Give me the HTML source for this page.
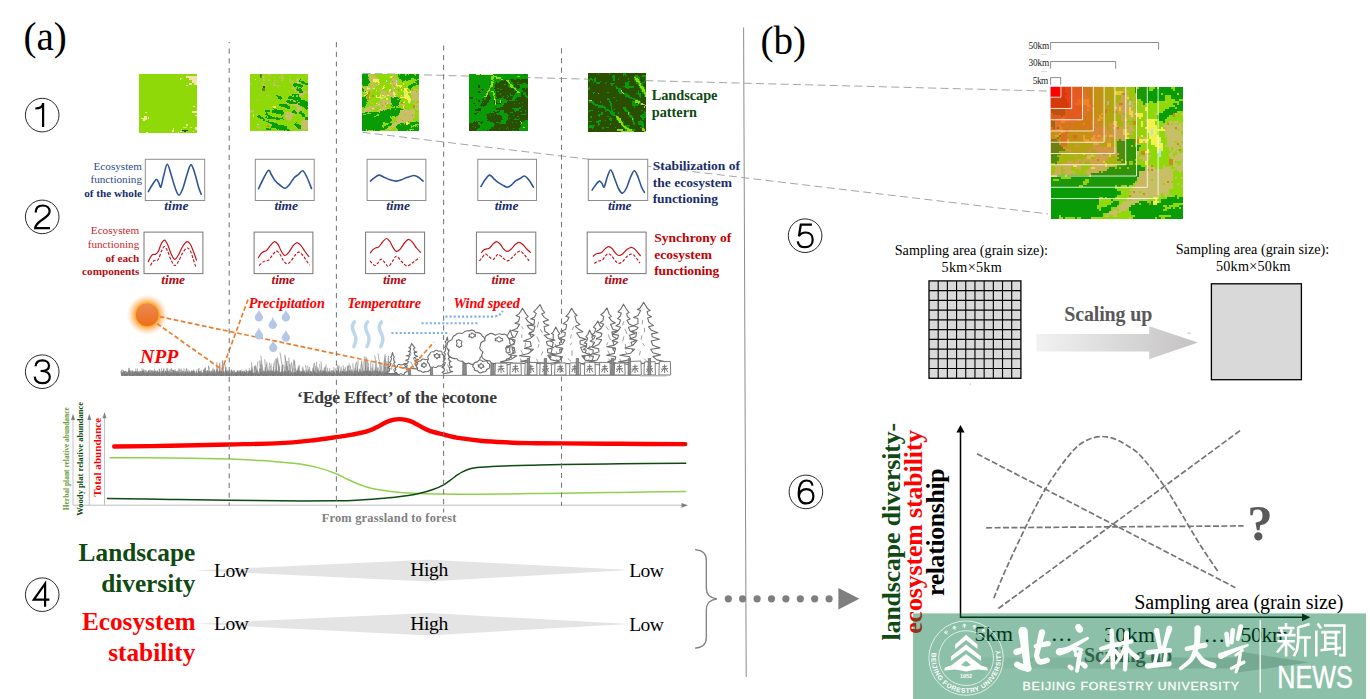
<!DOCTYPE html>
<html><head><meta charset="utf-8"><title>figure</title>
<style>
html,body{margin:0;padding:0;background:#fff;}
body{width:1370px;height:699px;overflow:hidden;font-family:"Liberation Serif",serif;}
svg{display:block;position:absolute;left:0;top:0;}
text{font-family:"Liberation Serif",serif;}
.ss{font-family:"Liberation Sans",sans-serif;}
.b{font-weight:bold;}
.i{font-style:italic;}
</style></head><body>
<svg width="1370" height="699" viewBox="0 0 1370 699">
<!-- sec_base -->
<rect width="1370" height="699" fill="#fff"/>
<text x="23.5" y="49.5" font-size="39" fill="#000">(a)</text>
<text x="760.5" y="54.2" font-size="39" fill="#000">(b)</text>
<line x1="743.6" y1="27.5" x2="746.2" y2="677" stroke="#8c8c8c" stroke-width="1"/>
<line x1="362.5" y1="73.3" x2="1050" y2="91.1" stroke="#a6a6a6" stroke-width="1" stroke-dasharray="8 4.3"/>
<line x1="362.5" y1="132.3" x2="1048" y2="213.9" stroke="#a6a6a6" stroke-width="1" stroke-dasharray="8 4.3"/>
<g transform="translate(42.2,115.1)"><circle r="16.8" fill="none" stroke="#111" stroke-width="0.9"/><path d="M-6.9,-6.6 C-2.5,-6.6 0.9,-8.2 0.9,-12 L0.9,12" fill="none" stroke="#000" stroke-width="2.2" stroke-linejoin="miter" stroke-linecap="butt"/></g>
<g transform="translate(42.2,216.9)"><circle r="16.8" fill="none" stroke="#111" stroke-width="0.9"/><path d="M-6.5,-4.3 C-6.5,-9.2 -3.4,-11.4 0.4,-11.4 C4.6,-11.4 7.4,-9 7.4,-5.3 C7.4,1.8 -6.4,3 -7,11.3 L7.8,11.3" fill="none" stroke="#000" stroke-width="2.2" stroke-linejoin="miter" stroke-linecap="butt"/></g>
<g transform="translate(42.2,371.7)"><circle r="16.8" fill="none" stroke="#111" stroke-width="0.9"/><path d="M-6.6,-5.4 C-6.4,-9.4 -3.6,-11.4 0.2,-11.4 C4.2,-11.4 6.8,-9.2 6.8,-5.9 C6.8,-2.6 4.4,-0.7 -1.6,-0.7 C5,-0.7 7.6,1.6 7.6,5.3 C7.6,9.2 4.6,11.5 0.1,11.5 C-4.4,11.5 -7.2,9.3 -7.5,5" fill="none" stroke="#000" stroke-width="2.2" stroke-linejoin="miter" stroke-linecap="butt"/></g>
<g transform="translate(42.2,594.7)"><circle r="16.8" fill="none" stroke="#111" stroke-width="0.9"/><path d="M2.9,12 L2.9,-11 L-8.4,5 L7.2,5" fill="none" stroke="#000" stroke-width="2.2" stroke-linejoin="miter" stroke-linecap="butt"/></g>
<g transform="translate(805.1,235.7)"><circle r="16.8" fill="none" stroke="#111" stroke-width="0.9"/><path d="M6.8,-11 L-4.3,-11 L-6.2,0.5 C-4.6,-2 -2.2,-3.2 0.6,-3.2 C5,-3.2 7.6,-0.3 7.6,4 C7.6,8.6 4.6,11.5 0.1,11.5 C-4,11.5 -6.9,9.4 -7.4,5.6" fill="none" stroke="#000" stroke-width="2.2" stroke-linejoin="miter" stroke-linecap="butt"/></g>
<g transform="translate(805.9,491.9)"><circle r="16.8" fill="none" stroke="#111" stroke-width="0.9"/><path d="M6.6,-6.2 C6.2,-9.6 3.8,-11.4 0.6,-11.4 C-4.6,-11.4 -7.2,-6.6 -7.2,1 C-7.2,8 -4.6,11.5 0.3,11.5 C4.8,11.5 7.5,8.6 7.5,4.3 C7.5,0.1 4.8,-2.8 0.5,-2.8 C-3.6,-2.8 -7,0 -7,4.6" fill="none" stroke="#000" stroke-width="2.2" stroke-linejoin="miter" stroke-linecap="butt"/></g>
<!-- sec_maps -->
<g shape-rendering="crispEdges"><rect x="139.40" y="74.30" width="58.00" height="58.40" fill="#8fd908"/>
<path fill="#f6e3a6" d="M186.40,76.31h11.05v1.06h-11.05zM186.40,77.32h11.05v1.06h-11.05zM180.40,78.33h2.05v1.06h-2.05zM189.40,78.33h8.05v1.06h-8.05zM180.40,79.33h1.05v1.06h-1.05zM189.40,79.33h8.05v1.06h-8.05zM192.40,80.34h5.05v1.06h-5.05zM192.40,81.35h5.05v1.06h-5.05zM192.40,82.36h5.05v1.06h-5.05zM189.40,83.36h3.05v1.06h-3.05zM194.40,83.36h3.05v1.06h-3.05zM189.40,84.37h3.05v1.06h-3.05zM194.40,84.37h3.05v1.06h-3.05zM186.40,85.38h2.05v1.06h-2.05zM193.40,105.51h2.05v1.06h-2.05zM192.40,110.55h5.05v1.06h-5.05zM145.40,111.56h2.05v1.06h-2.05zM192.40,111.56h5.05v1.06h-5.05zM195.40,114.58h2.05v1.06h-2.05zM144.40,115.58h3.05v1.06h-3.05zM144.40,116.59h3.05v1.06h-3.05zM148.40,116.59h1.05v1.06h-1.05zM141.40,117.60h6.05v1.06h-6.05zM148.40,117.60h1.05v1.06h-1.05zM143.40,118.60h4.05v1.06h-4.05zM143.40,119.61h2.05v1.06h-2.05zM186.40,123.64h2.05v1.06h-2.05zM186.40,124.64h2.05v1.06h-2.05zM195.40,126.66h2.05v1.06h-2.05zM173.40,127.67h1.05v1.06h-1.05zM195.40,127.67h2.05v1.06h-2.05zM173.40,128.67h1.05v1.06h-1.05zM195.40,128.67h2.05v1.06h-2.05zM172.40,129.68h2.05v1.06h-2.05zM172.40,130.69h2.05v1.06h-2.05zM180.40,130.69h2.05v1.06h-2.05zM193.40,130.69h1.05v1.06h-1.05zM146.40,131.69h2.05v1.06h-2.05zM178.40,131.69h1.05v1.06h-1.05z"/>
<path fill="#c6ee4a" d="M183.40,126.66h4.05v1.06h-4.05zM190.40,126.66h2.05v1.06h-2.05zM181.40,128.67h1.05v1.06h-1.05z"/>
<path fill="#2a4f00" d="M182.40,129.68h6.05v1.06h-6.05zM184.40,130.69h2.05v1.06h-2.05z"/>
</g>
<g shape-rendering="crispEdges"><rect x="249.90" y="74.00" width="58.00" height="57.20" fill="#8fd908"/>
<path fill="#6b8a12" d="M259.90,74.00h2.05v1.04h-2.05zM260.90,74.99h1.05v1.04h-1.05zM259.90,75.97h2.05v1.04h-2.05zM259.90,76.96h2.05v1.04h-2.05zM261.90,87.81h3.05v1.04h-3.05zM261.90,88.79h3.05v1.04h-3.05zM261.90,89.78h3.05v1.04h-3.05z"/>
<path fill="#c8be66" d="M267.90,74.00h3.05v1.04h-3.05zM268.90,74.99h1.05v1.04h-1.05zM275.90,74.99h1.05v1.04h-1.05zM280.90,74.99h2.05v1.04h-2.05zM305.90,74.99h1.05v1.04h-1.05zM261.90,75.97h3.05v1.04h-3.05zM281.90,75.97h1.05v1.04h-1.05zM289.90,75.97h1.05v1.04h-1.05zM296.90,75.97h1.05v1.04h-1.05zM305.90,75.97h1.05v1.04h-1.05zM261.90,76.96h2.05v1.04h-2.05zM272.90,76.96h2.05v1.04h-2.05zM278.90,76.96h5.05v1.04h-5.05zM262.90,77.94h1.05v1.04h-1.05zM265.90,77.94h1.05v1.04h-1.05zM280.90,77.94h3.05v1.04h-3.05zM295.90,77.94h3.05v1.04h-3.05zM262.90,78.93h2.05v1.04h-2.05zM267.90,78.93h2.05v1.04h-2.05zM281.90,78.93h1.05v1.04h-1.05zM288.90,78.93h2.05v1.04h-2.05zM295.90,78.93h3.05v1.04h-3.05zM258.90,79.92h1.05v1.04h-1.05zM262.90,79.92h2.05v1.04h-2.05zM267.90,79.92h2.05v1.04h-2.05zM273.90,79.92h2.05v1.04h-2.05zM280.90,79.92h2.05v1.04h-2.05zM288.90,79.92h2.05v1.04h-2.05zM292.90,79.92h1.05v1.04h-1.05zM295.90,79.92h3.05v1.04h-3.05zM276.90,80.90h1.05v1.04h-1.05zM290.90,80.90h2.05v1.04h-2.05zM296.90,80.90h2.05v1.04h-2.05zM261.90,81.89h1.05v1.04h-1.05zM272.90,81.89h2.05v1.04h-2.05zM289.90,81.89h2.05v1.04h-2.05zM294.90,81.89h2.05v1.04h-2.05zM298.90,81.89h2.05v1.04h-2.05zM249.90,82.88h2.05v1.04h-2.05zM260.90,82.88h1.05v1.04h-1.05zM262.90,82.88h1.05v1.04h-1.05zM273.90,82.88h1.05v1.04h-1.05zM291.90,82.88h1.05v1.04h-1.05zM250.90,83.86h1.05v1.04h-1.05zM261.90,83.86h2.05v1.04h-2.05zM272.90,83.86h3.05v1.04h-3.05zM261.90,84.85h1.05v1.04h-1.05zM263.90,84.85h2.05v1.04h-2.05zM272.90,84.85h3.05v1.04h-3.05zM276.90,84.85h2.05v1.04h-2.05zM265.90,85.83h1.05v1.04h-1.05zM277.90,85.83h1.05v1.04h-1.05zM283.90,85.83h1.05v1.04h-1.05zM292.90,85.83h1.05v1.04h-1.05zM302.90,85.83h1.05v1.04h-1.05zM276.90,86.82h1.05v1.04h-1.05zM291.90,86.82h2.05v1.04h-2.05zM301.90,86.82h2.05v1.04h-2.05zM258.90,87.81h1.05v1.04h-1.05zM290.90,87.81h4.05v1.04h-4.05zM300.90,87.81h1.05v1.04h-1.05zM302.90,87.81h1.05v1.04h-1.05zM293.90,88.79h2.05v1.04h-2.05zM260.90,89.78h1.05v1.04h-1.05zM293.90,89.78h2.05v1.04h-2.05zM260.90,90.77h1.05v1.04h-1.05zM294.90,90.77h1.05v1.04h-1.05zM303.90,90.77h3.05v1.04h-3.05zM288.90,91.75h1.05v1.04h-1.05zM296.90,91.75h2.05v1.04h-2.05zM302.90,91.75h4.05v1.04h-4.05zM296.90,92.74h9.05v1.04h-9.05zM298.90,93.72h5.05v1.04h-5.05zM258.90,94.71h1.05v1.04h-1.05zM265.90,94.71h1.05v1.04h-1.05zM267.90,94.71h1.05v1.04h-1.05zM278.90,94.71h1.05v1.04h-1.05zM298.90,94.71h4.05v1.04h-4.05zM269.90,95.70h1.05v1.04h-1.05zM300.90,95.70h1.05v1.04h-1.05zM302.90,95.70h1.05v1.04h-1.05zM254.90,99.64h2.05v1.04h-2.05zM257.90,99.64h1.05v1.04h-1.05zM282.90,99.64h1.05v1.04h-1.05zM289.90,99.64h1.05v1.04h-1.05zM293.90,99.64h1.05v1.04h-1.05zM296.90,99.64h1.05v1.04h-1.05zM293.90,100.63h2.05v1.04h-2.05zM285.90,101.61h1.05v1.04h-1.05zM297.90,101.61h1.05v1.04h-1.05zM286.90,102.60h2.05v1.04h-2.05zM289.90,103.59h8.05v1.04h-8.05zM276.90,104.57h1.05v1.04h-1.05zM290.90,104.57h1.05v1.04h-1.05zM293.90,104.57h5.05v1.04h-5.05zM290.90,105.56h1.05v1.04h-1.05zM295.90,105.56h3.05v1.04h-3.05zM296.90,106.54h4.05v1.04h-4.05zM296.90,107.53h5.05v1.04h-5.05zM281.90,108.52h1.05v1.04h-1.05zM296.90,108.52h5.05v1.04h-5.05zM295.90,109.50h3.05v1.04h-3.05zM249.90,110.49h4.05v1.04h-4.05zM295.90,110.49h3.05v1.04h-3.05zM302.90,110.49h1.05v1.04h-1.05zM249.90,111.48h2.05v1.04h-2.05zM286.90,111.48h1.05v1.04h-1.05zM296.90,111.48h1.05v1.04h-1.05zM284.90,112.46h6.05v1.04h-6.05zM284.90,113.45h8.05v1.04h-8.05zM255.90,114.43h1.05v1.04h-1.05zM285.90,114.43h7.05v1.04h-7.05zM284.90,115.42h9.05v1.04h-9.05zM294.90,115.42h1.05v1.04h-1.05zM284.90,116.41h7.05v1.04h-7.05zM285.90,117.39h6.05v1.04h-6.05zM254.90,118.38h1.05v1.04h-1.05zM285.90,118.38h6.05v1.04h-6.05zM303.90,118.38h1.05v1.04h-1.05zM261.90,119.37h1.05v1.04h-1.05zM286.90,119.37h4.05v1.04h-4.05zM302.90,119.37h2.05v1.04h-2.05zM288.90,120.35h2.05v1.04h-2.05zM293.90,120.35h1.05v1.04h-1.05zM301.90,120.35h6.05v1.04h-6.05zM272.90,121.34h2.05v1.04h-2.05zM300.90,121.34h7.05v1.04h-7.05zM301.90,122.32h6.05v1.04h-6.05zM300.90,123.31h7.05v1.04h-7.05zM269.90,124.30h1.05v1.04h-1.05zM300.90,124.30h7.05v1.04h-7.05zM269.90,125.28h2.05v1.04h-2.05zM301.90,125.28h6.05v1.04h-6.05zM256.90,126.27h1.05v1.04h-1.05zM258.90,126.27h1.05v1.04h-1.05zM293.90,126.27h2.05v1.04h-2.05zM301.90,126.27h6.05v1.04h-6.05zM256.90,127.26h3.05v1.04h-3.05zM295.90,127.26h1.05v1.04h-1.05zM300.90,127.26h7.05v1.04h-7.05zM258.90,128.24h1.05v1.04h-1.05zM300.90,128.24h1.05v1.04h-1.05zM302.90,128.24h5.05v1.04h-5.05zM295.90,129.23h1.05v1.04h-1.05zM301.90,129.23h4.05v1.04h-4.05zM253.90,130.21h1.05v1.04h-1.05zM301.90,130.21h3.05v1.04h-3.05z"/>
<path fill="#2a4f00" d="M259.90,74.99h1.05v1.04h-1.05zM262.90,85.83h2.05v1.04h-2.05zM262.90,86.82h2.05v1.04h-2.05z"/>
<path fill="#f6e3a6" d="M254.90,78.93h1.05v1.04h-1.05z"/>
<path fill="#0a9c06" d="M299.90,78.93h1.05v1.04h-1.05zM298.90,79.92h1.05v1.04h-1.05zM298.90,80.90h5.05v1.04h-5.05zM300.90,81.89h4.05v1.04h-4.05zM293.90,82.88h3.05v1.04h-3.05zM301.90,82.88h6.05v1.04h-6.05zM292.90,83.86h8.05v1.04h-8.05zM304.90,83.86h3.05v1.04h-3.05zM292.90,84.85h10.05v1.04h-10.05zM293.90,85.83h2.05v1.04h-2.05zM297.90,85.83h5.05v1.04h-5.05zM296.90,86.82h1.05v1.04h-1.05zM300.90,86.82h1.05v1.04h-1.05zM296.90,87.81h1.05v1.04h-1.05zM298.90,87.81h2.05v1.04h-2.05zM295.90,88.79h6.05v1.04h-6.05zM296.90,89.78h5.05v1.04h-5.05zM298.90,90.77h4.05v1.04h-4.05zM298.90,91.75h4.05v1.04h-4.05zM291.90,93.72h7.05v1.04h-7.05zM275.90,94.71h2.05v1.04h-2.05zM291.90,94.71h1.05v1.04h-1.05zM293.90,94.71h2.05v1.04h-2.05zM297.90,94.71h1.05v1.04h-1.05zM276.90,95.70h4.05v1.04h-4.05zM288.90,95.70h3.05v1.04h-3.05zM293.90,95.70h2.05v1.04h-2.05zM297.90,95.70h1.05v1.04h-1.05zM277.90,96.68h4.05v1.04h-4.05zM287.90,96.68h12.05v1.04h-12.05zM277.90,97.67h4.05v1.04h-4.05zM287.90,97.67h13.05v1.04h-13.05zM279.90,98.66h1.05v1.04h-1.05zM292.90,98.66h8.05v1.04h-8.05zM286.90,99.64h3.05v1.04h-3.05zM290.90,99.64h2.05v1.04h-2.05zM294.90,99.64h2.05v1.04h-2.05zM297.90,99.64h7.05v1.04h-7.05zM285.90,100.63h7.05v1.04h-7.05zM295.90,100.63h11.05v1.04h-11.05zM286.90,101.61h11.05v1.04h-11.05zM299.90,101.61h8.05v1.04h-8.05zM288.90,102.60h8.05v1.04h-8.05zM297.90,102.60h10.05v1.04h-10.05zM278.90,103.59h8.05v1.04h-8.05zM297.90,103.59h10.05v1.04h-10.05zM278.90,104.57h9.05v1.04h-9.05zM299.90,104.57h8.05v1.04h-8.05zM280.90,105.56h9.05v1.04h-9.05zM301.90,105.56h5.05v1.04h-5.05zM284.90,106.54h5.05v1.04h-5.05zM303.90,106.54h4.05v1.04h-4.05zM272.90,107.53h1.05v1.04h-1.05zM286.90,107.53h3.05v1.04h-3.05zM304.90,107.53h3.05v1.04h-3.05zM273.90,108.52h3.05v1.04h-3.05zM305.90,108.52h1.05v1.04h-1.05zM264.90,109.50h3.05v1.04h-3.05zM272.90,109.50h9.05v1.04h-9.05zM264.90,110.49h5.05v1.04h-5.05zM271.90,110.49h11.05v1.04h-11.05zM292.90,110.49h2.05v1.04h-2.05zM271.90,111.48h11.05v1.04h-11.05zM291.90,111.48h4.05v1.04h-4.05zM299.90,111.48h2.05v1.04h-2.05zM265.90,112.46h1.05v1.04h-1.05zM275.90,112.46h8.05v1.04h-8.05zM294.90,112.46h2.05v1.04h-2.05zM298.90,112.46h3.05v1.04h-3.05zM265.90,113.45h2.05v1.04h-2.05zM276.90,113.45h7.05v1.04h-7.05zM294.90,113.45h1.05v1.04h-1.05zM299.90,113.45h4.05v1.04h-4.05zM264.90,114.43h3.05v1.04h-3.05zM280.90,114.43h2.05v1.04h-2.05zM300.90,114.43h4.05v1.04h-4.05zM257.90,115.42h2.05v1.04h-2.05zM266.90,115.42h3.05v1.04h-3.05zM280.90,115.42h1.05v1.04h-1.05zM301.90,115.42h3.05v1.04h-3.05zM256.90,116.41h4.05v1.04h-4.05zM265.90,116.41h1.05v1.04h-1.05zM267.90,116.41h4.05v1.04h-4.05zM301.90,116.41h3.05v1.04h-3.05zM257.90,117.39h5.05v1.04h-5.05zM264.90,117.39h2.05v1.04h-2.05zM267.90,117.39h7.05v1.04h-7.05zM275.90,117.39h2.05v1.04h-2.05zM281.90,117.39h1.05v1.04h-1.05zM304.90,117.39h3.05v1.04h-3.05zM259.90,118.38h4.05v1.04h-4.05zM266.90,118.38h16.05v1.04h-16.05zM304.90,118.38h3.05v1.04h-3.05zM262.90,119.37h2.05v1.04h-2.05zM275.90,119.37h4.05v1.04h-4.05zM282.90,119.37h1.05v1.04h-1.05zM304.90,119.37h3.05v1.04h-3.05zM262.90,120.35h2.05v1.04h-2.05zM267.90,120.35h1.05v1.04h-1.05zM265.90,121.34h3.05v1.04h-3.05zM267.90,122.32h6.05v1.04h-6.05zM295.90,122.32h1.05v1.04h-1.05zM269.90,123.31h7.05v1.04h-7.05zM294.90,123.31h1.05v1.04h-1.05zM271.90,124.30h6.05v1.04h-6.05zM293.90,124.30h5.05v1.04h-5.05zM271.90,125.28h12.05v1.04h-12.05zM294.90,125.28h6.05v1.04h-6.05zM270.90,126.27h16.05v1.04h-16.05zM295.90,126.27h5.05v1.04h-5.05zM270.90,127.26h16.05v1.04h-16.05zM296.90,127.26h4.05v1.04h-4.05zM265.90,128.24h3.05v1.04h-3.05zM269.90,128.24h1.05v1.04h-1.05zM275.90,128.24h11.05v1.04h-11.05zM297.90,128.24h3.05v1.04h-3.05zM265.90,129.23h5.05v1.04h-5.05zM276.90,129.23h1.05v1.04h-1.05zM278.90,129.23h10.05v1.04h-10.05zM283.90,130.21h1.05v1.04h-1.05zM286.90,130.21h3.05v1.04h-3.05z"/>
<path fill="#c6ee4a" d="M296.90,81.89h2.05v1.04h-2.05zM252.90,114.43h1.05v1.04h-1.05zM252.90,115.42h1.05v1.04h-1.05zM252.90,116.41h1.05v1.04h-1.05z"/>
<path fill="#f4f24a" d="M272.90,105.56h3.05v1.04h-3.05zM272.90,106.54h3.05v1.04h-3.05z"/>
<path fill="#a9e4ee" d="M256.90,124.30h2.05v1.04h-2.05z"/>
<path fill="#c98a1e" d="M266.90,125.28h2.05v1.04h-2.05zM266.90,126.27h2.05v1.04h-2.05z"/>
</g>
<g shape-rendering="crispEdges"><rect x="362.30" y="74.20" width="56.80" height="56.90" fill="#8fd908"/>
<path fill="#0a9c06" d="M362.30,74.20h6.07v0.91h-6.07zM398.45,74.20h0.91v0.91h-0.91zM400.17,74.20h4.35v0.91h-4.35zM407.05,74.20h0.91v0.91h-0.91zM408.77,74.20h5.21v0.91h-5.21zM415.66,74.20h3.49v0.91h-3.49zM362.30,75.06h6.07v0.91h-6.07zM398.45,75.06h6.07v0.91h-6.07zM406.19,75.06h8.66v0.91h-8.66zM415.66,75.06h3.49v0.91h-3.49zM362.30,75.92h6.07v0.91h-6.07zM398.45,75.92h20.70v0.91h-20.70zM362.30,76.79h6.93v0.91h-6.93zM399.31,76.79h10.38v0.91h-10.38zM410.49,76.79h6.07v0.91h-6.07zM417.38,76.79h1.77v0.91h-1.77zM362.30,77.65h6.07v0.91h-6.07zM399.31,77.65h12.10v0.91h-12.10zM413.94,77.65h5.21v0.91h-5.21zM362.30,78.51h6.07v0.91h-6.07zM399.31,78.51h12.10v0.91h-12.10zM413.94,78.51h5.21v0.91h-5.21zM362.30,79.37h6.93v0.91h-6.93zM401.03,79.37h10.38v0.91h-10.38zM415.66,79.37h1.77v0.91h-1.77zM362.30,80.23h6.93v0.91h-6.93zM401.89,80.23h2.63v0.91h-2.63zM406.19,80.23h1.77v0.91h-1.77zM417.38,80.23h1.77v0.91h-1.77zM362.30,81.10h7.80v0.91h-7.80zM401.89,81.10h0.91v0.91h-0.91zM414.80,81.10h1.77v0.91h-1.77zM417.38,81.10h1.77v0.91h-1.77zM362.30,81.96h7.80v0.91h-7.80zM415.66,81.96h3.49v0.91h-3.49zM362.30,82.82h6.93v0.91h-6.93zM413.08,82.82h2.63v0.91h-2.63zM416.52,82.82h2.63v0.91h-2.63zM362.30,83.68h6.07v0.91h-6.07zM411.35,83.68h7.80v0.91h-7.80zM362.30,84.55h6.07v0.91h-6.07zM410.49,84.55h6.07v0.91h-6.07zM363.16,85.41h5.21v0.91h-5.21zM408.77,85.41h6.07v0.91h-6.07zM366.60,86.27h0.91v0.91h-0.91zM407.91,86.27h5.21v0.91h-5.21zM407.91,87.13h4.35v0.91h-4.35zM362.30,87.99h0.91v0.91h-0.91zM408.77,87.99h2.63v0.91h-2.63zM362.30,88.86h1.77v0.91h-1.77zM410.49,88.86h0.91v0.91h-0.91zM362.30,89.72h1.77v0.91h-1.77zM362.30,90.58h1.77v0.91h-1.77zM363.16,91.44h0.91v0.91h-0.91zM364.88,91.44h0.91v0.91h-0.91zM365.74,94.89h0.91v0.91h-0.91zM364.88,95.75h0.91v0.91h-0.91zM362.30,96.62h2.63v0.91h-2.63zM391.56,96.62h0.91v0.91h-0.91zM394.14,96.62h4.35v0.91h-4.35zM362.30,97.48h3.49v0.91h-3.49zM390.70,97.48h7.80v0.91h-7.80zM362.30,98.34h3.49v0.91h-3.49zM390.70,98.34h7.80v0.91h-7.80zM362.30,99.20h4.35v0.91h-4.35zM390.70,99.20h6.07v0.91h-6.07zM397.58,99.20h0.91v0.91h-0.91zM399.31,99.20h1.77v0.91h-1.77zM362.30,100.06h5.21v0.91h-5.21zM390.70,100.06h9.52v0.91h-9.52zM362.30,100.93h6.07v0.91h-6.07zM390.70,100.93h9.52v0.91h-9.52zM362.30,101.79h3.49v0.91h-3.49zM390.70,101.79h8.66v0.91h-8.66zM362.30,102.65h4.35v0.91h-4.35zM391.56,102.65h7.80v0.91h-7.80zM362.30,103.51h2.63v0.91h-2.63zM390.70,103.51h8.66v0.91h-8.66zM362.30,104.37h3.49v0.91h-3.49zM391.56,104.37h7.80v0.91h-7.80zM362.30,105.24h3.49v0.91h-3.49zM390.70,105.24h1.77v0.91h-1.77zM393.28,105.24h5.21v0.91h-5.21zM362.30,106.10h2.63v0.91h-2.63zM392.42,106.10h1.77v0.91h-1.77zM395.00,106.10h0.91v0.91h-0.91zM397.58,106.10h1.77v0.91h-1.77zM364.02,106.96h0.91v0.91h-0.91zM395.00,106.96h0.91v0.91h-0.91zM397.58,106.96h0.91v0.91h-0.91zM390.70,107.82h10.38v0.91h-10.38zM387.26,108.68h2.63v0.91h-2.63zM390.70,108.68h0.91v0.91h-0.91zM392.42,108.68h2.63v0.91h-2.63zM395.86,108.68h6.93v0.91h-6.93zM386.40,109.55h16.40v0.91h-16.40zM382.95,110.41h0.91v0.91h-0.91zM384.68,110.41h15.54v0.91h-15.54zM379.51,111.27h20.70v0.91h-20.70zM364.88,112.13h3.49v0.91h-3.49zM369.18,112.13h9.52v0.91h-9.52zM379.51,112.13h20.70v0.91h-20.70zM362.30,113.00h4.35v0.91h-4.35zM370.91,113.00h28.45v0.91h-28.45zM362.30,113.86h0.91v0.91h-0.91zM365.74,113.86h11.24v0.91h-11.24zM378.65,113.86h20.70v0.91h-20.70zM362.30,114.72h13.82v0.91h-13.82zM378.65,114.72h19.84v0.91h-19.84zM362.30,115.58h13.82v0.91h-13.82zM377.79,115.58h19.84v0.91h-19.84zM362.30,116.44h12.10v0.91h-12.10zM376.07,116.44h13.82v0.91h-13.82zM390.70,116.44h1.77v0.91h-1.77zM395.00,116.44h0.91v0.91h-0.91zM362.30,117.31h27.59v0.91h-27.59zM362.30,118.17h28.45v0.91h-28.45zM362.30,119.03h30.17v0.91h-30.17zM362.30,119.89h30.17v0.91h-30.17zM362.30,120.75h28.45v0.91h-28.45zM415.66,120.75h0.91v0.91h-0.91zM362.30,121.62h20.70v0.91h-20.70zM384.68,121.62h0.91v0.91h-0.91zM386.40,121.62h3.49v0.91h-3.49zM412.22,121.62h4.35v0.91h-4.35zM417.38,121.62h1.77v0.91h-1.77zM362.30,122.48h20.70v0.91h-20.70zM388.12,122.48h0.91v0.91h-0.91zM409.63,122.48h9.52v0.91h-9.52zM362.30,123.34h20.70v0.91h-20.70zM388.98,123.34h2.63v0.91h-2.63zM400.17,123.34h3.49v0.91h-3.49zM405.33,123.34h0.91v0.91h-0.91zM409.63,123.34h9.52v0.91h-9.52zM362.30,124.20h20.70v0.91h-20.70zM388.12,124.20h3.49v0.91h-3.49zM398.45,124.20h1.77v0.91h-1.77zM401.03,124.20h3.49v0.91h-3.49zM405.33,124.20h0.91v0.91h-0.91zM407.91,124.20h6.93v0.91h-6.93zM362.30,125.07h19.84v0.91h-19.84zM386.40,125.07h4.35v0.91h-4.35zM396.72,125.07h13.82v0.91h-13.82zM412.22,125.07h0.91v0.91h-0.91zM417.38,125.07h1.77v0.91h-1.77zM362.30,125.93h19.84v0.91h-19.84zM383.82,125.93h4.35v0.91h-4.35zM395.86,125.93h15.54v0.91h-15.54zM413.94,125.93h0.91v0.91h-0.91zM415.66,125.93h1.77v0.91h-1.77zM418.24,125.93h0.91v0.91h-0.91zM362.30,126.79h20.70v0.91h-20.70zM383.82,126.79h4.35v0.91h-4.35zM395.86,126.79h14.68v0.91h-14.68zM412.22,126.79h6.93v0.91h-6.93zM362.30,127.65h25.01v0.91h-25.01zM396.72,127.65h22.43v0.91h-22.43zM362.30,128.51h22.43v0.91h-22.43zM396.72,128.51h22.43v0.91h-22.43zM362.30,129.38h3.49v0.91h-3.49zM366.60,129.38h18.12v0.91h-18.12zM398.45,129.38h10.38v0.91h-10.38zM413.94,129.38h5.21v0.91h-5.21zM362.30,130.24h3.49v0.91h-3.49zM367.46,130.24h0.91v0.91h-0.91zM372.63,130.24h0.91v0.91h-0.91zM375.21,130.24h4.35v0.91h-4.35zM397.58,130.24h9.52v0.91h-9.52zM407.91,130.24h1.77v0.91h-1.77zM411.35,130.24h7.80v0.91h-7.80z"/>
<path fill="#c8be66" d="M368.32,74.20h2.63v0.91h-2.63zM373.49,74.20h0.91v0.91h-0.91zM368.32,75.06h4.35v0.91h-4.35zM374.35,75.06h0.91v0.91h-0.91zM393.28,75.06h0.91v0.91h-0.91zM369.18,75.92h1.77v0.91h-1.77zM371.77,75.92h5.21v0.91h-5.21zM393.28,75.92h2.63v0.91h-2.63zM369.18,76.79h7.80v0.91h-7.80zM394.14,76.79h0.91v0.91h-0.91zM416.52,76.79h0.91v0.91h-0.91zM368.32,77.65h0.91v0.91h-0.91zM370.05,77.65h7.80v0.91h-7.80zM392.42,77.65h3.49v0.91h-3.49zM398.45,77.65h0.91v0.91h-0.91zM368.32,78.51h6.93v0.91h-6.93zM376.07,78.51h2.63v0.91h-2.63zM392.42,78.51h2.63v0.91h-2.63zM397.58,78.51h0.91v0.91h-0.91zM369.18,79.37h4.35v0.91h-4.35zM378.65,79.37h0.91v0.91h-0.91zM392.42,79.37h3.49v0.91h-3.49zM370.05,80.23h3.49v0.91h-3.49zM391.56,80.23h3.49v0.91h-3.49zM396.72,80.23h1.77v0.91h-1.77zM411.35,80.23h0.91v0.91h-0.91zM370.05,81.10h2.63v0.91h-2.63zM390.70,81.10h0.91v0.91h-0.91zM393.28,81.10h2.63v0.91h-2.63zM396.72,81.10h0.91v0.91h-0.91zM370.91,81.96h4.35v0.91h-4.35zM376.07,81.96h1.77v0.91h-1.77zM389.84,81.96h8.66v0.91h-8.66zM401.03,81.96h0.91v0.91h-0.91zM370.05,82.82h3.49v0.91h-3.49zM376.93,82.82h4.35v0.91h-4.35zM390.70,82.82h0.91v0.91h-0.91zM392.42,82.82h3.49v0.91h-3.49zM396.72,82.82h0.91v0.91h-0.91zM370.05,83.68h3.49v0.91h-3.49zM375.21,83.68h1.77v0.91h-1.77zM378.65,83.68h0.91v0.91h-0.91zM390.70,83.68h0.91v0.91h-0.91zM392.42,83.68h3.49v0.91h-3.49zM396.72,83.68h1.77v0.91h-1.77zM370.05,84.55h7.80v0.91h-7.80zM390.70,84.55h5.21v0.91h-5.21zM397.58,84.55h0.91v0.91h-0.91zM372.63,85.41h5.21v0.91h-5.21zM391.56,85.41h1.77v0.91h-1.77zM395.00,85.41h0.91v0.91h-0.91zM397.58,85.41h0.91v0.91h-0.91zM407.05,85.41h0.91v0.91h-0.91zM415.66,85.41h0.91v0.91h-0.91zM418.24,85.41h0.91v0.91h-0.91zM365.74,86.27h0.91v0.91h-0.91zM367.46,86.27h3.49v0.91h-3.49zM371.77,86.27h3.49v0.91h-3.49zM392.42,86.27h1.77v0.91h-1.77zM395.86,86.27h0.91v0.91h-0.91zM397.58,86.27h0.91v0.91h-0.91zM363.16,87.13h2.63v0.91h-2.63zM368.32,87.13h2.63v0.91h-2.63zM371.77,87.13h3.49v0.91h-3.49zM381.23,87.13h0.91v0.91h-0.91zM392.42,87.13h6.07v0.91h-6.07zM364.02,87.99h2.63v0.91h-2.63zM370.05,87.99h3.49v0.91h-3.49zM376.07,87.99h0.91v0.91h-0.91zM378.65,87.99h0.91v0.91h-0.91zM392.42,87.99h1.77v0.91h-1.77zM395.86,87.99h0.91v0.91h-0.91zM402.75,87.99h0.91v0.91h-0.91zM364.02,88.86h1.77v0.91h-1.77zM368.32,88.86h4.35v0.91h-4.35zM379.51,88.86h3.49v0.91h-3.49zM393.28,88.86h0.91v0.91h-0.91zM413.08,88.86h4.35v0.91h-4.35zM364.02,89.72h2.63v0.91h-2.63zM368.32,89.72h0.91v0.91h-0.91zM379.51,89.72h1.77v0.91h-1.77zM387.26,89.72h1.77v0.91h-1.77zM393.28,89.72h2.63v0.91h-2.63zM411.35,89.72h0.91v0.91h-0.91zM413.08,89.72h0.91v0.91h-0.91zM414.80,89.72h1.77v0.91h-1.77zM417.38,89.72h1.77v0.91h-1.77zM364.02,90.58h1.77v0.91h-1.77zM369.18,90.58h0.91v0.91h-0.91zM370.91,90.58h0.91v0.91h-0.91zM380.37,90.58h0.91v0.91h-0.91zM382.95,90.58h0.91v0.91h-0.91zM384.68,90.58h0.91v0.91h-0.91zM387.26,90.58h2.63v0.91h-2.63zM390.70,90.58h0.91v0.91h-0.91zM393.28,90.58h4.35v0.91h-4.35zM410.49,90.58h7.80v0.91h-7.80zM364.02,91.44h0.91v0.91h-0.91zM370.91,91.44h0.91v0.91h-0.91zM377.79,91.44h0.91v0.91h-0.91zM380.37,91.44h6.07v0.91h-6.07zM388.12,91.44h0.91v0.91h-0.91zM389.84,91.44h0.91v0.91h-0.91zM391.56,91.44h3.49v0.91h-3.49zM395.86,91.44h1.77v0.91h-1.77zM411.35,91.44h4.35v0.91h-4.35zM416.52,91.44h2.63v0.91h-2.63zM364.02,92.30h0.91v0.91h-0.91zM381.23,92.30h5.21v0.91h-5.21zM388.12,92.30h5.21v0.91h-5.21zM395.00,92.30h3.49v0.91h-3.49zM411.35,92.30h5.21v0.91h-5.21zM417.38,92.30h1.77v0.91h-1.77zM364.02,93.17h0.91v0.91h-0.91zM367.46,93.17h0.91v0.91h-0.91zM380.37,93.17h2.63v0.91h-2.63zM383.82,93.17h3.49v0.91h-3.49zM388.12,93.17h5.21v0.91h-5.21zM395.00,93.17h1.77v0.91h-1.77zM411.35,93.17h6.93v0.91h-6.93zM380.37,94.03h4.35v0.91h-4.35zM385.54,94.03h7.80v0.91h-7.80zM395.86,94.03h1.77v0.91h-1.77zM411.35,94.03h6.93v0.91h-6.93zM375.21,94.89h0.91v0.91h-0.91zM381.23,94.89h0.91v0.91h-0.91zM383.82,94.89h0.91v0.91h-0.91zM386.40,94.89h0.91v0.91h-0.91zM388.98,94.89h5.21v0.91h-5.21zM411.35,94.89h7.80v0.91h-7.80zM378.65,95.75h0.91v0.91h-0.91zM381.23,95.75h2.63v0.91h-2.63zM385.54,95.75h0.91v0.91h-0.91zM387.26,95.75h0.91v0.91h-0.91zM388.98,95.75h5.21v0.91h-5.21zM400.17,95.75h0.91v0.91h-0.91zM401.89,95.75h1.77v0.91h-1.77zM412.22,95.75h6.93v0.91h-6.93zM385.54,96.62h0.91v0.91h-0.91zM387.26,96.62h0.91v0.91h-0.91zM392.42,96.62h1.77v0.91h-1.77zM412.22,96.62h6.93v0.91h-6.93zM379.51,97.48h0.91v0.91h-0.91zM382.09,97.48h1.77v0.91h-1.77zM386.40,97.48h1.77v0.91h-1.77zM401.89,97.48h0.91v0.91h-0.91zM403.61,97.48h0.91v0.91h-0.91zM412.22,97.48h3.49v0.91h-3.49zM416.52,97.48h1.77v0.91h-1.77zM412.22,98.34h4.35v0.91h-4.35zM417.38,98.34h1.77v0.91h-1.77zM372.63,99.20h1.77v0.91h-1.77zM380.37,99.20h1.77v0.91h-1.77zM382.95,99.20h0.91v0.91h-0.91zM411.35,99.20h6.07v0.91h-6.07zM418.24,99.20h0.91v0.91h-0.91zM367.46,100.06h0.91v0.91h-0.91zM379.51,100.06h7.80v0.91h-7.80zM388.12,100.06h2.63v0.91h-2.63zM413.08,100.06h0.91v0.91h-0.91zM414.80,100.06h4.35v0.91h-4.35zM369.18,100.93h1.77v0.91h-1.77zM378.65,100.93h0.91v0.91h-0.91zM381.23,100.93h9.52v0.91h-9.52zM413.08,100.93h0.91v0.91h-0.91zM414.80,100.93h1.77v0.91h-1.77zM370.05,101.79h0.91v0.91h-0.91zM377.79,101.79h1.77v0.91h-1.77zM382.09,101.79h8.66v0.91h-8.66zM399.31,101.79h0.91v0.91h-0.91zM404.47,101.79h0.91v0.91h-0.91zM413.94,101.79h1.77v0.91h-1.77zM416.52,101.79h0.91v0.91h-0.91zM370.91,102.65h1.77v0.91h-1.77zM376.93,102.65h2.63v0.91h-2.63zM380.37,102.65h4.35v0.91h-4.35zM385.54,102.65h1.77v0.91h-1.77zM388.12,102.65h3.49v0.91h-3.49zM399.31,102.65h0.91v0.91h-0.91zM402.75,102.65h0.91v0.91h-0.91zM413.08,102.65h1.77v0.91h-1.77zM416.52,102.65h2.63v0.91h-2.63zM366.60,103.51h0.91v0.91h-0.91zM372.63,103.51h0.91v0.91h-0.91zM381.23,103.51h6.07v0.91h-6.07zM389.84,103.51h0.91v0.91h-0.91zM401.03,103.51h0.91v0.91h-0.91zM402.75,103.51h2.63v0.91h-2.63zM413.08,103.51h1.77v0.91h-1.77zM415.66,103.51h3.49v0.91h-3.49zM376.93,104.37h0.91v0.91h-0.91zM381.23,104.37h6.07v0.91h-6.07zM400.17,104.37h4.35v0.91h-4.35zM413.94,104.37h5.21v0.91h-5.21zM373.49,105.24h1.77v0.91h-1.77zM376.07,105.24h6.07v0.91h-6.07zM382.95,105.24h3.49v0.91h-3.49zM401.89,105.24h2.63v0.91h-2.63zM414.80,105.24h4.35v0.91h-4.35zM369.18,106.10h2.63v0.91h-2.63zM372.63,106.10h1.77v0.91h-1.77zM375.21,106.10h1.77v0.91h-1.77zM378.65,106.10h6.07v0.91h-6.07zM414.80,106.10h0.91v0.91h-0.91zM418.24,106.10h0.91v0.91h-0.91zM367.46,106.96h9.52v0.91h-9.52zM379.51,106.96h1.77v0.91h-1.77zM382.09,106.96h2.63v0.91h-2.63zM414.80,106.96h1.77v0.91h-1.77zM418.24,106.96h0.91v0.91h-0.91zM364.02,107.82h2.63v0.91h-2.63zM367.46,107.82h3.49v0.91h-3.49zM373.49,107.82h1.77v0.91h-1.77zM379.51,107.82h6.07v0.91h-6.07zM386.40,107.82h2.63v0.91h-2.63zM403.61,107.82h1.77v0.91h-1.77zM410.49,107.82h0.91v0.91h-0.91zM414.80,107.82h4.35v0.91h-4.35zM364.02,108.68h2.63v0.91h-2.63zM367.46,108.68h3.49v0.91h-3.49zM372.63,108.68h2.63v0.91h-2.63zM378.65,108.68h0.91v0.91h-0.91zM381.23,108.68h5.21v0.91h-5.21zM403.61,108.68h3.49v0.91h-3.49zM410.49,108.68h3.49v0.91h-3.49zM415.66,108.68h3.49v0.91h-3.49zM364.02,109.55h2.63v0.91h-2.63zM368.32,109.55h2.63v0.91h-2.63zM374.35,109.55h0.91v0.91h-0.91zM377.79,109.55h8.66v0.91h-8.66zM402.75,109.55h0.91v0.91h-0.91zM404.47,109.55h0.91v0.91h-0.91zM406.19,109.55h9.52v0.91h-9.52zM416.52,109.55h2.63v0.91h-2.63zM364.02,110.41h2.63v0.91h-2.63zM367.46,110.41h5.21v0.91h-5.21zM376.93,110.41h6.07v0.91h-6.07zM400.17,110.41h14.68v0.91h-14.68zM417.38,110.41h0.91v0.91h-0.91zM363.16,111.27h3.49v0.91h-3.49zM368.32,111.27h2.63v0.91h-2.63zM371.77,111.27h0.91v0.91h-0.91zM377.79,111.27h1.77v0.91h-1.77zM400.17,111.27h14.68v0.91h-14.68zM362.30,112.13h2.63v0.91h-2.63zM378.65,112.13h0.91v0.91h-0.91zM400.17,112.13h14.68v0.91h-14.68zM399.31,113.00h15.54v0.91h-15.54zM415.66,113.00h0.91v0.91h-0.91zM418.24,113.00h0.91v0.91h-0.91zM399.31,113.86h6.07v0.91h-6.07zM406.19,113.86h8.66v0.91h-8.66zM399.31,114.72h12.96v0.91h-12.96zM413.08,114.72h0.91v0.91h-0.91zM398.45,115.58h12.10v0.91h-12.10zM411.35,115.58h3.49v0.91h-3.49zM416.52,115.58h0.91v0.91h-0.91zM398.45,116.44h16.40v0.91h-16.40zM418.24,116.44h0.91v0.91h-0.91zM394.14,117.31h0.91v0.91h-0.91zM397.58,117.31h17.26v0.91h-17.26zM395.86,118.17h17.26v0.91h-17.26zM392.42,119.03h0.91v0.91h-0.91zM396.72,119.03h0.91v0.91h-0.91zM398.45,119.03h1.77v0.91h-1.77zM401.03,119.03h12.10v0.91h-12.10zM395.86,119.89h6.07v0.91h-6.07zM402.75,119.89h6.93v0.91h-6.93zM410.49,119.89h2.63v0.91h-2.63zM396.72,120.75h11.24v0.91h-11.24zM408.77,120.75h0.91v0.91h-0.91zM411.35,120.75h0.91v0.91h-0.91zM413.08,120.75h0.91v0.91h-0.91zM390.70,121.62h0.91v0.91h-0.91zM395.00,121.62h10.38v0.91h-10.38zM382.95,122.48h0.91v0.91h-0.91zM395.00,122.48h0.91v0.91h-0.91zM396.72,122.48h4.35v0.91h-4.35zM401.89,122.48h1.77v0.91h-1.77zM393.28,123.34h6.93v0.91h-6.93zM392.42,124.20h4.35v0.91h-4.35zM397.58,124.20h0.91v0.91h-0.91zM391.56,125.07h5.21v0.91h-5.21zM390.70,125.93h5.21v0.91h-5.21zM388.98,126.79h1.77v0.91h-1.77zM391.56,126.79h3.49v0.91h-3.49zM387.26,127.65h5.21v0.91h-5.21zM386.40,128.51h4.35v0.91h-4.35zM385.54,129.38h1.77v0.91h-1.77zM388.98,129.38h1.77v0.91h-1.77zM365.74,130.24h0.91v0.91h-0.91zM379.51,130.24h0.91v0.91h-0.91zM395.86,130.24h0.91v0.91h-0.91z"/>
<path fill="#f4f24a" d="M389.84,75.92h3.49v0.91h-3.49zM389.84,76.79h2.63v0.91h-2.63zM375.21,78.51h0.91v0.91h-0.91zM395.00,78.51h0.91v0.91h-0.91zM373.49,79.37h5.21v0.91h-5.21zM373.49,80.23h5.21v0.91h-5.21zM372.63,81.10h6.07v0.91h-6.07zM375.21,81.96h0.91v0.91h-0.91zM377.79,81.96h1.77v0.91h-1.77zM389.84,82.82h0.91v0.91h-0.91zM391.56,82.82h0.91v0.91h-0.91zM395.86,82.82h0.91v0.91h-0.91zM402.75,82.82h0.91v0.91h-0.91zM377.79,83.68h0.91v0.91h-0.91zM391.56,83.68h0.91v0.91h-0.91zM395.86,83.68h0.91v0.91h-0.91zM402.75,83.68h0.91v0.91h-0.91zM395.86,84.55h1.77v0.91h-1.77zM383.82,85.41h0.91v0.91h-0.91zM395.86,85.41h1.77v0.91h-1.77zM398.45,85.41h3.49v0.91h-3.49zM382.95,86.27h0.91v0.91h-0.91zM396.72,86.27h0.91v0.91h-0.91zM399.31,86.27h2.63v0.91h-2.63zM366.60,87.13h1.77v0.91h-1.77zM382.95,87.13h1.77v0.91h-1.77zM400.17,87.13h0.91v0.91h-0.91zM366.60,87.99h3.49v0.91h-3.49zM373.49,87.99h1.77v0.91h-1.77zM382.09,87.99h1.77v0.91h-1.77zM394.14,87.99h0.91v0.91h-0.91zM403.61,87.99h4.35v0.91h-4.35zM366.60,88.86h1.77v0.91h-1.77zM388.98,88.86h1.77v0.91h-1.77zM401.03,88.86h0.91v0.91h-0.91zM403.61,88.86h3.49v0.91h-3.49zM376.07,89.72h0.91v0.91h-0.91zM388.98,89.72h1.77v0.91h-1.77zM401.03,89.72h0.91v0.91h-0.91zM403.61,89.72h3.49v0.91h-3.49zM389.84,90.58h0.91v0.91h-0.91zM401.03,90.58h0.91v0.91h-0.91zM403.61,90.58h4.35v0.91h-4.35zM388.98,91.44h0.91v0.91h-0.91zM402.75,91.44h5.21v0.91h-5.21zM409.63,91.44h0.91v0.91h-0.91zM393.28,92.30h1.77v0.91h-1.77zM403.61,92.30h1.77v0.91h-1.77zM406.19,92.30h5.21v0.91h-5.21zM366.60,93.17h0.91v0.91h-0.91zM393.28,93.17h1.77v0.91h-1.77zM403.61,93.17h1.77v0.91h-1.77zM406.19,93.17h1.77v0.91h-1.77zM365.74,94.03h0.91v0.91h-0.91zM393.28,94.03h2.63v0.91h-2.63zM404.47,94.03h0.91v0.91h-0.91zM406.19,94.03h1.77v0.91h-1.77zM364.02,94.89h1.77v0.91h-1.77zM376.07,94.89h0.91v0.91h-0.91zM380.37,94.89h0.91v0.91h-0.91zM382.09,94.89h1.77v0.91h-1.77zM387.26,94.89h1.77v0.91h-1.77zM394.14,94.89h0.91v0.91h-0.91zM401.03,94.89h0.91v0.91h-0.91zM404.47,94.89h4.35v0.91h-4.35zM376.07,95.75h0.91v0.91h-0.91zM379.51,95.75h1.77v0.91h-1.77zM394.14,95.75h1.77v0.91h-1.77zM404.47,95.75h5.21v0.91h-5.21zM369.18,96.62h0.91v0.91h-0.91zM376.07,96.62h2.63v0.91h-2.63zM379.51,96.62h1.77v0.91h-1.77zM400.17,96.62h4.35v0.91h-4.35zM405.33,96.62h4.35v0.91h-4.35zM369.18,97.48h0.91v0.91h-0.91zM376.93,97.48h2.63v0.91h-2.63zM400.17,97.48h1.77v0.91h-1.77zM402.75,97.48h0.91v0.91h-0.91zM405.33,97.48h3.49v0.91h-3.49zM386.40,98.34h1.77v0.91h-1.77zM405.33,98.34h5.21v0.91h-5.21zM386.40,99.20h1.77v0.91h-1.77zM407.05,99.20h3.49v0.91h-3.49zM407.91,100.06h2.63v0.91h-2.63zM403.61,100.93h0.91v0.91h-0.91zM407.91,100.93h0.91v0.91h-0.91zM409.63,100.93h0.91v0.91h-0.91zM402.75,101.79h1.77v0.91h-1.77zM407.91,101.79h0.91v0.91h-0.91zM376.07,102.65h0.91v0.91h-0.91zM387.26,102.65h0.91v0.91h-0.91zM387.26,103.51h0.91v0.91h-0.91zM384.68,106.10h0.91v0.91h-0.91zM402.75,106.10h0.91v0.91h-0.91zM385.54,106.96h0.91v0.91h-0.91zM402.75,106.96h0.91v0.91h-0.91zM371.77,107.82h1.77v0.91h-1.77zM385.54,107.82h0.91v0.91h-0.91zM379.51,108.68h1.77v0.91h-1.77zM406.19,121.62h1.77v0.91h-1.77zM407.05,122.48h0.91v0.91h-0.91zM406.19,123.34h2.63v0.91h-2.63zM406.19,124.20h1.77v0.91h-1.77z"/>
<path fill="#c98a1e" d="M393.28,76.79h0.91v0.91h-0.91zM391.56,81.10h1.77v0.91h-1.77zM379.51,81.96h1.77v0.91h-1.77zM385.54,83.68h0.91v0.91h-0.91zM385.54,84.55h0.91v0.91h-0.91zM388.98,84.55h1.77v0.91h-1.77zM414.80,85.41h0.91v0.91h-0.91zM414.80,86.27h0.91v0.91h-0.91zM397.58,88.86h1.77v0.91h-1.77zM397.58,89.72h1.77v0.91h-1.77zM412.22,89.72h0.91v0.91h-0.91zM390.70,91.44h0.91v0.91h-0.91zM415.66,91.44h0.91v0.91h-0.91zM368.32,92.30h1.77v0.91h-1.77zM368.32,93.17h1.77v0.91h-1.77zM366.60,94.03h2.63v0.91h-2.63zM366.60,94.89h2.63v0.91h-2.63zM371.77,94.89h1.77v0.91h-1.77zM366.60,95.75h2.63v0.91h-2.63zM371.77,95.75h1.77v0.91h-1.77zM366.60,96.62h2.63v0.91h-2.63zM398.45,96.62h1.77v0.91h-1.77zM366.60,97.48h2.63v0.91h-2.63zM398.45,97.48h1.77v0.91h-1.77zM366.60,98.34h2.63v0.91h-2.63zM416.52,98.34h0.91v0.91h-0.91zM366.60,99.20h2.63v0.91h-2.63zM417.38,100.93h0.91v0.91h-0.91zM401.03,101.79h1.77v0.91h-1.77zM384.68,102.65h0.91v0.91h-0.91zM401.03,102.65h1.77v0.91h-1.77zM382.09,105.24h0.91v0.91h-0.91zM413.08,105.24h1.77v0.91h-1.77zM413.08,106.10h1.77v0.91h-1.77zM413.08,106.96h1.77v0.91h-1.77zM405.33,107.82h0.91v0.91h-0.91zM403.61,109.55h0.91v0.91h-0.91zM405.33,109.55h0.91v0.91h-0.91zM412.22,114.72h0.91v0.91h-0.91zM397.58,119.03h0.91v0.91h-0.91zM401.89,119.89h0.91v0.91h-0.91zM395.86,120.75h0.91v0.91h-0.91zM407.91,120.75h0.91v0.91h-0.91zM404.47,124.20h0.91v0.91h-0.91z"/>
<path fill="#a9e4ee" d="M386.40,80.23h0.91v0.91h-0.91zM395.86,80.23h0.91v0.91h-0.91zM386.40,81.10h0.91v0.91h-0.91zM395.86,81.10h0.91v0.91h-0.91zM405.33,92.30h0.91v0.91h-0.91zM405.33,93.17h0.91v0.91h-0.91zM405.33,94.03h0.91v0.91h-0.91zM408.77,97.48h0.91v0.91h-0.91zM408.77,100.93h0.91v0.91h-0.91zM408.77,101.79h0.91v0.91h-0.91zM408.77,102.65h0.91v0.91h-0.91zM408.77,103.51h0.91v0.91h-0.91z"/>
<path fill="#c6ee4a" d="M365.74,90.58h0.91v0.91h-0.91zM365.74,91.44h1.77v0.91h-1.77zM364.88,92.30h2.63v0.91h-2.63zM384.68,94.89h1.77v0.91h-1.77zM383.82,95.75h1.77v0.91h-1.77zM381.23,96.62h4.35v0.91h-4.35zM380.37,97.48h1.77v0.91h-1.77zM380.37,98.34h2.63v0.91h-2.63zM379.51,102.65h0.91v0.91h-0.91zM377.79,103.51h3.49v0.91h-3.49zM377.79,104.37h1.77v0.91h-1.77z"/>
</g>
<g shape-rendering="crispEdges"><rect x="469.00" y="74.00" width="59.00" height="57.20" fill="#0a9c06"/>
<path fill="#f6e3a6" d="M476.08,74.00h3.59v1.19h-3.59zM480.80,74.00h11.85v1.19h-11.85z"/>
<path fill="#2a4f00" d="M524.46,74.00h1.23v1.19h-1.23zM510.30,78.58h3.59v1.19h-3.59zM516.20,78.58h3.59v1.19h-3.59zM520.92,78.58h7.13v1.19h-7.13zM502.04,79.72h1.23v1.19h-1.23zM504.40,79.72h1.23v1.19h-1.23zM511.48,79.72h16.57v1.19h-16.57zM499.68,80.86h7.13v1.19h-7.13zM511.48,80.86h16.57v1.19h-16.57zM496.14,82.01h1.23v1.19h-1.23zM498.50,82.01h9.49v1.19h-9.49zM512.66,82.01h4.77v1.19h-4.77zM518.56,82.01h9.49v1.19h-9.49zM496.14,83.15h11.85v1.19h-11.85zM512.66,83.15h9.49v1.19h-9.49zM525.64,83.15h2.41v1.19h-2.41zM489.06,84.30h1.23v1.19h-1.23zM494.96,84.30h9.49v1.19h-9.49zM505.58,84.30h2.41v1.19h-2.41zM513.84,84.30h3.59v1.19h-3.59zM522.10,84.30h1.23v1.19h-1.23zM478.44,85.44h1.23v1.19h-1.23zM494.96,85.44h13.03v1.19h-13.03zM513.84,85.44h5.95v1.19h-5.95zM478.44,86.58h1.23v1.19h-1.23zM494.96,86.58h14.21v1.19h-14.21zM516.20,86.58h3.59v1.19h-3.59zM493.78,87.73h3.59v1.19h-3.59zM498.50,87.73h14.21v1.19h-14.21zM517.38,87.73h1.23v1.19h-1.23zM522.10,87.73h2.41v1.19h-2.41zM525.64,87.73h2.41v1.19h-2.41zM480.80,88.87h3.59v1.19h-3.59zM494.96,88.87h4.77v1.19h-4.77zM502.04,88.87h11.85v1.19h-11.85zM522.10,88.87h5.95v1.19h-5.95zM481.98,90.02h1.23v1.19h-1.23zM494.96,90.02h18.93v1.19h-18.93zM523.28,90.02h4.77v1.19h-4.77zM478.44,91.16h1.23v1.19h-1.23zM493.78,91.16h1.23v1.19h-1.23zM496.14,91.16h1.23v1.19h-1.23zM498.50,91.16h18.93v1.19h-18.93zM523.28,91.16h4.77v1.19h-4.77zM478.44,92.30h2.41v1.19h-2.41zM485.52,92.30h1.23v1.19h-1.23zM496.14,92.30h20.11v1.19h-20.11zM520.92,92.30h2.41v1.19h-2.41zM525.64,92.30h2.41v1.19h-2.41zM487.88,93.45h1.23v1.19h-1.23zM496.14,93.45h3.59v1.19h-3.59zM500.86,93.45h9.49v1.19h-9.49zM511.48,93.45h3.59v1.19h-3.59zM520.92,93.45h2.41v1.19h-2.41zM525.64,93.45h2.41v1.19h-2.41zM486.70,94.59h3.59v1.19h-3.59zM496.14,94.59h10.67v1.19h-10.67zM507.94,94.59h2.41v1.19h-2.41zM512.66,94.59h1.23v1.19h-1.23zM520.92,94.59h3.59v1.19h-3.59zM526.82,94.59h1.23v1.19h-1.23zM486.70,95.74h3.59v1.19h-3.59zM496.14,95.74h7.13v1.19h-7.13zM504.40,95.74h3.59v1.19h-3.59zM509.12,95.74h3.59v1.19h-3.59zM520.92,95.74h3.59v1.19h-3.59zM469.00,96.88h3.59v1.19h-3.59zM485.52,96.88h5.95v1.19h-5.95zM497.32,96.88h4.77v1.19h-4.77zM503.22,96.88h3.59v1.19h-3.59zM507.94,96.88h4.77v1.19h-4.77zM517.38,96.88h8.31v1.19h-8.31zM470.18,98.02h2.41v1.19h-2.41zM483.16,98.02h1.23v1.19h-1.23zM485.52,98.02h5.95v1.19h-5.95zM496.14,98.02h2.41v1.19h-2.41zM504.40,98.02h7.13v1.19h-7.13zM516.20,98.02h11.85v1.19h-11.85zM476.08,99.17h1.23v1.19h-1.23zM481.98,99.17h2.41v1.19h-2.41zM485.52,99.17h4.77v1.19h-4.77zM505.58,99.17h5.95v1.19h-5.95zM515.02,99.17h13.03v1.19h-13.03zM478.44,100.31h1.23v1.19h-1.23zM483.16,100.31h5.95v1.19h-5.95zM493.78,100.31h1.23v1.19h-1.23zM507.94,100.31h1.23v1.19h-1.23zM515.02,100.31h1.23v1.19h-1.23zM517.38,100.31h10.67v1.19h-10.67zM481.98,101.46h1.23v1.19h-1.23zM484.34,101.46h3.59v1.19h-3.59zM493.78,101.46h1.23v1.19h-1.23zM496.14,101.46h1.23v1.19h-1.23zM500.86,101.46h1.23v1.19h-1.23zM506.76,101.46h15.39v1.19h-15.39zM523.28,101.46h4.77v1.19h-4.77zM472.54,102.60h2.41v1.19h-2.41zM480.80,102.60h5.95v1.19h-5.95zM493.78,102.60h1.23v1.19h-1.23zM496.14,102.60h4.77v1.19h-4.77zM504.40,102.60h9.49v1.19h-9.49zM515.02,102.60h3.59v1.19h-3.59zM519.74,102.60h8.31v1.19h-8.31zM480.80,103.74h5.95v1.19h-5.95zM504.40,103.74h23.65v1.19h-23.65zM474.90,104.89h1.23v1.19h-1.23zM479.62,104.89h5.95v1.19h-5.95zM503.22,104.89h24.83v1.19h-24.83zM480.80,106.03h1.23v1.19h-1.23zM483.16,106.03h1.23v1.19h-1.23zM503.22,106.03h18.93v1.19h-18.93zM523.28,106.03h4.77v1.19h-4.77zM494.96,107.18h1.23v1.19h-1.23zM499.68,107.18h18.93v1.19h-18.93zM520.92,107.18h7.13v1.19h-7.13zM478.44,108.32h2.41v1.19h-2.41zM496.14,108.32h15.39v1.19h-15.39zM520.92,108.32h7.13v1.19h-7.13zM474.90,109.46h5.95v1.19h-5.95zM498.50,109.46h1.23v1.19h-1.23zM504.40,109.46h9.49v1.19h-9.49zM518.56,109.46h5.95v1.19h-5.95zM525.64,109.46h2.41v1.19h-2.41zM492.60,110.61h2.41v1.19h-2.41zM497.32,110.61h2.41v1.19h-2.41zM504.40,110.61h10.67v1.19h-10.67zM516.20,110.61h3.59v1.19h-3.59zM522.10,110.61h2.41v1.19h-2.41zM525.64,110.61h2.41v1.19h-2.41zM477.26,111.75h1.23v1.19h-1.23zM493.78,111.75h4.77v1.19h-4.77zM504.40,111.75h5.95v1.19h-5.95zM512.66,111.75h15.39v1.19h-15.39zM473.72,112.90h3.59v1.19h-3.59zM489.06,112.90h7.13v1.19h-7.13zM506.76,112.90h17.75v1.19h-17.75zM525.64,112.90h2.41v1.19h-2.41zM474.90,114.04h1.23v1.19h-1.23zM485.52,114.04h8.31v1.19h-8.31zM494.96,114.04h2.41v1.19h-2.41zM507.94,114.04h13.03v1.19h-13.03zM525.64,114.04h2.41v1.19h-2.41zM486.70,115.18h3.59v1.19h-3.59zM491.42,115.18h9.49v1.19h-9.49zM509.12,115.18h3.59v1.19h-3.59zM513.84,115.18h14.21v1.19h-14.21zM486.70,116.33h15.39v1.19h-15.39zM507.94,116.33h9.49v1.19h-9.49zM518.56,116.33h9.49v1.19h-9.49zM486.70,117.47h15.39v1.19h-15.39zM507.94,117.47h1.23v1.19h-1.23zM510.30,117.47h4.77v1.19h-4.77zM516.20,117.47h2.41v1.19h-2.41zM519.74,117.47h8.31v1.19h-8.31zM487.88,118.62h15.39v1.19h-15.39zM507.94,118.62h5.95v1.19h-5.95zM518.56,118.62h9.49v1.19h-9.49zM486.70,119.76h14.21v1.19h-14.21zM506.76,119.76h17.75v1.19h-17.75zM473.72,120.90h1.23v1.19h-1.23zM476.08,120.90h1.23v1.19h-1.23zM478.44,120.90h1.23v1.19h-1.23zM481.98,120.90h1.23v1.19h-1.23zM490.24,120.90h10.67v1.19h-10.67zM505.58,120.90h14.21v1.19h-14.21zM520.92,120.90h2.41v1.19h-2.41zM472.54,122.05h5.95v1.19h-5.95zM479.62,122.05h3.59v1.19h-3.59zM492.60,122.05h3.59v1.19h-3.59zM498.50,122.05h1.23v1.19h-1.23zM505.58,122.05h5.95v1.19h-5.95zM512.66,122.05h3.59v1.19h-3.59zM517.38,122.05h3.59v1.19h-3.59zM469.00,123.19h9.49v1.19h-9.49zM480.80,123.19h1.23v1.19h-1.23zM493.78,123.19h4.77v1.19h-4.77zM505.58,123.19h15.39v1.19h-15.39zM469.00,124.34h9.49v1.19h-9.49zM494.96,124.34h24.83v1.19h-24.83zM469.00,125.48h3.59v1.19h-3.59zM473.72,125.48h5.95v1.19h-5.95zM493.78,125.48h27.19v1.19h-27.19zM469.00,126.62h5.95v1.19h-5.95zM476.08,126.62h3.59v1.19h-3.59zM491.42,126.62h15.39v1.19h-15.39zM507.94,126.62h11.85v1.19h-11.85zM469.00,127.77h9.49v1.19h-9.49zM491.42,127.77h7.13v1.19h-7.13zM499.68,127.77h5.95v1.19h-5.95zM506.76,127.77h5.95v1.19h-5.95zM513.84,127.77h4.77v1.19h-4.77zM469.00,128.91h8.31v1.19h-8.31zM483.16,128.91h1.23v1.19h-1.23zM489.06,128.91h18.93v1.19h-18.93zM509.12,128.91h9.49v1.19h-9.49zM469.00,130.06h7.13v1.19h-7.13zM486.70,130.06h1.23v1.19h-1.23zM489.06,130.06h22.47v1.19h-22.47zM513.84,130.06h2.41v1.19h-2.41zM517.38,130.06h1.23v1.19h-1.23z"/>
<path fill="#8fd908" d="M492.60,75.14h1.23v1.19h-1.23zM491.42,76.29h5.95v1.19h-5.95zM517.38,76.29h2.41v1.19h-2.41zM491.42,77.43h2.41v1.19h-2.41zM497.32,77.43h3.59v1.19h-3.59zM491.42,78.58h1.23v1.19h-1.23zM502.04,78.58h1.23v1.19h-1.23zM492.60,79.72h1.23v1.19h-1.23zM505.58,79.72h3.59v1.19h-3.59zM491.42,80.86h1.23v1.19h-1.23zM506.76,80.86h2.41v1.19h-2.41zM492.60,82.01h1.23v1.19h-1.23zM507.94,82.01h2.41v1.19h-2.41zM491.42,83.15h1.23v1.19h-1.23zM509.12,83.15h1.23v1.19h-1.23zM510.30,84.30h1.23v1.19h-1.23zM490.24,85.44h2.41v1.19h-2.41zM510.30,85.44h2.41v1.19h-2.41zM490.24,86.58h1.23v1.19h-1.23zM511.48,86.58h2.41v1.19h-2.41zM489.06,87.73h1.23v1.19h-1.23zM513.84,87.73h2.41v1.19h-2.41zM489.06,88.87h1.23v1.19h-1.23zM515.02,88.87h1.23v1.19h-1.23zM487.88,90.02h1.23v1.19h-1.23zM516.20,90.02h1.23v1.19h-1.23zM486.70,91.16h2.41v1.19h-2.41zM492.60,91.16h1.23v1.19h-1.23zM517.38,91.16h1.23v1.19h-1.23zM486.70,92.30h1.23v1.19h-1.23zM492.60,92.30h1.23v1.19h-1.23zM517.38,92.30h2.41v1.19h-2.41zM485.52,93.45h2.41v1.19h-2.41zM492.60,93.45h2.41v1.19h-2.41zM485.52,94.59h1.23v1.19h-1.23zM492.60,94.59h1.23v1.19h-1.23zM484.34,95.74h2.41v1.19h-2.41zM493.78,95.74h1.23v1.19h-1.23zM493.78,96.88h1.23v1.19h-1.23zM493.78,98.02h1.23v1.19h-1.23zM494.96,99.17h1.23v1.19h-1.23zM494.96,100.31h1.23v1.19h-1.23zM499.68,100.31h1.23v1.19h-1.23zM494.96,101.46h1.23v1.19h-1.23zM499.68,101.46h1.23v1.19h-1.23zM494.96,103.74h1.23v1.19h-1.23zM519.74,120.90h1.23v1.19h-1.23zM520.92,122.05h1.23v1.19h-1.23zM520.92,123.19h1.23v1.19h-1.23zM523.28,126.62h1.23v1.19h-1.23z"/>
<path fill="#c8be66" d="M496.14,77.43h1.23v1.19h-1.23zM500.86,78.58h1.23v1.19h-1.23zM491.42,82.01h1.23v1.19h-1.23zM491.42,84.30h1.23v1.19h-1.23zM489.06,90.02h1.23v1.19h-1.23zM491.42,91.16h1.23v1.19h-1.23z"/>
<path fill="#f4f24a" d="M493.78,99.17h1.23v1.19h-1.23zM494.96,102.60h1.23v1.19h-1.23z"/>
</g>
<g shape-rendering="crispEdges"><rect x="587.90" y="73.40" width="58.20" height="58.40" fill="#2a4f00"/>
<path fill="#0a9c06" d="M597.60,73.40h1.26v1.27h-1.26zM608.51,73.40h1.26v1.27h-1.26zM623.06,73.40h2.48v1.27h-2.48zM613.36,74.62h1.26v1.27h-1.26zM623.06,74.62h1.26v1.27h-1.26zM625.49,74.62h1.26v1.27h-1.26zM635.19,74.62h2.48v1.27h-2.48zM642.46,74.62h3.69v1.27h-3.69zM612.15,75.83h2.48v1.27h-2.48zM633.98,75.83h4.90v1.27h-4.90zM642.46,75.83h3.69v1.27h-3.69zM595.17,77.05h1.26v1.27h-1.26zM612.15,77.05h2.48v1.27h-2.48zM636.40,77.05h3.69v1.27h-3.69zM644.89,77.05h1.26v1.27h-1.26zM590.32,78.27h1.26v1.27h-1.26zM593.96,78.27h2.48v1.27h-2.48zM613.36,78.27h1.26v1.27h-1.26zM618.21,78.27h1.26v1.27h-1.26zM627.91,78.27h1.26v1.27h-1.26zM633.98,78.27h1.26v1.27h-1.26zM637.61,78.27h2.48v1.27h-2.48zM644.89,78.27h1.26v1.27h-1.26zM587.90,79.48h2.48v1.27h-2.48zM591.54,79.48h1.26v1.27h-1.26zM593.96,79.48h2.48v1.27h-2.48zM613.36,79.48h1.26v1.27h-1.26zM633.98,79.48h2.48v1.27h-2.48zM638.82,79.48h1.26v1.27h-1.26zM644.89,79.48h1.26v1.27h-1.26zM589.11,80.70h1.26v1.27h-1.26zM593.96,80.70h2.48v1.27h-2.48zM600.02,80.70h1.26v1.27h-1.26zM627.91,80.70h2.48v1.27h-2.48zM635.19,80.70h1.26v1.27h-1.26zM640.04,80.70h1.26v1.27h-1.26zM643.67,80.70h1.26v1.27h-1.26zM592.75,81.92h1.26v1.27h-1.26zM596.39,81.92h3.69v1.27h-3.69zM606.09,81.92h1.26v1.27h-1.26zM625.49,81.92h3.69v1.27h-3.69zM636.40,81.92h1.26v1.27h-1.26zM640.04,81.92h1.26v1.27h-1.26zM642.46,81.92h2.48v1.27h-2.48zM596.39,83.13h3.69v1.27h-3.69zM604.88,83.13h1.26v1.27h-1.26zM609.73,83.13h4.90v1.27h-4.90zM625.49,83.13h3.69v1.27h-3.69zM636.40,83.13h2.48v1.27h-2.48zM641.25,83.13h1.26v1.27h-1.26zM610.94,84.35h2.48v1.27h-2.48zM625.49,84.35h3.69v1.27h-3.69zM637.61,84.35h1.26v1.27h-1.26zM641.25,84.35h1.26v1.27h-1.26zM614.57,85.57h2.48v1.27h-2.48zM623.06,85.57h10.96v1.27h-10.96zM638.82,85.57h1.26v1.27h-1.26zM642.46,85.57h1.26v1.27h-1.26zM589.11,86.78h1.26v1.27h-1.26zM615.79,86.78h2.48v1.27h-2.48zM625.49,86.78h8.54v1.27h-8.54zM638.82,86.78h1.26v1.27h-1.26zM643.67,86.78h1.26v1.27h-1.26zM587.90,88.00h2.48v1.27h-2.48zM615.79,88.00h4.90v1.27h-4.90zM626.70,88.00h2.48v1.27h-2.48zM640.04,88.00h1.26v1.27h-1.26zM643.67,88.00h1.26v1.27h-1.26zM587.90,89.22h2.48v1.27h-2.48zM618.21,89.22h2.48v1.27h-2.48zM640.04,89.22h2.48v1.27h-2.48zM644.89,89.22h1.26v1.27h-1.26zM618.21,90.43h2.48v1.27h-2.48zM637.61,90.43h1.26v1.27h-1.26zM641.25,90.43h1.26v1.27h-1.26zM644.89,90.43h1.26v1.27h-1.26zM592.75,91.65h2.48v1.27h-2.48zM607.30,91.65h1.26v1.27h-1.26zM619.42,91.65h2.48v1.27h-2.48zM623.06,91.65h1.26v1.27h-1.26zM637.61,91.65h1.26v1.27h-1.26zM642.46,91.65h1.26v1.27h-1.26zM592.75,92.87h1.26v1.27h-1.26zM619.42,92.87h3.69v1.27h-3.69zM624.27,92.87h2.48v1.27h-2.48zM636.40,92.87h4.90v1.27h-4.90zM642.46,92.87h1.26v1.27h-1.26zM624.27,94.08h3.69v1.27h-3.69zM637.61,94.08h3.69v1.27h-3.69zM643.67,94.08h1.26v1.27h-1.26zM625.49,95.30h4.90v1.27h-4.90zM638.82,95.30h2.48v1.27h-2.48zM643.67,95.30h1.26v1.27h-1.26zM613.36,96.52h1.26v1.27h-1.26zM627.91,96.52h3.69v1.27h-3.69zM640.04,96.52h1.26v1.27h-1.26zM607.30,97.73h1.26v1.27h-1.26zM630.34,97.73h4.90v1.27h-4.90zM607.30,98.95h2.48v1.27h-2.48zM632.76,98.95h4.90v1.27h-4.90zM587.90,100.17h1.26v1.27h-1.26zM608.51,100.17h1.26v1.27h-1.26zM615.79,100.17h1.26v1.27h-1.26zM637.61,100.17h2.48v1.27h-2.48zM589.11,101.38h4.90v1.27h-4.90zM600.02,101.38h1.26v1.27h-1.26zM608.51,101.38h2.48v1.27h-2.48zM631.55,101.38h3.69v1.27h-3.69zM640.04,101.38h1.26v1.27h-1.26zM591.54,102.60h3.69v1.27h-3.69zM609.73,102.60h2.48v1.27h-2.48zM631.55,102.60h4.90v1.27h-4.90zM638.82,102.60h2.48v1.27h-2.48zM592.75,103.82h4.90v1.27h-4.90zM609.73,103.82h2.48v1.27h-2.48zM631.55,103.82h7.33v1.27h-7.33zM640.04,103.82h1.26v1.27h-1.26zM595.17,105.03h7.33v1.27h-7.33zM609.73,105.03h2.48v1.27h-2.48zM631.55,105.03h6.11v1.27h-6.11zM597.60,106.25h7.33v1.27h-7.33zM610.94,106.25h1.26v1.27h-1.26zM633.98,106.25h1.26v1.27h-1.26zM603.66,107.47h2.48v1.27h-2.48zM610.94,107.47h1.26v1.27h-1.26zM623.06,107.47h2.48v1.27h-2.48zM604.88,108.68h3.69v1.27h-3.69zM610.94,108.68h1.26v1.27h-1.26zM613.36,108.68h1.26v1.27h-1.26zM624.27,108.68h2.48v1.27h-2.48zM589.11,109.90h3.69v1.27h-3.69zM606.09,109.90h3.69v1.27h-3.69zM610.94,109.90h2.48v1.27h-2.48zM624.27,109.90h3.69v1.27h-3.69zM641.25,109.90h1.26v1.27h-1.26zM587.90,111.12h2.48v1.27h-2.48zM597.60,111.12h1.26v1.27h-1.26zM604.88,111.12h1.26v1.27h-1.26zM608.51,111.12h4.90v1.27h-4.90zM625.49,111.12h3.69v1.27h-3.69zM643.67,111.12h1.26v1.27h-1.26zM601.24,112.33h1.26v1.27h-1.26zM609.73,112.33h4.90v1.27h-4.90zM618.21,112.33h1.26v1.27h-1.26zM629.12,112.33h1.26v1.27h-1.26zM643.67,112.33h2.48v1.27h-2.48zM597.60,113.55h4.90v1.27h-4.90zM610.94,113.55h3.69v1.27h-3.69zM629.12,113.55h1.26v1.27h-1.26zM642.46,113.55h3.69v1.27h-3.69zM597.60,114.77h2.48v1.27h-2.48zM612.15,114.77h4.90v1.27h-4.90zM629.12,114.77h2.48v1.27h-2.48zM640.04,114.77h2.48v1.27h-2.48zM643.67,114.77h2.48v1.27h-2.48zM590.32,115.98h1.26v1.27h-1.26zM598.81,115.98h1.26v1.27h-1.26zM607.30,115.98h1.26v1.27h-1.26zM618.21,115.98h1.26v1.27h-1.26zM629.12,115.98h3.69v1.27h-3.69zM640.04,115.98h6.11v1.27h-6.11zM590.32,117.20h1.26v1.27h-1.26zM609.73,117.20h1.26v1.27h-1.26zM630.34,117.20h2.48v1.27h-2.48zM641.25,117.20h4.90v1.27h-4.90zM608.51,118.42h3.69v1.27h-3.69zM615.79,118.42h1.26v1.27h-1.26zM632.76,118.42h1.26v1.27h-1.26zM642.46,118.42h1.26v1.27h-1.26zM597.60,119.63h3.69v1.27h-3.69zM604.88,119.63h1.26v1.27h-1.26zM609.73,119.63h2.48v1.27h-2.48zM617.00,119.63h1.26v1.27h-1.26zM620.64,119.63h1.26v1.27h-1.26zM631.55,119.63h2.48v1.27h-2.48zM640.04,119.63h1.26v1.27h-1.26zM587.90,120.85h3.69v1.27h-3.69zM596.39,120.85h4.90v1.27h-4.90zM618.21,120.85h1.26v1.27h-1.26zM623.06,120.85h1.26v1.27h-1.26zM631.55,120.85h2.48v1.27h-2.48zM637.61,120.85h4.90v1.27h-4.90zM596.39,122.07h2.48v1.27h-2.48zM618.21,122.07h1.26v1.27h-1.26zM632.76,122.07h2.48v1.27h-2.48zM637.61,122.07h4.90v1.27h-4.90zM597.60,123.28h2.48v1.27h-2.48zM609.73,123.28h1.26v1.27h-1.26zM623.06,123.28h1.26v1.27h-1.26zM632.76,123.28h2.48v1.27h-2.48zM637.61,123.28h6.11v1.27h-6.11zM589.11,124.50h6.11v1.27h-6.11zM597.60,124.50h1.26v1.27h-1.26zM620.64,124.50h1.26v1.27h-1.26zM624.27,124.50h6.11v1.27h-6.11zM641.25,124.50h2.48v1.27h-2.48zM589.11,125.72h4.90v1.27h-4.90zM621.85,125.72h1.26v1.27h-1.26zM625.49,125.72h3.69v1.27h-3.69zM642.46,125.72h1.26v1.27h-1.26zM587.90,126.93h6.11v1.27h-6.11zM602.45,126.93h1.26v1.27h-1.26zM606.09,126.93h2.48v1.27h-2.48zM614.57,126.93h1.26v1.27h-1.26zM623.06,126.93h1.26v1.27h-1.26zM626.70,126.93h2.48v1.27h-2.48zM640.04,126.93h3.69v1.27h-3.69zM591.54,128.15h1.26v1.27h-1.26zM602.45,128.15h1.26v1.27h-1.26zM624.27,128.15h1.26v1.27h-1.26zM629.12,128.15h1.26v1.27h-1.26zM625.49,129.37h1.26v1.27h-1.26zM631.55,129.37h3.69v1.27h-3.69z"/>
<path fill="#8fd908" d="M633.98,77.05h2.48v1.27h-2.48zM635.19,78.27h2.48v1.27h-2.48zM636.40,79.48h2.48v1.27h-2.48zM636.40,80.70h3.69v1.27h-3.69zM637.61,81.92h2.48v1.27h-2.48zM638.82,83.13h2.48v1.27h-2.48zM638.82,84.35h2.48v1.27h-2.48zM640.04,85.57h2.48v1.27h-2.48zM640.04,86.78h3.69v1.27h-3.69zM641.25,88.00h2.48v1.27h-2.48zM642.46,89.22h2.48v1.27h-2.48zM642.46,90.43h2.48v1.27h-2.48zM643.67,91.65h2.48v1.27h-2.48zM643.67,92.87h2.48v1.27h-2.48zM644.89,94.08h1.26v1.27h-1.26zM644.89,95.30h1.26v1.27h-1.26zM635.19,100.17h2.48v1.27h-2.48zM635.19,101.38h4.90v1.27h-4.90zM637.61,102.60h1.26v1.27h-1.26zM643.67,103.82h1.26v1.27h-1.26zM644.89,105.03h1.26v1.27h-1.26zM627.91,112.33h1.26v1.27h-1.26zM615.79,115.98h2.48v1.27h-2.48zM615.79,117.20h3.69v1.27h-3.69zM617.00,118.42h3.69v1.27h-3.69zM631.55,118.42h1.26v1.27h-1.26zM618.21,119.63h2.48v1.27h-2.48zM619.42,120.85h2.48v1.27h-2.48zM619.42,122.07h3.69v1.27h-3.69zM620.64,123.28h2.48v1.27h-2.48zM621.85,124.50h2.48v1.27h-2.48zM623.06,125.72h2.48v1.27h-2.48zM624.27,126.93h2.48v1.27h-2.48zM625.49,128.15h3.69v1.27h-3.69zM642.46,128.15h1.26v1.27h-1.26zM617.00,129.37h6.11v1.27h-6.11zM626.70,129.37h4.90v1.27h-4.90zM642.46,129.37h2.48v1.27h-2.48zM620.64,130.58h13.39v1.27h-13.39zM643.67,130.58h2.48v1.27h-2.48z"/>
<path fill="#c8be66" d="M620.64,90.43h1.26v1.27h-1.26zM621.85,91.65h1.26v1.27h-1.26zM623.06,92.87h1.26v1.27h-1.26zM589.11,100.17h2.48v1.27h-2.48zM641.25,102.60h1.26v1.27h-1.26zM641.25,103.82h2.48v1.27h-2.48zM643.67,106.25h1.26v1.27h-1.26z"/>
<path fill="#c98a1e" d="M597.60,92.87h1.26v1.27h-1.26zM627.91,113.55h1.26v1.27h-1.26z"/>
</g>
<text x="651.7" y="99.9" font-size="14.3" fill="#0f4a12" textLength="65.7" lengthAdjust="spacing" class="b" >Landscape</text>
<text x="651.7" y="116.6" font-size="14.3" fill="#0f4a12" class="b" >pattern</text>
<!-- sec_charts -->
<rect x="145.3" y="159.3" width="59.4" height="41.2" fill="#fff" stroke="#8e8e8e" stroke-width="1"/>
<rect x="255.3" y="159.3" width="58.9" height="41.2" fill="#fff" stroke="#8e8e8e" stroke-width="1"/>
<rect x="367.1" y="159.3" width="58.8" height="41.2" fill="#fff" stroke="#8e8e8e" stroke-width="1"/>
<rect x="477.8" y="159.3" width="58.7" height="41.2" fill="#fff" stroke="#8e8e8e" stroke-width="1"/>
<rect x="588.3" y="159.3" width="59.4" height="41.2" fill="#fff" stroke="#8e8e8e" stroke-width="1"/>
<path d="M148.30,191.60 C149.00,190.42 151.15,186.50 152.50,184.50 C153.85,182.50 155.35,179.88 156.40,179.60 C157.45,179.32 158.05,181.57 158.80,182.80 C159.55,184.03 160.10,188.13 160.90,187.00 C161.70,185.87 162.53,179.80 163.60,176.00 C164.67,172.20 165.98,164.20 167.30,164.20 C168.62,164.20 170.18,172.03 171.50,176.00 C172.82,179.97 173.95,184.78 175.20,188.00 C176.45,191.22 177.70,195.30 179.00,195.30 C180.30,195.30 181.63,191.55 183.00,188.00 C184.37,184.45 185.87,177.90 187.20,174.00 C188.53,170.10 189.70,164.60 191.00,164.60 C192.30,164.60 193.75,170.27 195.00,174.00 C196.25,177.73 197.47,183.63 198.50,187.00 C199.53,190.37 200.75,193.00 201.20,194.20" fill="none" stroke="#2f5597" stroke-width="1.6" stroke-linecap="round" stroke-linejoin="round"/>
<path d="M258.50,188.70 C259.33,187.00 261.85,181.55 263.50,178.50 C265.15,175.45 267.10,171.07 268.40,170.40 C269.70,169.73 270.28,172.92 271.30,174.50 C272.32,176.08 273.08,178.15 274.50,179.90 C275.92,181.65 278.02,183.62 279.80,185.00 C281.58,186.38 283.55,188.33 285.20,188.20 C286.85,188.07 288.20,185.95 289.70,184.20 C291.20,182.45 292.78,179.28 294.20,177.70 C295.62,176.12 296.80,175.87 298.20,174.70 C299.60,173.53 301.20,170.40 302.60,170.70 C304.00,171.00 305.12,173.55 306.60,176.50 C308.08,179.45 310.68,186.42 311.50,188.40" fill="none" stroke="#2f5597" stroke-width="1.6" stroke-linecap="round" stroke-linejoin="round"/>
<path d="M370.40,181.10 C371.10,180.52 373.18,178.60 374.60,177.60 C376.02,176.60 377.33,175.17 378.90,175.10 C380.47,175.03 382.15,176.42 384.00,177.20 C385.85,177.98 387.93,179.15 390.00,179.80 C392.07,180.45 394.48,181.10 396.40,181.10 C398.32,181.10 399.92,180.37 401.50,179.80 C403.08,179.23 404.50,178.23 405.90,177.70 C407.30,177.17 408.57,176.97 409.90,176.60 C411.23,176.23 412.47,175.38 413.90,175.50 C415.33,175.62 416.97,176.37 418.50,177.30 C420.03,178.23 422.33,180.47 423.10,181.10" fill="none" stroke="#2f5597" stroke-width="1.6" stroke-linecap="round" stroke-linejoin="round"/>
<path d="M480.90,186.50 C481.62,185.35 483.75,181.50 485.20,179.60 C486.65,177.70 488.20,175.27 489.60,175.10 C491.00,174.93 492.25,177.43 493.60,178.60 C494.95,179.77 496.20,181.02 497.70,182.10 C499.20,183.18 500.98,184.25 502.60,185.10 C504.22,185.95 505.90,187.23 507.40,187.20 C508.90,187.17 510.18,185.98 511.60,184.90 C513.02,183.82 514.47,181.77 515.90,180.70 C517.33,179.63 518.78,179.28 520.20,178.50 C521.62,177.72 522.95,175.75 524.40,176.00 C525.85,176.25 527.40,178.13 528.90,180.00 C530.40,181.87 532.65,186.00 533.40,187.20" fill="none" stroke="#2f5597" stroke-width="1.6" stroke-linecap="round" stroke-linejoin="round"/>
<path d="M592.10,190.10 C592.75,189.17 594.78,186.00 596.00,184.50 C597.22,183.00 598.42,181.30 599.40,181.10 C600.38,180.90 601.10,182.33 601.90,183.30 C602.70,184.27 603.30,187.95 604.20,186.90 C605.10,185.85 606.20,179.82 607.30,177.00 C608.40,174.18 609.55,169.67 610.80,170.00 C612.05,170.33 613.48,175.83 614.80,179.00 C616.12,182.17 617.42,186.65 618.70,189.00 C619.98,191.35 621.20,193.27 622.50,193.10 C623.80,192.93 625.15,190.68 626.50,188.00 C627.85,185.32 629.27,179.88 630.60,177.00 C631.93,174.12 633.23,170.62 634.50,170.70 C635.77,170.78 637.03,174.78 638.20,177.50 C639.37,180.22 640.47,184.53 641.50,187.00 C642.53,189.47 643.92,191.42 644.40,192.30" fill="none" stroke="#2f5597" stroke-width="1.6" stroke-linecap="round" stroke-linejoin="round"/>
<text x="164.2" y="210.1" font-size="13.5" fill="#1b2d6b" textLength="24.3" lengthAdjust="spacing" class="b i" >time</text>
<text x="274.5" y="209.9" font-size="13.5" fill="#1b2d6b" textLength="23.4" lengthAdjust="spacing" class="b i" >time</text>
<text x="386.2" y="210.4" font-size="13.5" fill="#1b2d6b" textLength="23.7" lengthAdjust="spacing" class="b i" >time</text>
<text x="494.7" y="209.9" font-size="13.5" fill="#1b2d6b" textLength="23.7" lengthAdjust="spacing" class="b i" >time</text>
<text x="607.9" y="209.9" font-size="13.5" fill="#1b2d6b" textLength="23.6" lengthAdjust="spacing" class="b i" >time</text>
<text x="142.0" y="169.7" font-size="11.2" fill="#2c4a8c" text-anchor="end" >Ecosystem</text>
<text x="142.0" y="183.4" font-size="11.2" fill="#2c4a8c" text-anchor="end" >functioning</text>
<text x="142.0" y="197.0" font-size="11.2" fill="#1b2d6b" text-anchor="end" class="b" >of the whole</text>
<text x="652.7" y="170.1" font-size="13.5" fill="#1b2d6b" textLength="87.2" lengthAdjust="spacing" class="b" >Stabilization of</text>
<text x="652.7" y="186.5" font-size="13.5" fill="#1b2d6b" textLength="79.3" lengthAdjust="spacing" class="b" >the ecosystem</text>
<text x="652.7" y="202.6" font-size="13.5" fill="#1b2d6b" textLength="65.2" lengthAdjust="spacing" class="b" >functioning</text>
<rect x="144.0" y="232.1" width="58.9" height="41.5" fill="#fff" stroke="#767676" stroke-width="1"/>
<rect x="254.1" y="232.1" width="58.8" height="41.5" fill="#fff" stroke="#767676" stroke-width="1"/>
<rect x="365.6" y="232.1" width="59.0" height="41.5" fill="#fff" stroke="#767676" stroke-width="1"/>
<rect x="476.4" y="232.1" width="59.4" height="41.5" fill="#fff" stroke="#767676" stroke-width="1"/>
<rect x="587.2" y="232.1" width="58.9" height="41.5" fill="#fff" stroke="#767676" stroke-width="1"/>
<path d="M148.30,261.60 C148.63,260.92 149.57,258.67 150.30,257.50 C151.03,256.33 151.82,255.13 152.70,254.60 C153.58,254.07 154.68,254.82 155.60,254.30 C156.52,253.78 157.27,253.22 158.20,251.50 C159.13,249.78 160.17,245.90 161.20,244.00 C162.23,242.10 163.33,240.02 164.40,240.10 C165.47,240.18 166.50,242.27 167.60,244.50 C168.70,246.73 169.83,251.02 171.00,253.50 C172.17,255.98 173.37,259.15 174.60,259.40 C175.83,259.65 177.07,257.15 178.40,255.00 C179.73,252.85 181.17,248.73 182.60,246.50 C184.03,244.27 185.68,241.93 187.00,241.60 C188.32,241.27 189.40,242.77 190.50,244.50 C191.60,246.23 192.60,249.40 193.60,252.00 C194.60,254.60 196.02,258.75 196.50,260.10" fill="none" stroke="#c0151b" stroke-width="1.2" stroke-linecap="round"/>
<path d="M258.50,257.70 C258.92,257.02 260.10,254.65 261.00,253.60 C261.90,252.55 262.98,251.90 263.90,251.40 C264.82,250.90 265.43,251.57 266.50,250.60 C267.57,249.63 268.97,247.10 270.30,245.60 C271.63,244.10 273.22,241.80 274.50,241.60 C275.78,241.40 276.88,242.83 278.00,244.40 C279.12,245.97 280.08,249.15 281.20,251.00 C282.32,252.85 283.47,255.23 284.70,255.50 C285.93,255.77 287.25,254.15 288.60,252.60 C289.95,251.05 291.42,247.87 292.80,246.20 C294.18,244.53 295.53,242.70 296.90,242.60 C298.27,242.50 299.65,244.12 301.00,245.60 C302.35,247.08 303.70,249.68 305.00,251.50 C306.30,253.32 308.17,255.67 308.80,256.50" fill="none" stroke="#c0151b" stroke-width="1.2" stroke-linecap="round"/>
<path d="M370.40,252.80 C370.82,252.27 371.97,250.45 372.90,249.60 C373.83,248.75 375.05,248.12 376.00,247.70 C376.95,247.28 377.50,248.05 378.60,247.10 C379.70,246.15 381.28,243.43 382.60,242.00 C383.92,240.57 385.28,238.58 386.50,238.50 C387.72,238.42 388.80,239.98 389.90,241.50 C391.00,243.02 392.02,245.95 393.10,247.60 C394.18,249.25 395.22,251.15 396.40,251.40 C397.58,251.65 398.85,250.50 400.20,249.10 C401.55,247.70 403.13,244.63 404.50,243.00 C405.87,241.37 407.08,239.45 408.40,239.30 C409.72,239.15 411.05,240.65 412.40,242.10 C413.75,243.55 415.15,246.28 416.50,248.00 C417.85,249.72 419.83,251.67 420.50,252.40" fill="none" stroke="#c0151b" stroke-width="1.2" stroke-linecap="round"/>
<path d="M481.60,252.40 C482.00,251.97 483.15,250.38 484.00,249.80 C484.85,249.22 485.82,249.17 486.70,248.90 C487.58,248.63 488.25,249.00 489.30,248.20 C490.35,247.40 491.78,245.20 493.00,244.10 C494.22,243.00 495.42,241.62 496.60,241.60 C497.78,241.58 498.95,242.78 500.10,244.00 C501.25,245.22 502.37,247.67 503.50,248.90 C504.63,250.13 505.70,251.30 506.90,251.40 C508.10,251.50 509.35,250.60 510.70,249.50 C512.05,248.40 513.65,246.00 515.00,244.80 C516.35,243.60 517.50,242.35 518.80,242.30 C520.10,242.25 521.47,243.38 522.80,244.50 C524.13,245.62 525.52,247.68 526.80,249.00 C528.08,250.32 529.88,251.83 530.50,252.40" fill="none" stroke="#c0151b" stroke-width="1.2" stroke-linecap="round"/>
<path d="M593.30,256.20 C593.72,255.83 594.90,254.48 595.80,254.00 C596.70,253.52 597.75,253.53 598.70,253.30 C599.65,253.07 600.45,253.33 601.50,252.60 C602.55,251.87 603.82,249.88 605.00,248.90 C606.18,247.92 607.43,246.77 608.60,246.70 C609.77,246.63 610.85,247.43 612.00,248.50 C613.15,249.57 614.37,251.93 615.50,253.10 C616.63,254.27 617.62,255.37 618.80,255.50 C619.98,255.63 621.23,254.90 622.60,253.90 C623.97,252.90 625.57,250.60 627.00,249.50 C628.43,248.40 629.95,247.40 631.20,247.30 C632.45,247.20 633.43,248.05 634.50,248.90 C635.57,249.75 636.63,251.30 637.60,252.40 C638.57,253.50 639.85,254.98 640.30,255.50" fill="none" stroke="#c0151b" stroke-width="1.2" stroke-linecap="round"/>
<path d="M150.40,265.50 C150.77,264.92 151.87,262.87 152.60,262.00 C153.33,261.13 154.07,260.53 154.80,260.30 C155.53,260.07 156.33,260.90 157.00,260.60 C157.67,260.30 158.03,260.10 158.80,258.50 C159.57,256.90 160.67,253.00 161.60,251.00 C162.53,249.00 163.40,246.50 164.40,246.50 C165.40,246.50 166.50,248.75 167.60,251.00 C168.70,253.25 169.83,257.58 171.00,260.00 C172.17,262.42 173.37,265.25 174.60,265.50 C175.83,265.75 177.07,263.58 178.40,261.50 C179.73,259.42 181.17,255.25 182.60,253.00 C184.03,250.75 185.70,248.33 187.00,248.00 C188.30,247.67 189.37,249.17 190.40,251.00 C191.43,252.83 192.32,256.38 193.20,259.00 C194.08,261.62 195.28,265.42 195.70,266.70" fill="none" stroke="#c0151b" stroke-width="1.15" stroke-dasharray="3 1.6"/>
<path d="M259.20,265.50 C259.70,265.00 261.20,263.27 262.20,262.50 C263.20,261.73 264.12,261.30 265.20,260.90 C266.28,260.50 267.48,261.08 268.70,260.10 C269.92,259.12 271.22,256.50 272.50,255.00 C273.78,253.50 275.18,251.27 276.40,251.10 C277.62,250.93 278.65,252.45 279.80,254.00 C280.95,255.55 282.12,258.77 283.30,260.40 C284.48,262.03 285.65,263.67 286.90,263.80 C288.15,263.93 289.47,262.60 290.80,261.20 C292.13,259.80 293.60,256.92 294.90,255.40 C296.20,253.88 297.32,252.17 298.60,252.10 C299.88,252.03 301.30,253.58 302.60,255.00 C303.90,256.42 305.23,258.88 306.40,260.60 C307.57,262.32 309.07,264.52 309.60,265.30" fill="none" stroke="#c0151b" stroke-width="1.15" stroke-dasharray="3 1.6"/>
<path d="M370.10,260.90 C370.52,261.38 371.73,263.03 372.60,263.80 C373.47,264.57 374.37,265.70 375.30,265.50 C376.23,265.30 377.23,263.67 378.20,262.60 C379.17,261.53 380.02,259.12 381.10,259.10 C382.18,259.08 383.48,261.28 384.70,262.50 C385.92,263.72 387.12,266.57 388.40,266.40 C389.68,266.23 391.07,263.20 392.40,261.50 C393.73,259.80 394.88,256.20 396.40,256.20 C397.92,256.20 399.80,259.87 401.50,261.50 C403.20,263.13 405.02,265.58 406.60,266.00 C408.18,266.42 409.52,264.92 411.00,264.00 C412.48,263.08 414.03,261.55 415.50,260.50 C416.97,259.45 419.08,258.17 419.80,257.70" fill="none" stroke="#c0151b" stroke-width="1.15" stroke-dasharray="3 1.6"/>
<path d="M479.40,260.90 C479.92,260.25 481.48,258.17 482.50,257.00 C483.52,255.83 484.35,253.90 485.50,253.90 C486.65,253.90 488.10,256.08 489.40,257.00 C490.70,257.92 492.23,259.48 493.30,259.40 C494.37,259.32 494.95,257.35 495.80,256.50 C496.65,255.65 497.20,254.05 498.40,254.30 C499.60,254.55 501.50,256.90 503.00,258.00 C504.50,259.10 505.97,260.90 507.40,260.90 C508.83,260.90 510.17,259.22 511.60,258.00 C513.03,256.78 514.60,254.75 516.00,253.60 C517.40,252.45 518.57,250.87 520.00,251.10 C521.43,251.33 523.08,253.37 524.60,255.00 C526.12,256.63 528.35,259.92 529.10,260.90" fill="none" stroke="#c0151b" stroke-width="1.15" stroke-dasharray="3 1.6"/>
<path d="M594.30,263.50 C594.78,263.17 596.25,261.97 597.20,261.50 C598.15,261.03 599.15,260.93 600.00,260.70 C600.85,260.47 601.43,260.82 602.30,260.10 C603.17,259.38 604.22,257.48 605.20,256.40 C606.18,255.32 607.10,253.67 608.20,253.60 C609.30,253.53 610.60,254.77 611.80,256.00 C613.00,257.23 614.23,259.77 615.40,261.00 C616.57,262.23 617.60,263.30 618.80,263.40 C620.00,263.50 621.23,262.75 622.60,261.60 C623.97,260.45 625.52,257.77 627.00,256.50 C628.48,255.23 630.23,254.12 631.50,254.00 C632.77,253.88 633.60,254.87 634.60,255.80 C635.60,256.73 636.60,258.38 637.50,259.60 C638.40,260.82 639.58,262.52 640.00,263.10" fill="none" stroke="#c0151b" stroke-width="1.15" stroke-dasharray="3 1.6"/>
<text x="161.2" y="283.9" font-size="13.5" fill="#b00d14" textLength="23.9" lengthAdjust="spacing" class="b i" >time</text>
<text x="271.6" y="283.8" font-size="13.5" fill="#b00d14" textLength="23.4" lengthAdjust="spacing" class="b i" >time</text>
<text x="383.0" y="283.8" font-size="13.5" fill="#b00d14" textLength="23.6" lengthAdjust="spacing" class="b i" >time</text>
<text x="491.4" y="283.8" font-size="13.5" fill="#b00d14" textLength="23.8" lengthAdjust="spacing" class="b i" >time</text>
<text x="604.5" y="283.8" font-size="13.5" fill="#b00d14" textLength="23.7" lengthAdjust="spacing" class="b i" >time</text>
<text x="139.3" y="234.2" font-size="11.2" fill="#c8262d" text-anchor="end" >Ecosystem</text>
<text x="139.3" y="247.7" font-size="11.2" fill="#c8262d" text-anchor="end" >functioning</text>
<text x="139.3" y="261.6" font-size="11.2" fill="#b20e15" text-anchor="end" class="b" >of each</text>
<text x="139.3" y="274.7" font-size="11.2" fill="#b20e15" text-anchor="end" class="b" >components</text>
<text x="654.2" y="242.2" font-size="13.5" fill="#c00000" textLength="77.0" lengthAdjust="spacing" class="b" >Synchrony of</text>
<text x="654.2" y="258.7" font-size="13.5" fill="#c00000" textLength="57.7" lengthAdjust="spacing" class="b" >ecosystem</text>
<text x="654.2" y="274.7" font-size="13.5" fill="#c00000" textLength="65.0" lengthAdjust="spacing" class="b" >functioning</text>
<!-- sec_scene -->
<defs><radialGradient id="glow"><stop offset="0.55" stop-color="#ff9a3c" stop-opacity="0.95"/><stop offset="0.8" stop-color="#ffb870" stop-opacity="0.45"/><stop offset="1" stop-color="#ffd0a0" stop-opacity="0"/></radialGradient><linearGradient id="sung" x1="0" y1="0" x2="0" y2="1"><stop offset="0" stop-color="#ec8b52"/><stop offset="1" stop-color="#ee6c1a"/></linearGradient></defs>
<path d="M121.5,375.2L121.5,369.7M122.6,375.2L122.7,373.0M123.3,375.2L122.7,369.6M124.4,375.2L125.1,370.6M125.2,375.2L125.6,371.0M126.3,375.2L127.0,371.3M127.4,375.2L127.5,372.2M128.4,375.2L128.8,367.9M128.9,375.2L128.9,370.6M129.7,375.2L129.3,367.8M130.3,375.2L130.6,370.5M131.4,375.2L131.0,370.2M132.5,375.2L132.8,370.7M133.3,375.2L133.5,372.0M134.3,375.2L134.3,372.1M135.0,375.2L134.7,372.2M136.1,375.2L135.8,368.3M137.1,375.2L137.5,372.7M137.9,375.2L137.4,368.7M138.6,375.2L139.3,371.4M139.4,375.2L140.1,370.6M140.5,375.2L140.2,371.2M141.5,375.2L141.4,372.5M142.6,375.2L141.9,368.1M143.1,375.2L143.3,368.9M143.7,375.2L143.0,370.6M144.6,375.2L145.0,370.5M145.1,375.2L144.9,369.8M145.9,375.2L146.1,371.5M146.8,375.2L146.0,369.9M147.4,375.2L147.3,372.6M148.2,375.2L148.3,372.4M149.0,375.2L149.1,370.6M150.1,375.2L149.3,370.1M150.6,375.2L150.3,369.5M151.6,375.2L151.4,370.6M152.6,375.2L152.3,372.2M153.2,375.2L153.8,371.1M154.2,375.2L154.5,368.7M154.7,375.2L154.7,371.7M155.8,375.2L155.8,371.3M156.8,375.2L157.1,371.5M157.7,375.2L157.9,370.5M158.5,375.2L158.9,372.4M159.6,375.2L159.3,368.6M160.5,375.2L159.5,369.0M161.5,375.2L161.9,372.5M162.1,375.2L161.4,367.8M162.9,375.2L164.1,368.6M163.9,375.2L163.6,368.6M164.9,375.2L165.5,371.2M165.8,375.2L166.2,371.3M166.3,375.2L166.8,368.0M167.0,375.2L167.6,369.8M167.9,375.2L167.7,368.3M168.6,375.2L168.3,371.3M169.4,375.2L170.2,369.1M170.3,375.2L171.3,368.9M171.2,375.2L171.3,372.5M171.6,375.2L172.6,369.6M172.4,375.2L171.2,368.0M173.6,375.2L173.9,372.2M174.2,375.2L173.7,371.2M174.7,375.2L175.2,369.1M175.2,375.2L174.8,369.9M176.3,375.2L176.4,372.4M177.4,375.2L177.7,370.4M178.4,375.2L179.1,369.4M179.0,375.2L179.0,368.1M180.1,375.2L180.6,369.5M181.2,375.2L181.6,372.5M181.9,375.2L181.2,368.7M182.6,375.2L182.9,372.3M183.3,375.2L183.8,370.8M184.0,375.2L184.0,368.3M185.1,375.2L186.2,369.0M186.1,375.2L186.1,371.6M187.2,375.2L186.5,368.0M187.8,375.2L188.0,371.9M188.4,375.2L188.0,369.4M189.4,375.2L189.9,371.9M190.1,375.2L189.8,372.7M191.1,375.2L190.9,372.2M192.3,375.2L192.5,371.1M193.1,375.2L193.7,370.8M193.6,375.2L193.5,371.3M194.5,375.2L193.5,369.3M195.0,375.2L194.8,371.9M196.0,375.2L196.9,369.2M196.8,375.2L196.2,371.1M197.8,375.2L198.9,368.2M198.8,375.2L199.0,368.3M199.8,375.2L200.2,371.5M200.8,375.2L201.4,369.9M201.7,375.2L201.2,371.9M202.4,375.2L202.8,372.1M203.2,375.2L204.1,369.3M204.2,375.2L204.4,368.4M205.2,375.2L205.1,367.7M206.2,375.2L205.4,367.3M206.7,375.2L207.3,370.3M207.5,375.2L208.1,371.6M208.3,375.2L207.5,370.1M209.0,375.2L208.8,365.8M210.0,375.2L208.4,365.8M210.9,375.2L210.9,371.3M212.0,375.2L212.4,369.7M212.6,375.2L213.2,367.6M213.5,375.2L213.9,369.5M214.0,375.2L214.6,369.3M214.8,375.2L215.1,370.8M215.9,375.2L216.7,370.0M216.4,375.2L216.9,362.1M217.0,375.2L216.9,369.8M217.7,375.2L217.8,366.5M218.2,375.2L217.5,368.8M219.3,375.2L219.6,369.4M219.8,375.2L219.5,364.0M220.6,375.2L219.7,362.4M221.5,375.2L222.7,360.4M222.4,375.2L223.9,364.0M222.9,375.2L222.7,360.5M223.9,375.2L223.6,370.6M224.8,375.2L226.1,366.8M225.4,375.2L225.7,370.0M226.0,375.2L225.0,364.3M226.5,375.2L225.7,367.4M227.6,375.2L227.6,371.5M228.4,375.2L227.6,369.6M229.2,375.2L228.7,372.1M230.3,375.2L229.8,372.0M230.8,375.2L231.5,369.2M231.7,375.2L231.4,370.5M232.6,375.2L232.2,370.9M233.6,375.2L233.6,370.6M234.5,375.2L234.4,373.4M235.1,375.2L235.6,372.3M236.3,375.2L236.3,373.2M236.8,375.2L237.5,371.0M237.4,375.2L237.2,372.1M238.3,375.2L237.5,370.2M238.9,375.2L239.4,372.1M239.9,375.2L240.6,371.0M240.6,375.2L240.2,370.1M241.3,375.2L241.9,369.4M242.2,375.2L242.0,372.8M243.3,375.2L242.7,371.6M243.9,375.2L244.4,370.9M244.6,375.2L244.9,372.4M245.3,375.2L245.4,372.3M246.1,375.2L246.0,369.3M247.0,375.2L247.3,370.9M248.1,375.2L248.5,372.2M249.2,375.2L248.4,370.4M250.0,375.2L249.2,367.8M250.5,375.2L251.3,369.8M251.4,375.2L251.7,366.6M252.3,375.2L252.3,368.4M252.9,375.2L251.4,362.5M253.9,375.2L254.7,365.8M254.7,375.2L254.2,366.3M255.2,375.2L255.6,365.2M255.9,375.2L258.0,361.3M256.6,375.2L255.7,366.4M257.5,375.2L257.1,368.7M258.7,375.2L259.6,368.8M259.5,375.2L260.3,368.1M260.4,375.2L259.7,360.4M261.0,375.2L260.2,368.5M261.8,375.2L260.3,365.1M262.4,375.2L260.6,363.6M262.9,375.2L260.8,360.8M263.6,375.2L260.8,355.8M264.4,375.2L265.2,366.9M265.2,375.2L265.8,368.3M266.3,375.2L264.7,359.4M267.4,375.2L266.8,361.8M267.9,375.2L266.3,364.1M268.5,375.2L269.5,362.7M269.3,375.2L270.5,365.7M270.4,375.2L270.8,369.7M271.4,375.2L271.1,363.6M272.4,375.2L273.2,369.4M273.2,375.2L273.9,363.2M274.0,375.2L273.2,366.6M274.6,375.2L275.3,369.1M275.7,375.2L274.7,360.7M276.4,375.2L276.3,358.4M277.1,375.2L275.8,358.6M277.7,375.2L279.1,364.4M278.8,375.2L279.7,366.4M279.3,375.2L277.3,359.7M279.9,375.2L277.5,357.3M280.8,375.2L282.6,364.3M281.7,375.2L283.5,365.0M282.6,375.2L282.0,366.4M283.7,375.2L280.0,352.6M284.5,375.2L285.2,365.6M285.0,375.2L285.2,356.5M285.9,375.2L286.7,361.0M286.9,375.2L286.4,366.7M287.5,375.2L288.0,361.0M288.2,375.2L284.7,354.7M288.8,375.2L287.5,366.1M289.6,375.2L288.8,357.6M290.6,375.2L290.9,363.6M291.1,375.2L289.3,364.1M292.0,375.2L294.0,359.4M293.1,375.2L291.5,361.9M293.8,375.2L294.7,360.9M294.7,375.2L293.8,368.2M295.7,375.2L295.7,368.7M296.4,375.2L294.3,360.2M297.4,375.2L297.9,367.7M298.0,375.2L298.8,365.4M298.9,375.2L299.3,365.3M299.7,375.2L298.7,367.6M300.6,375.2L300.6,371.4M301.4,375.2L301.0,371.5M302.4,375.2L302.3,367.8M303.3,375.2L303.2,369.6M304.0,375.2L302.7,366.5M305.1,375.2L304.8,371.6M306.2,375.2L305.9,370.4M306.7,375.2L305.6,365.1M307.5,375.2L306.9,369.4M308.3,375.2L309.3,369.1M309.1,375.2L307.5,365.8M310.1,375.2L309.5,366.8M311.0,375.2L310.5,371.1M311.9,375.2L312.9,367.7M312.8,375.2L314.4,362.6M313.4,375.2L314.2,363.6M314.0,375.2L313.6,370.2M315.0,375.2L315.1,368.2M315.8,375.2L315.6,365.8M316.3,375.2L316.6,362.0M316.8,375.2L317.6,369.7M317.9,375.2L317.5,366.8M318.6,375.2L318.6,368.5M319.5,375.2L320.4,370.0M320.1,375.2L320.3,370.3M320.8,375.2L319.6,364.0M321.7,375.2L322.3,370.0M322.3,375.2L321.0,361.5M323.1,375.2L324.3,367.7M323.8,375.2L325.1,366.5M324.4,375.2L325.4,367.5M325.0,375.2L325.2,370.6M326.0,375.2L326.0,364.4M326.6,375.2L326.5,371.5M327.2,375.2L327.7,367.7M328.1,375.2L328.9,370.8M329.1,375.2L329.9,368.1M330.2,375.2L330.7,370.5M331.0,375.2L331.8,370.4M331.5,375.2L332.1,370.0M332.5,375.2L332.9,370.9M333.1,375.2L333.1,370.4M333.6,375.2L334.1,372.0M334.2,375.2L333.8,367.1M335.3,375.2L335.3,368.4M336.4,375.2L336.5,371.8M337.4,375.2L336.9,367.6M337.9,375.2L339.3,365.5M338.5,375.2L337.5,366.2M339.2,375.2L337.8,364.7M340.1,375.2L341.1,366.5M341.2,375.2L341.5,371.4M342.1,375.2L341.6,368.4M343.2,375.2L343.5,369.5M343.8,375.2L344.9,368.8M344.5,375.2L343.0,365.2M345.6,375.2L345.2,367.1M346.6,375.2L348.1,366.0M347.5,375.2L347.2,365.6M348.6,375.2L348.6,365.6M349.2,375.2L349.2,363.5M350.2,375.2L350.0,371.1M350.8,375.2L350.5,365.7M351.9,375.2L351.5,369.2M352.6,375.2L352.7,369.8M353.4,375.2L352.8,363.3M353.9,375.2L355.8,363.4M354.8,375.2L354.8,370.5M355.4,375.2L355.2,368.2M355.9,375.2L355.9,366.5M356.5,375.2L356.7,370.0M357.4,375.2L358.1,360.3M358.0,375.2L357.0,368.9M358.5,375.2L356.4,361.8M359.3,375.2L359.7,368.6M360.3,375.2L361.1,364.3M360.8,375.2L359.9,369.1M361.4,375.2L361.9,369.5M362.5,375.2L361.3,360.5M363.2,375.2L361.7,361.8M363.9,375.2L363.9,360.8M364.6,375.2L365.5,366.9M365.3,375.2L365.5,364.3M365.9,375.2L364.7,356.3M366.9,375.2L365.1,360.1M367.3,375.2L368.4,362.9M367.9,375.2L365.9,357.0M368.6,375.2L367.6,367.3M369.5,375.2L366.8,358.3M370.5,375.2L370.8,361.6M371.3,375.2L372.5,367.4M372.4,375.2L371.8,367.7M373.0,375.2L372.7,363.8M374.1,375.2L376.4,360.3M375.1,375.2L375.8,367.3M376.0,375.2L376.1,367.6M376.9,375.2L378.0,367.7M378.0,375.2L374.7,355.4M378.8,375.2L377.8,367.4M379.6,375.2L380.2,363.6M380.6,375.2L382.0,363.8M381.7,375.2L377.9,353.4M382.4,375.2L385.1,354.1M383.0,375.2L385.9,355.6M384.0,375.2L384.7,366.9M384.4,375.2L384.8,360.0M385.4,375.2L385.3,364.2M386.1,375.2L385.8,366.8M387.1,375.2L385.2,358.6M387.5,375.2L388.6,355.6M388.1,375.2L386.8,361.2M389.0,375.2L388.1,357.9M390.0,375.2L389.5,369.2M390.7,375.2L390.5,365.3M391.8,375.2L391.0,368.4M392.9,375.2L393.3,365.5M393.6,375.2L394.7,366.0M394.2,375.2L393.6,367.4M395.1,375.2L394.7,368.9M395.8,375.2L396.0,369.2M396.3,375.2L395.3,369.4M397.0,375.2L397.2,371.0M397.6,375.2L398.4,364.5M398.2,375.2L399.4,365.2M398.8,375.2L399.7,368.1M399.2,375.2L398.8,371.8" stroke="#7d7d7d" stroke-width="0.65" fill="none" opacity="0.95"/><path d="M121.5,375.5L120.9,371.4M121.9,375.5L121.8,372.9M122.3,375.5L123.0,371.9M122.9,375.5L122.7,372.1M123.4,375.5L123.4,370.4M124.1,375.5L124.3,371.0M124.6,375.5L124.6,371.3M125.0,375.5L124.4,371.3M125.6,375.5L126.0,372.4M126.2,375.5L126.5,372.1M126.9,375.5L127.0,371.5M127.5,375.5L127.1,373.1M128.1,375.5L127.7,372.8M128.8,375.5L128.7,370.2M129.2,375.5L129.9,370.8M129.7,375.5L129.3,370.8M130.3,375.5L131.0,373.2M130.8,375.5L131.1,371.5M131.3,375.5L131.0,372.1M131.9,375.5L132.4,370.4M132.3,375.5L132.9,371.2M132.7,375.5L132.7,371.8M133.3,375.5L133.3,372.9M133.8,375.5L134.1,370.8M134.5,375.5L134.6,371.9M134.9,375.5L135.6,371.0M135.5,375.5L135.5,371.0M136.2,375.5L136.8,371.1M136.5,375.5L136.2,371.2M136.9,375.5L137.2,372.2M137.3,375.5L137.7,373.0M137.8,375.5L137.2,371.8M138.2,375.5L138.6,372.1M138.6,375.5L138.4,371.5M139.1,375.5L138.6,371.4M139.6,375.5L139.2,372.4M140.0,375.5L140.2,372.5M140.5,375.5L140.9,371.2M141.2,375.5L141.2,371.8M141.8,375.5L141.7,373.2M142.3,375.5L141.5,371.2M142.8,375.5L142.2,370.4M143.4,375.5L142.9,370.9M143.8,375.5L143.1,371.0M144.1,375.5L143.8,370.6M144.6,375.5L144.3,372.6M145.3,375.5L145.3,371.8M145.8,375.5L146.1,373.2M146.5,375.5L146.7,372.6M147.0,375.5L147.1,371.3M147.6,375.5L147.8,371.5M148.1,375.5L148.7,370.7M148.6,375.5L148.0,372.4M149.2,375.5L148.5,370.6M149.7,375.5L149.6,372.5M150.2,375.5L150.4,372.8M150.5,375.5L150.5,372.8M151.1,375.5L151.3,370.7M151.7,375.5L152.4,370.5M152.3,375.5L152.2,370.6M152.8,375.5L152.5,372.2M153.3,375.5L153.3,373.1M153.8,375.5L153.9,370.8M154.2,375.5L154.3,371.8M154.7,375.5L154.2,370.8M155.1,375.5L155.5,370.4M155.8,375.5L156.1,372.1M156.2,375.5L156.3,371.9M156.9,375.5L157.6,372.8M157.2,375.5L156.8,370.8M157.6,375.5L157.5,370.5M158.3,375.5L157.8,372.1M158.7,375.5L159.4,371.5M159.2,375.5L158.5,371.8M159.7,375.5L159.6,372.0M160.3,375.5L159.9,370.8M160.8,375.5L161.3,371.6M161.3,375.5L162.0,372.9M161.8,375.5L162.3,371.2M162.1,375.5L162.6,371.0M162.7,375.5L162.2,371.4M163.4,375.5L164.1,373.2M164.0,375.5L163.3,370.5M164.7,375.5L165.1,370.8M165.1,375.5L164.5,372.5M165.8,375.5L165.2,370.7M166.2,375.5L165.7,372.2M166.7,375.5L167.1,371.1M167.1,375.5L166.4,372.0M167.6,375.5L166.9,372.9M168.0,375.5L167.4,372.7M168.4,375.5L167.8,371.3M168.8,375.5L168.6,370.8M169.3,375.5L170.0,370.3M169.8,375.5L170.2,372.2M170.4,375.5L170.9,371.9M171.1,375.5L171.8,373.2M171.5,375.5L172.1,372.2M172.1,375.5L172.0,372.6M172.8,375.5L173.2,370.4M173.3,375.5L173.1,370.3M173.8,375.5L173.4,370.3M174.1,375.5L174.5,372.3M174.7,375.5L174.2,373.1M175.3,375.5L175.2,370.8M175.8,375.5L175.1,371.3M176.3,375.5L176.7,371.1M176.7,375.5L176.6,373.2M177.3,375.5L176.8,371.6M177.7,375.5L177.2,371.7M178.2,375.5L178.2,373.2M178.7,375.5L179.2,370.5M179.0,375.5L178.5,372.3M179.5,375.5L178.8,372.3M179.9,375.5L180.5,372.3M180.5,375.5L180.0,371.7M181.2,375.5L181.8,373.2M181.8,375.5L181.1,372.8M182.4,375.5L182.3,371.3M183.0,375.5L182.3,370.7M183.5,375.5L184.2,372.8M184.2,375.5L184.0,371.3M184.8,375.5L185.0,373.2M185.2,375.5L185.0,372.0M185.8,375.5L185.5,372.4M186.2,375.5L185.6,371.6M186.8,375.5L187.0,372.6M187.4,375.5L186.9,370.7M188.0,375.5L187.3,371.6M188.4,375.5L188.1,372.9M188.9,375.5L189.0,371.7M189.4,375.5L189.7,370.5M190.0,375.5L190.0,371.3M190.6,375.5L190.6,373.0M191.0,375.5L191.6,370.3M191.4,375.5L191.7,371.5M192.0,375.5L192.0,371.4M192.7,375.5L192.0,372.1M193.3,375.5L192.6,370.7M193.8,375.5L193.4,371.4M194.5,375.5L194.5,372.8M195.1,375.5L194.6,370.7M195.6,375.5L195.3,373.0M196.2,375.5L196.0,373.1M196.7,375.5L196.4,371.8M197.3,375.5L197.7,372.8M197.8,375.5L198.2,371.2M198.3,375.5L198.7,372.2M198.8,375.5L199.0,371.7M199.2,375.5L198.6,370.7M199.9,375.5L199.5,371.2M200.5,375.5L200.4,370.7M201.1,375.5L201.1,373.1M201.8,375.5L201.6,373.1M202.4,375.5L201.7,372.4M202.9,375.5L203.4,370.4M203.6,375.5L203.2,373.0M204.3,375.5L204.2,370.3M204.6,375.5L205.2,371.5M205.1,375.5L204.4,370.4M205.7,375.5L206.3,373.0M206.2,375.5L205.5,371.0M206.8,375.5L206.7,372.9M207.4,375.5L207.2,370.8M207.7,375.5L207.0,371.2M208.1,375.5L208.1,371.7M208.5,375.5L208.9,372.9M209.1,375.5L209.6,372.1M209.5,375.5L208.9,370.8M210.2,375.5L209.9,371.5M210.6,375.5L210.4,372.9M211.2,375.5L211.1,371.3M211.6,375.5L211.2,370.5M212.0,375.5L212.2,371.0M212.5,375.5L213.2,372.3M213.0,375.5L212.7,372.9M213.7,375.5L213.8,372.9M214.1,375.5L213.9,370.9M214.7,375.5L214.8,370.7M215.1,375.5L214.9,372.4M215.7,375.5L215.2,372.4M216.1,375.5L216.5,371.7M216.8,375.5L217.3,371.5M217.5,375.5L218.1,371.4M218.0,375.5L218.0,371.6M218.4,375.5L218.7,372.9M218.7,375.5L219.5,371.7M219.2,375.5L219.1,371.1M219.7,375.5L220.2,371.2M220.1,375.5L219.8,371.2M220.5,375.5L220.8,371.9M221.0,375.5L221.3,371.2M221.5,375.5L221.3,371.3M222.2,375.5L221.4,371.0M222.8,375.5L223.4,370.7M223.4,375.5L223.7,373.0M223.8,375.5L223.4,371.9M224.5,375.5L224.1,371.8M225.1,375.5L225.3,370.6M225.7,375.5L226.4,370.5M226.4,375.5L226.5,370.9M227.0,375.5L226.7,371.6M227.6,375.5L228.2,373.0M227.9,375.5L227.9,372.0M228.6,375.5L228.2,371.2M229.2,375.5L229.2,370.5M229.8,375.5L229.9,370.4M230.4,375.5L229.9,373.1M231.1,375.5L231.1,371.9M231.6,375.5L231.6,372.3M232.3,375.5L231.7,370.2M232.8,375.5L232.3,371.7M233.3,375.5L232.8,372.3M233.9,375.5L234.1,370.6M234.6,375.5L234.2,370.3M235.2,375.5L235.3,372.4M235.7,375.5L236.4,371.5M236.3,375.5L235.6,372.2M236.9,375.5L237.1,372.0M237.4,375.5L236.9,372.8M237.9,375.5L237.6,370.8M238.6,375.5L239.2,370.8M239.1,375.5L238.4,371.8M239.6,375.5L239.0,370.5M240.2,375.5L240.6,370.7M240.8,375.5L240.4,372.0M241.2,375.5L241.5,372.9M241.7,375.5L242.3,371.0M242.0,375.5L242.2,372.3M242.6,375.5L243.2,371.3M243.0,375.5L242.4,371.7M243.5,375.5L242.8,371.9M244.0,375.5L244.0,370.7M244.5,375.5L244.9,371.8M244.9,375.5L244.2,371.6M245.5,375.5L245.1,372.0M246.0,375.5L246.5,371.2M246.6,375.5L246.3,370.2M247.0,375.5L246.4,371.5M247.4,375.5L248.0,371.3M248.0,375.5L248.7,373.1M248.6,375.5L248.8,371.4M249.1,375.5L249.5,372.3M249.5,375.5L249.6,370.7M250.1,375.5L250.7,371.2M250.4,375.5L249.8,371.6M250.8,375.5L250.1,370.3M251.2,375.5L251.4,370.6M251.6,375.5L251.6,370.4M252.3,375.5L252.5,373.0M252.7,375.5L252.3,372.8M253.1,375.5L252.8,372.2M253.6,375.5L253.4,372.7M254.0,375.5L253.4,373.0M254.5,375.5L254.0,372.5M255.2,375.5L255.6,372.5M255.6,375.5L255.5,373.0M256.1,375.5L255.4,373.1M256.5,375.5L256.3,370.8M257.1,375.5L256.7,372.3M257.7,375.5L257.4,370.3M258.4,375.5L258.1,372.3M259.0,375.5L259.1,371.4M259.6,375.5L260.2,373.2M260.1,375.5L260.6,370.4M260.6,375.5L261.1,371.9M261.3,375.5L260.5,372.8M261.7,375.5L261.1,372.1M262.4,375.5L262.4,370.4M262.8,375.5L262.2,372.8M263.4,375.5L263.5,373.2M263.7,375.5L263.4,370.7M264.2,375.5L264.8,370.9M264.6,375.5L265.1,372.8M265.0,375.5L264.9,372.4M265.6,375.5L265.6,371.7M266.0,375.5L266.1,370.8M266.7,375.5L267.0,371.6M267.1,375.5L266.8,371.5M267.5,375.5L268.2,370.2M267.9,375.5L268.4,371.3M268.4,375.5L268.9,372.4M268.9,375.5L269.3,371.6M269.4,375.5L269.2,371.4M270.1,375.5L270.0,370.6M270.7,375.5L271.3,370.4M271.1,375.5L271.3,371.5M271.5,375.5L271.5,371.9M272.1,375.5L272.6,371.1M272.7,375.5L273.1,370.8M273.2,375.5L272.5,371.6M273.5,375.5L273.6,372.4M274.1,375.5L274.8,371.5M274.7,375.5L274.5,372.0M275.2,375.5L275.1,371.8M275.9,375.5L275.6,371.0M276.3,375.5L276.7,371.1M276.8,375.5L277.1,370.8M277.4,375.5L277.3,372.3M278.0,375.5L278.0,370.5M278.3,375.5L278.7,372.2M278.9,375.5L279.0,372.2M279.6,375.5L280.0,372.3M280.1,375.5L280.7,372.2M280.6,375.5L281.3,372.1M281.1,375.5L280.4,372.6M281.7,375.5L281.4,370.9M282.2,375.5L282.7,371.4M282.6,375.5L281.9,372.2M283.0,375.5L283.1,371.6M283.5,375.5L284.1,372.8M283.9,375.5L284.6,370.3M284.5,375.5L284.2,372.3M284.9,375.5L285.3,371.2M285.5,375.5L285.4,371.4M286.0,375.5L286.1,372.5M286.4,375.5L286.1,370.9M287.1,375.5L287.6,372.0M287.7,375.5L288.3,372.0M288.3,375.5L288.3,370.5M288.7,375.5L288.9,372.9M289.1,375.5L288.5,370.3M289.8,375.5L289.8,370.7M290.5,375.5L290.7,373.2M291.1,375.5L291.3,371.5M291.5,375.5L292.1,371.8M292.2,375.5L291.8,373.1M292.7,375.5L292.0,372.2M293.3,375.5L293.8,372.6M293.9,375.5L294.3,372.2M294.5,375.5L294.7,371.9M294.9,375.5L295.3,372.2M295.4,375.5L295.6,372.3M295.8,375.5L295.6,372.5M296.5,375.5L296.8,371.0M297.1,375.5L297.8,371.5M297.6,375.5L296.9,370.3M298.0,375.5L297.5,370.2M298.4,375.5L298.0,371.5M298.8,375.5L298.5,372.9M299.2,375.5L298.7,370.3M299.9,375.5L299.3,372.2M300.2,375.5L299.8,370.6M300.6,375.5L301.4,371.8M301.1,375.5L301.3,372.6M301.7,375.5L301.3,371.3M302.2,375.5L302.2,370.7M302.7,375.5L302.7,370.7M303.2,375.5L303.8,372.4M303.8,375.5L304.6,370.6M304.3,375.5L304.0,372.4M304.7,375.5L304.7,372.0M305.3,375.5L305.7,373.0M305.7,375.5L306.2,371.6M306.3,375.5L306.4,372.6M306.7,375.5L307.4,373.0M307.2,375.5L307.0,371.5M307.8,375.5L308.3,372.2M308.2,375.5L308.0,370.5M308.6,375.5L308.8,372.8M309.1,375.5L308.7,370.8M309.8,375.5L310.5,370.9M310.3,375.5L310.7,372.5M311.0,375.5L310.6,372.3M311.4,375.5L311.1,371.0M311.9,375.5L311.3,371.9M312.4,375.5L312.2,372.1M313.1,375.5L313.3,370.5M313.8,375.5L314.4,370.4M314.4,375.5L313.9,371.5M314.8,375.5L314.1,371.3M315.2,375.5L315.3,372.4M315.9,375.5L315.4,371.8M316.3,375.5L315.9,372.8M316.9,375.5L316.4,372.9M317.5,375.5L317.7,372.8M318.2,375.5L317.5,370.3M318.8,375.5L318.7,371.2M319.2,375.5L318.9,371.8M319.6,375.5L320.0,371.0M320.3,375.5L320.4,373.0M320.9,375.5L321.6,372.0M321.3,375.5L321.7,372.4M321.7,375.5L321.8,372.7M322.2,375.5L321.8,371.2M322.8,375.5L322.7,371.2M323.2,375.5L323.7,371.6M323.6,375.5L323.6,370.7M324.2,375.5L324.8,371.4M324.8,375.5L324.2,371.8M325.5,375.5L325.5,370.5M326.0,375.5L326.4,372.4M326.5,375.5L327.2,371.3M327.2,375.5L327.0,372.9M327.8,375.5L328.0,371.7M328.2,375.5L328.9,371.6M328.6,375.5L329.2,372.0M329.1,375.5L328.8,372.9M329.8,375.5L329.6,371.8M330.2,375.5L329.6,373.1M330.8,375.5L330.3,372.1M331.5,375.5L331.0,372.3M332.0,375.5L331.5,373.0M332.6,375.5L333.2,370.5M333.1,375.5L333.8,372.7M333.7,375.5L334.0,371.7M334.2,375.5L333.9,371.0M334.8,375.5L334.6,372.2M335.5,375.5L334.8,373.0M336.1,375.5L336.6,373.0M336.7,375.5L336.5,372.6M337.3,375.5L337.1,371.1M337.9,375.5L337.3,370.9M338.5,375.5L338.7,370.5M339.2,375.5L338.7,370.9M339.8,375.5L339.4,372.9M340.5,375.5L340.3,370.8M341.1,375.5L340.8,371.9M341.6,375.5L342.2,372.1M342.2,375.5L342.9,371.1M342.6,375.5L342.1,370.6M343.2,375.5L342.7,371.6M343.6,375.5L343.6,371.2M344.0,375.5L344.3,372.3M344.6,375.5L345.0,371.5M345.1,375.5L344.7,371.6M345.6,375.5L345.8,372.0M346.1,375.5L345.4,372.8M346.6,375.5L346.4,370.9M347.0,375.5L347.3,371.6M347.7,375.5L347.6,370.8M348.2,375.5L347.7,371.8M348.6,375.5L348.0,373.0M349.1,375.5L349.1,370.3M349.5,375.5L349.4,370.3M349.9,375.5L349.9,370.7M350.4,375.5L351.0,373.0M351.1,375.5L351.0,370.8M351.7,375.5L351.8,371.7M352.4,375.5L351.9,371.1M353.1,375.5L352.6,372.7M353.6,375.5L354.4,371.1M354.1,375.5L353.8,371.7M354.8,375.5L355.4,370.8M355.3,375.5L354.7,372.2M356.0,375.5L355.2,373.2M356.5,375.5L356.0,370.7M357.1,375.5L357.6,371.2M357.5,375.5L357.4,371.4M358.1,375.5L357.8,372.2M358.5,375.5L357.8,371.1M358.8,375.5L358.7,372.7M359.3,375.5L359.0,371.9M359.9,375.5L359.3,370.8M360.5,375.5L360.4,371.4M360.8,375.5L360.9,371.9M361.3,375.5L360.9,372.1M361.8,375.5L361.9,371.2M362.3,375.5L362.5,372.1M362.9,375.5L363.7,370.4M363.6,375.5L364.3,371.0M364.0,375.5L363.4,371.3M364.5,375.5L364.5,373.0M364.9,375.5L364.2,371.0M365.5,375.5L365.9,371.2M366.1,375.5L366.7,370.3M366.7,375.5L366.2,370.9M367.3,375.5L367.3,371.3M367.7,375.5L368.2,370.6M368.4,375.5L368.3,370.8M368.8,375.5L369.3,371.4M369.3,375.5L369.8,370.3M369.9,375.5L369.2,371.3M370.2,375.5L370.5,371.0M370.7,375.5L370.6,371.0M371.2,375.5L371.8,373.0M371.6,375.5L372.1,370.9M372.0,375.5L372.7,370.8M372.6,375.5L372.4,372.1M373.2,375.5L372.8,373.0M373.5,375.5L374.2,371.1M374.2,375.5L373.5,370.3M374.8,375.5L375.0,370.5M375.2,375.5L375.4,370.8M375.8,375.5L376.3,370.4M376.3,375.5L376.4,371.2M376.9,375.5L377.5,371.0M377.5,375.5L377.0,370.4M378.1,375.5L378.8,372.4M378.5,375.5L378.5,371.9M379.0,375.5L379.5,371.2M379.4,375.5L380.0,370.4M379.8,375.5L380.0,371.9M380.4,375.5L380.0,370.3M380.9,375.5L380.8,371.9M381.5,375.5L381.6,372.6M382.2,375.5L382.2,372.6M382.9,375.5L383.0,371.4M383.4,375.5L382.7,371.3M384.1,375.5L384.5,373.1M384.6,375.5L384.3,371.5M385.2,375.5L385.6,372.2M385.9,375.5L386.3,372.0M386.3,375.5L386.0,371.2M386.9,375.5L386.4,373.0M387.4,375.5L387.8,370.4M387.8,375.5L388.2,372.0M388.2,375.5L387.5,370.9M388.8,375.5L389.2,371.9M389.5,375.5L389.4,372.2M390.0,375.5L389.9,373.0M390.5,375.5L390.8,371.9M391.1,375.5L391.7,370.7M391.8,375.5L391.3,371.8M392.2,375.5L392.9,371.0M392.8,375.5L392.6,371.2M393.2,375.5L392.6,370.8M393.9,375.5L394.6,371.5M394.4,375.5L394.2,373.0M394.9,375.5L394.4,371.3M395.3,375.5L395.9,371.1M395.9,375.5L395.2,372.0M396.4,375.5L396.4,370.7M396.9,375.5L396.5,371.9M397.6,375.5L397.5,371.9M397.9,375.5L397.5,372.6" stroke="#787878" stroke-width="0.7" fill="none"/><path d="M121.5,375.0 L400,375.0" stroke="#7a7a7a" stroke-width="2.2" stroke-dasharray="1.8 0.5 3 0.3 1.2 0.6" />
<path d="M392.4,352.5L393.5,355.7L394.4,357.2L393.6,358.1L393.9,360.7L395.0,362.2L393.8,363.1L394.9,366.8L396.9,367.7L395.1,368.3L395.6,370.9L398.1,372.6L395.5,373.2L390.2,373.8L386.9,372.7L389.4,370.9L390.0,368.4L387.7,367.7L389.9,366.2L391.0,363.4L389.4,362.7L390.8,361.1L391.5,358.6L390.7,357.2L391.5,356.5Z" fill="#fff" stroke="#6e6e6e" stroke-width="1.1" stroke-linejoin="round"/>
<path d="M392.2,364.3L391.6,369.5M393.4,369.4L395.5,374.0" fill="none" stroke="#858585" stroke-width="0.8"/>
<path d="M406.8,369.5Q408.4,371.7 404.9,372.4Q404.6,375.8 401.0,373.6Q397.3,375.8 396.8,372.6Q392.9,372.1 395.8,369.5Q394.7,367.6 397.3,366.8Q397.6,362.9 401.0,365.1Q404.5,363.4 405.3,366.4Q408.5,367.2 406.8,369.5Z" fill="#fff" stroke="#6e6e6e" stroke-width="1.1" stroke-linejoin="round"/>
<path d="M408.6,366.0 L408.3,375 L410.7,375 L410.4,366.0" fill="#8c8c8c" stroke="#6a6a6a" stroke-width="0.7"/>
<path d="M411.7,343.5L413.7,346.4L415.0,347.6L413.6,348.9L414.6,351.2L416.8,352.1L414.1,352.6L415.1,355.3L417.6,356.2L414.3,357.4L415.6,359.0L418.5,359.6L414.8,361.0L415.8,362.4L419.0,363.8L415.0,364.3L417.1,367.5L421.2,368.2L416.6,368.9L407.9,368.3L402.5,367.8L406.8,367.5L407.2,364.9L403.8,363.7L407.5,363.2L408.5,361.5L405.7,360.3L408.5,359.3L409.3,356.2L406.5,355.6L409.0,355.3L410.4,352.1L408.3,351.4L410.0,350.8L410.7,348.8L408.9,347.5L410.3,346.9Z" fill="#fff" stroke="#6e6e6e" stroke-width="1.1" stroke-linejoin="round"/>
<path d="M411.3,353.3L409.8,356.2M413.0,357.5L415.0,361.4M410.5,361.8L413.1,366.0M413.3,366.0L414.3,368.8" fill="none" stroke="#858585" stroke-width="0.8"/>
<path d="M430.3,366.0Q433.4,369.2 429.7,370.1Q428.6,372.4 425.1,371.5Q422.5,373.5 420.8,370.8Q416.4,371.4 417.6,368.0Q415.1,366.0 417.8,364.1Q416.6,360.7 420.7,361.1Q422.5,357.8 425.3,359.7Q428.7,358.8 429.3,362.2Q433.1,363.0 430.3,366.0Z" fill="#fff" stroke="#6e6e6e" stroke-width="1.1" stroke-linejoin="round"/>
<path d="M425.9,365.0Q427.1,366.3 425.0,366.2Q424.0,369.3 423.0,366.2Q420.0,366.8 422.2,365.0Q420.4,363.5 423.1,363.9Q424.0,361.3 424.9,363.9Q427.2,363.7 425.9,365.0Z" fill="#fff" stroke="#6e6e6e" stroke-width="1.1" stroke-linejoin="round"/>
<path d="M443.8,359.0Q445.3,362.2 443.0,364.1Q442.0,366.8 438.2,365.8Q435.8,368.6 433.4,366.9Q429.2,368.3 429.3,363.9Q426.1,362.4 428.5,359.0Q426.6,355.9 429.8,354.5Q430.2,351.1 433.7,351.9Q436.1,348.8 438.5,351.3Q442.5,350.0 442.3,354.4Q445.4,355.9 443.8,359.0Z" fill="#fff" stroke="#6e6e6e" stroke-width="1.1" stroke-linejoin="round"/>
<path d="M439.0,356.0Q441.6,357.8 438.0,357.2Q437.1,360.7 436.0,357.2Q433.6,357.3 434.9,356.0Q432.4,354.1 435.9,354.7Q436.9,351.7 438.0,354.8Q441.8,354.0 439.0,356.0Z" fill="#fff" stroke="#6e6e6e" stroke-width="1.1" stroke-linejoin="round"/>
<path d="M430.6,367.0 L430.3,375 L432.7,375 L432.4,367.0" fill="#8c8c8c" stroke="#6a6a6a" stroke-width="0.7"/>
<path d="M447.3,337.0L447.8,340.2L448.4,341.8L447.8,342.6L448.4,346.3L449.5,347.6L448.0,349.0L448.6,350.3L450.0,351.8L448.2,352.6L448.6,355.8L449.9,357.3L448.4,358.3L449.1,359.9L450.9,361.7L449.3,362.3L449.9,365.9L452.3,367.0L449.3,367.6L450.1,371.0L452.7,371.6L449.6,372.6L444.1,373.5L442.1,372.2L444.3,371.1L444.2,368.5L441.8,367.2L444.2,365.8L445.3,362.7L443.0,361.4L444.8,359.9L445.3,358.0L443.3,357.4L444.9,356.2L445.2,353.8L443.9,352.5L445.3,351.1L445.6,348.1L444.6,347.5L445.7,346.2L446.1,343.3L445.2,341.9L446.0,341.1Z" fill="#fff" stroke="#6e6e6e" stroke-width="1.1" stroke-linejoin="round"/>
<path d="M447.2,348.8L450.6,354.1M447.4,354.0L450.0,356.6M447.8,359.1L450.1,361.9M447.4,364.3L449.5,368.5M446.6,369.4L447.8,372.5" fill="none" stroke="#858585" stroke-width="0.8"/>
<path d="M510.4,330.0L511.7,334.9L513.1,336.9L511.6,338.4L512.7,340.5L515.0,342.6L512.5,344.2L513.4,348.1L516.1,349.8L512.5,350.8L514.1,354.8L517.5,356.1L514.5,357.2L514.7,360.5L518.5,362.5L514.1,363.7L505.4,364.9L500.7,363.4L504.9,361.0L506.3,358.0L501.1,356.8L505.1,355.1L505.7,350.5L502.7,349.2L506.0,347.4L506.9,344.2L504.7,343.0L507.1,341.1L507.8,337.4L506.3,336.7L508.0,334.5Z" fill="#fff" stroke="#6e6e6e" stroke-width="1.1" stroke-linejoin="round"/>
<path d="M509.7,345.6L508.5,351.0M510.7,352.4L511.6,358.2M509.1,359.2L511.2,364.0" fill="none" stroke="#858585" stroke-width="0.8"/>
<path d="M555.8,327.0L558.1,331.5L559.8,333.7L558.1,334.9L559.1,338.6L561.7,341.1L559.4,342.7L560.7,346.7L564.6,348.4L559.6,349.4L560.5,354.0L564.2,355.9L560.1,357.6L561.1,360.6L565.4,362.4L560.1,363.3L550.9,364.2L545.0,363.3L549.9,360.7L550.9,356.6L546.4,355.5L550.7,353.9L552.2,349.2L549.4,348.2L552.3,346.3L553.3,342.5L550.7,341.0L553.1,339.6L553.4,334.5L551.4,333.6L553.4,331.8Z" fill="#fff" stroke="#6e6e6e" stroke-width="1.1" stroke-linejoin="round"/>
<path d="M555.2,344.0L557.0,348.3M556.7,351.4L555.8,356.7M556.2,358.8L559.6,364.8" fill="none" stroke="#858585" stroke-width="0.8"/>
<path d="M589.6,330.0L591.8,334.7L593.3,336.3L591.7,337.1L593.8,340.9L596.8,342.7L593.1,343.8L594.2,348.1L597.7,349.8L593.5,350.8L595.4,354.6L599.9,356.7L594.4,358.2L596.0,361.5L600.8,362.7L594.8,363.5L583.5,364.1L578.8,362.9L583.8,361.0L585.0,356.9L581.1,355.9L585.1,354.0L586.1,350.1L583.3,349.4L586.3,347.4L586.7,343.6L584.3,342.9L586.9,340.6L587.7,338.1L585.9,336.7L587.8,334.5Z" fill="#fff" stroke="#6e6e6e" stroke-width="1.1" stroke-linejoin="round"/>
<path d="M589.2,345.6L591.2,350.2M589.0,352.4L589.9,358.4M588.6,359.2L591.1,365.0" fill="none" stroke="#858585" stroke-width="0.8"/>
<path d="M597.9,321.0L600.2,326.2L602.0,327.9L599.7,329.3L601.2,333.4L603.8,335.4L601.4,336.7L601.6,339.9L604.6,341.3L601.0,342.2L603.6,347.2L608.2,348.9L603.9,350.2L604.8,353.6L610.4,356.5L604.9,357.3L604.8,360.5L610.4,363.2L604.6,364.9L592.6,364.5L586.8,363.3L591.9,360.6L593.6,356.4L588.7,355.6L592.9,353.5L593.3,350.0L587.4,348.4L592.2,346.3L594.6,342.4L590.2,341.3L593.7,338.9L595.3,335.9L591.7,334.7L594.5,332.9L595.8,328.7L593.5,327.2L595.5,324.9Z" fill="#fff" stroke="#6e6e6e" stroke-width="1.1" stroke-linejoin="round"/>
<path d="M597.1,337.5L595.8,340.7M598.0,344.6L596.8,347.8M599.9,351.8L600.8,355.3M600.5,359.0L602.6,362.7" fill="none" stroke="#858585" stroke-width="0.8"/>
<path d="M462.9,360.0 L462.6,375 L466.4,375 L466.1,360.0" fill="#8c8c8c" stroke="#6a6a6a" stroke-width="0.7"/>
<path d="M486.9,347.5Q487.8,350.5 482.5,352.5Q483.0,355.9 480.1,357.5Q480.0,362.3 476.1,362.8Q473.4,365.9 468.7,363.0Q465.2,365.2 462.4,361.1Q458.5,361.9 456.9,358.7Q451.8,358.7 449.7,356.5Q446.8,354.3 449.3,350.3Q445.1,347.3 447.3,344.4Q447.1,341.3 452.1,339.8Q452.2,336.0 455.6,334.9Q457.6,332.0 462.2,333.5Q465.3,330.0 468.8,330.9Q473.4,328.6 475.8,332.7Q481.0,332.1 482.1,336.0Q485.7,337.6 484.2,341.9Q488.6,344.2 486.9,347.5Z" fill="#fff" stroke="#6e6e6e" stroke-width="1.1" stroke-linejoin="round"/>
<path d="M461.2,343.5Q463.0,347.1 460.1,346.6Q459.2,348.7 458.1,346.0Q455.3,346.9 457.2,343.5Q455.4,339.7 457.9,340.4Q458.9,338.3 460.0,340.8Q463.0,340.1 461.2,343.5Z" fill="#fff" stroke="#6e6e6e" stroke-width="1.1" stroke-linejoin="round"/>
<path d="M474.8,335.5Q476.5,336.9 473.7,336.7Q472.3,338.9 471.2,336.9Q467.2,337.3 469.7,335.5Q468.0,333.9 471.1,334.0Q472.1,331.7 473.7,334.3Q476.7,334.0 474.8,335.5Z" fill="#fff" stroke="#6e6e6e" stroke-width="1.1" stroke-linejoin="round"/>
<path d="M491.0,360.0 L490.7,375 L494.3,375 L494.0,360.0" fill="#8c8c8c" stroke="#6a6a6a" stroke-width="0.7"/>
<path d="M512.1,349.0Q514.4,352.6 511.2,355.1Q511.0,358.7 506.4,359.1Q505.6,363.3 501.4,362.0Q498.7,365.0 495.5,363.2Q491.8,364.6 489.9,360.9Q485.2,361.1 483.2,358.7Q480.3,356.6 483.0,351.9Q478.2,348.7 480.5,345.6Q479.8,341.9 485.0,340.6Q484.5,335.2 488.4,334.6Q490.9,331.9 495.5,335.2Q499.0,332.7 501.9,334.5Q506.7,332.9 507.8,337.4Q510.3,339.3 509.7,343.5Q513.5,345.8 512.1,349.0Z" fill="#fff" stroke="#6e6e6e" stroke-width="1.1" stroke-linejoin="round"/>
<path d="M502.4,339.5Q503.5,340.8 500.7,341.0Q499.2,343.2 497.5,340.8Q493.7,341.0 495.9,339.5Q494.2,338.0 497.4,338.1Q498.9,335.4 500.6,338.2Q503.4,338.3 502.4,339.5Z" fill="#fff" stroke="#6e6e6e" stroke-width="1.1" stroke-linejoin="round"/>
<path d="M509.4,350.0Q511.0,353.0 508.9,352.3Q508.0,354.2 507.1,352.2Q505.4,352.4 506.4,350.0Q504.4,346.8 507.2,347.9Q508.0,344.6 508.8,347.8Q510.5,347.6 509.4,350.0Z" fill="#fff" stroke="#6e6e6e" stroke-width="1.1" stroke-linejoin="round"/>
<path d="M489.5,366.5Q490.6,368.5 486.6,369.4Q486.2,372.4 482.9,371.8Q479.6,374.5 477.7,370.8Q473.2,371.1 474.5,368.2Q471.2,366.4 473.7,364.6Q473.6,362.2 477.6,361.9Q479.2,358.3 482.8,361.5Q487.4,359.9 487.7,363.0Q490.6,364.3 489.5,366.5Z" fill="#fff" stroke="#6e6e6e" stroke-width="1.1" stroke-linejoin="round"/>
<path d="M483.1,366.0Q485.3,367.7 482.0,367.2Q481.2,370.5 480.1,367.1Q477.3,367.3 478.9,366.0Q476.8,364.5 480.1,364.9Q481.2,361.7 482.0,364.7Q484.3,364.7 483.1,366.0Z" fill="#fff" stroke="#6e6e6e" stroke-width="1.1" stroke-linejoin="round"/>
<path d="M522.5,308.2L525.9,313.9L528.2,316.6L525.7,318.4L528.3,321.8L532.6,324.5L527.2,325.6L529.7,328.8L535.2,331.2L529.5,332.6L530.8,336.4L537.2,338.8L531.2,340.6L531.2,345.1L537.9,347.2L529.7,348.5L532.5,352.9L540.3,355.1L531.7,356.4L534.8,359.6L544.5,362.7L533.7,363.9L513.4,363.0L500.6,361.8L510.7,359.5L516.9,355.7L508.7,354.8L515.2,352.8L514.1,347.3L506.5,346.4L513.9,344.5L515.1,340.0L508.7,338.6L515.2,337.0L517.9,331.6L511.9,330.5L516.9,328.6L519.5,324.4L515.0,323.3L518.6,321.4L519.7,317.1L516.1,315.7L519.2,313.6Z" fill="#fff" stroke="#6e6e6e" stroke-width="1.1" stroke-linejoin="round"/>
<path d="M521.7,326.5L523.2,329.0M521.8,334.5L521.7,337.9M525.5,342.5L525.0,347.3M520.8,350.4L523.9,355.5M520.5,358.4L521.9,362.9" fill="none" stroke="#858585" stroke-width="0.8"/>
<path d="M571.6,308.2L574.8,313.5L577.1,315.5L574.9,316.3L576.4,321.7L580.0,324.6L575.3,326.3L578.0,328.7L582.9,331.7L576.6,333.0L579.8,337.4L586.2,339.2L580.1,340.9L580.1,344.1L586.7,346.2L580.6,347.2L582.6,351.9L591.3,355.0L582.0,355.9L585.2,360.1L596.0,361.9L585.8,363.4L560.8,363.6L552.2,362.2L561.1,359.5L562.4,356.8L551.5,355.1L560.7,353.0L562.8,348.2L554.8,346.5L562.5,343.9L564.9,340.1L558.9,338.5L564.8,336.1L565.3,332.5L560.6,331.2L565.7,329.4L566.8,324.7L563.2,323.6L567.2,320.9L569.1,317.3L565.9,316.4L568.6,313.6Z" fill="#fff" stroke="#6e6e6e" stroke-width="1.1" stroke-linejoin="round"/>
<path d="M573.5,326.5L572.4,330.1M571.4,334.5L570.5,338.4M571.7,342.5L570.3,345.3M572.0,350.4L572.0,355.9M567.8,358.4L571.0,361.3" fill="none" stroke="#858585" stroke-width="0.8"/>
<path d="M607.0,307.9L609.2,314.0L611.3,316.5L608.9,317.5L611.4,320.7L615.3,323.0L610.6,324.4L612.9,329.3L618.1,330.9L611.8,332.1L612.9,336.6L618.1,339.5L612.8,340.5L613.8,344.4L619.7,347.1L612.7,348.6L615.3,352.6L622.4,354.6L615.5,355.9L615.2,360.1L622.2,362.2L615.2,363.7L597.0,362.6L589.7,361.4L597.3,360.0L599.7,355.3L592.6,353.7L598.9,352.0L598.7,348.9L592.2,347.3L598.7,344.4L601.7,339.8L596.4,338.8L601.0,336.6L602.0,333.4L596.0,331.8L600.8,328.8L603.7,324.1L599.9,322.7L602.9,320.8L603.7,316.4L600.9,314.8L603.4,312.8Z" fill="#fff" stroke="#6e6e6e" stroke-width="1.1" stroke-linejoin="round"/>
<path d="M605.7,326.3L608.5,329.7M608.1,334.3L610.4,340.0M607.6,342.4L606.6,345.2M607.8,350.4L610.1,355.9M608.1,358.4L611.5,361.9" fill="none" stroke="#858585" stroke-width="0.8"/>
<path d="M540.0,304.6L542.4,309.8L544.7,312.5L541.7,314.0L544.5,317.6L548.5,320.0L543.3,321.6L544.7,323.8L548.9,325.2L544.1,326.7L544.9,331.3L549.4,334.4L544.1,335.2L547.9,338.5L554.8,340.1L546.3,341.5L547.3,344.9L553.7,347.5L547.4,349.2L547.8,352.6L554.6,354.1L547.8,355.4L550.8,359.6L560.1,362.0L549.3,363.3L530.5,362.3L520.6,361.2L529.1,360.0L530.0,356.9L519.3,355.8L528.4,353.5L533.4,349.4L524.5,348.4L531.3,346.3L530.4,341.8L523.5,341.0L530.7,338.2L534.2,335.1L528.6,333.9L533.5,331.3L535.1,326.2L529.9,325.3L534.2,324.1L534.5,319.7L530.7,318.9L534.6,317.0L536.3,313.4L533.6,311.8L536.3,309.2Z" fill="#fff" stroke="#6e6e6e" stroke-width="1.1" stroke-linejoin="round"/>
<path d="M538.7,321.7L537.2,327.6M540.2,329.1L542.5,333.0M536.9,336.5L539.4,342.3M539.1,344.0L538.1,347.6M542.8,351.4L541.4,355.2M536.6,358.8L538.8,364.1" fill="none" stroke="#858585" stroke-width="0.8"/>
<path d="M623.5,304.2L626.7,309.7L629.1,312.5L626.7,313.7L627.3,316.5L630.2,318.9L627.0,320.2L629.1,323.9L633.5,326.0L628.4,327.2L630.0,331.1L635.0,333.6L629.4,335.3L630.6,338.0L636.1,340.8L631.0,342.3L632.1,345.0L638.9,346.7L632.0,348.1L633.2,352.3L640.8,354.1L630.8,355.6L635.2,360.5L644.4,363.2L634.1,364.9L617.3,363.2L607.9,361.5L615.0,359.8L615.8,356.8L606.5,355.2L614.3,353.4L615.6,348.0L606.8,346.8L614.4,345.1L617.9,342.3L612.2,340.8L617.4,338.7L618.6,335.4L612.7,334.1L617.7,331.3L620.6,327.2L615.9,325.7L619.4,323.8L620.5,319.9L617.5,318.6L620.3,316.0L621.3,313.0L617.9,312.0L620.5,309.4Z" fill="#fff" stroke="#6e6e6e" stroke-width="1.1" stroke-linejoin="round"/>
<path d="M623.9,321.4L622.5,325.3M624.8,328.9L627.2,334.1M624.0,336.3L622.7,341.2M625.3,343.8L625.8,349.7M625.5,351.3L626.8,354.0M619.9,358.8L621.0,363.1" fill="none" stroke="#858585" stroke-width="0.8"/>
<path d="M643.7,302.4L647.2,308.3L650.2,310.6L647.1,311.6L647.9,314.6L651.5,316.8L647.6,318.1L649.0,322.4L653.5,325.4L648.6,326.8L651.4,330.3L657.8,332.7L651.7,333.9L652.2,336.8L659.4,339.3L651.2,341.0L652.7,345.3L660.1,347.9L650.7,349.3L652.8,352.8L660.5,354.9L652.9,356.6L656.9,359.9L667.8,362.3L654.9,363.8L632.2,362.7L618.6,361.9L629.8,359.8L629.8,356.8L619.8,355.2L630.5,353.2L634.8,349.2L625.0,348.0L633.3,344.9L637.0,340.3L629.6,338.9L635.9,336.7L636.5,332.5L630.9,331.4L636.6,329.4L638.2,327.4L633.6,325.8L638.1,323.6L637.8,318.5L633.6,317.4L638.0,315.6L640.6,310.4L637.4,309.5L640.2,307.9Z" fill="#fff" stroke="#6e6e6e" stroke-width="1.1" stroke-linejoin="round"/>
<path d="M642.5,320.1L642.2,324.4M644.4,327.8L644.5,332.2M641.9,335.5L641.0,339.6M642.6,343.2L644.6,345.9M640.3,350.9L639.5,355.4M644.1,358.6L647.6,362.1" fill="none" stroke="#858585" stroke-width="0.8"/>
<path d="M495.0,375 L495.4,363.1 L507.0,363.2 L507.3,375 ZM509.9,375 L510.3,363.1 L521.0,363.3 L521.3,375 ZM524.8,375 L525.2,362.4 L536.7,362.5 L537.0,375 ZM539.7,375 L540.1,363.2 L551.3,363.6 L551.6,375 ZM554.6,375 L555.0,363.3 L565.7,362.8 L566.0,375 ZM569.5,375 L569.9,363.0 L580.2,362.6 L580.5,375 ZM584.4,375 L584.8,362.0 L595.0,362.4 L595.3,375 ZM599.3,375 L599.7,362.3 L610.1,362.7 L610.4,375 ZM614.2,375 L614.6,363.3 L624.8,362.9 L625.1,375 ZM629.1,375 L629.5,361.5 L641.0,361.0 L641.3,375 ZM644.0,375 L644.4,361.9 L655.1,361.7 L655.4,375 ZM658.9,375 L659.3,361.6 L670.4,361.6 L670.7,375 Z" fill="#fff" stroke="#6f6f6f" stroke-width="0.9"/>
<path d="M501.0,364.5 L501.0,373 M498.4,366.8 L503.6,366.2 M497.6,369.2 L504.4,368.6 M497.8,372.2 L500.6,367.6 M504.2,372.2 L501.4,367.6M515.4,364.5 L515.4,373 M512.8,366.8 L518.0,366.2 M512.0,369.2 L518.8,368.6 M512.2,372.2 L515.0,367.6 M518.6,372.2 L515.8,367.6M530.8,364.5 L530.8,373 M528.2,366.8 L533.4,366.2 M527.4,369.2 L534.2,368.6 M527.6,372.2 L530.4,367.6 M534.0,372.2 L531.2,367.6M545.5,364.5 L545.5,373 M542.9,366.8 L548.1,366.2 M542.1,369.2 L548.9,368.6 M542.3,372.2 L545.1,367.6 M548.7,372.2 L545.9,367.6M560.2,364.5 L560.2,373 M557.6,366.8 L562.8,366.2 M556.8,369.2 L563.6,368.6 M557.0,372.2 L559.8,367.6 M563.4,372.2 L560.6,367.6M574.8,364.5 L574.8,373 M572.2,366.8 L577.4,366.2 M571.4,369.2 L578.2,368.6 M571.6,372.2 L574.4,367.6 M578.0,372.2 L575.2,367.6M589.7,364.5 L589.7,373 M587.1,366.8 L592.3,366.2 M586.3,369.2 L593.1,368.6 M586.5,372.2 L589.3,367.6 M592.9,372.2 L590.1,367.6M604.7,364.5 L604.7,373 M602.1,366.8 L607.3,366.2 M601.3,369.2 L608.1,368.6 M601.5,372.2 L604.3,367.6 M607.9,372.2 L605.1,367.6M619.5,364.5 L619.5,373 M616.9,366.8 L622.1,366.2 M616.1,369.2 L622.9,368.6 M616.3,372.2 L619.1,367.6 M622.7,372.2 L619.9,367.6M635.0,364.5 L635.0,373 M632.4,366.8 L637.6,366.2 M631.6,369.2 L638.4,368.6 M631.8,372.2 L634.6,367.6 M638.2,372.2 L635.4,367.6M649.6,364.5 L649.6,373 M647.0,366.8 L652.2,366.2 M646.2,369.2 L653.0,368.6 M646.4,372.2 L649.2,367.6 M652.8,372.2 L650.0,367.6M664.6,364.5 L664.6,373 M662.0,366.8 L667.2,366.2 M661.2,369.2 L668.0,368.6 M661.4,372.2 L664.2,367.6 M667.8,372.2 L665.0,367.6" fill="none" stroke="#777" stroke-width="1.0"/>
<path d="M527.3,358.0 L527.0,375 L529.8,375 L529.5,358.0" fill="#8c8c8c" stroke="#6a6a6a" stroke-width="0.7"/>
<path d="M544.3,358.0 L544.0,375 L546.8,375 L546.5,358.0" fill="#8c8c8c" stroke="#6a6a6a" stroke-width="0.7"/>
<path d="M576.3,358.0 L576.0,375 L578.8,375 L578.5,358.0" fill="#8c8c8c" stroke="#6a6a6a" stroke-width="0.7"/>
<path d="M611.3,358.0 L611.0,375 L613.8,375 L613.5,358.0" fill="#8c8c8c" stroke="#6a6a6a" stroke-width="0.7"/>
<path d="M628.3,358.0 L628.0,375 L630.8,375 L630.5,358.0" fill="#8c8c8c" stroke="#6a6a6a" stroke-width="0.7"/>
<path d="M648.3,358.0 L648.0,375 L650.8,375 L650.5,358.0" fill="#8c8c8c" stroke="#6a6a6a" stroke-width="0.7"/>
<path d="M388,375.4 L667,375.4" stroke="#8a8a8a" stroke-width="1"/>
<path d="M640,375.8 L667,375.8" stroke="#b5b5b5" stroke-width="1.2"/>
<circle cx="147.2" cy="314.8" r="20.5" fill="url(#glow)"/>
<circle cx="147.2" cy="314.8" r="12" fill="url(#sung)" stroke="#ffc000" stroke-width="0.9"/>
<line x1="159.6" y1="316.7" x2="409.7" y2="369.4" stroke="#ed7d31" stroke-width="1.7" stroke-dasharray="4.7 2.5"/>
<line x1="157.0" y1="323.6" x2="222.1" y2="369.6" stroke="#ed7d31" stroke-width="1.7" stroke-dasharray="4.7 2.5"/>
<line x1="248.0" y1="299.5" x2="222.1" y2="369.6" stroke="#ed7d31" stroke-width="1.7" stroke-dasharray="4.7 2.5"/>
<line x1="409.7" y1="369.4" x2="433.8" y2="342.3" stroke="#ed7d31" stroke-width="1.7" stroke-dasharray="4.7 2.5"/>
<path d="M258.90,309.40 C259.50,312.40 263.10,315.00 263.10,317.20 A4.20,4.20 0 1 1 254.70,317.20 C254.70,315.00 258.30,312.40 258.90,309.40 Z" fill="#b4c7e7"/>
<path d="M272.80,317.00 C273.40,320.00 277.00,322.60 277.00,324.80 A4.20,4.20 0 1 1 268.60,324.80 C268.60,322.60 272.20,320.00 272.80,317.00 Z" fill="#b4c7e7"/>
<path d="M285.90,309.60 C286.50,312.60 290.10,315.20 290.10,317.40 A4.20,4.20 0 1 1 281.70,317.40 C281.70,315.20 285.30,312.60 285.90,309.60 Z" fill="#b4c7e7"/>
<path d="M258.90,327.60 C259.50,330.60 263.10,333.20 263.10,335.40 A4.20,4.20 0 1 1 254.70,335.40 C254.70,333.20 258.30,330.60 258.90,327.60 Z" fill="#b4c7e7"/>
<path d="M285.90,329.80 C286.50,332.80 290.10,335.40 290.10,337.60 A4.20,4.20 0 1 1 281.70,337.60 C281.70,335.40 285.30,332.80 285.90,329.80 Z" fill="#b4c7e7"/>
<path d="M273.20,340.00 C273.80,343.00 277.40,345.60 277.40,347.80 A4.20,4.20 0 1 1 269.00,347.80 C269.00,345.60 272.60,343.00 273.20,340.00 Z" fill="#b4c7e7"/>
<path d="M354.4,321.8 C350.8,326 352.6,330 354.6,334 C356.8,338 355.8,342.5 353.8,346.6" fill="none" stroke="#bdd7ee" stroke-width="3.5" stroke-linecap="round"/>
<path d="M367.6,321.8 C364.0,326 365.8,330 367.8,334 C370.0,338 369.0,342.5 367.0,346.6" fill="none" stroke="#bdd7ee" stroke-width="3.5" stroke-linecap="round"/>
<path d="M381.4,321.8 C377.8,326 379.6,330 381.6,334 C383.8,338 382.8,342.5 380.8,346.6" fill="none" stroke="#bdd7ee" stroke-width="3.5" stroke-linecap="round"/>
<path d="M391.4,333.0 H448" stroke="#7fb1e3" stroke-width="2.1" stroke-dasharray="2.1 2.04" fill="none"/>
<path d="M421.5,323.3 H478" stroke="#7fb1e3" stroke-width="2.1" stroke-dasharray="2.1 2.04" fill="none"/>
<path d="M445.4,316.6 H493.5 C498,316.2 501.5,314.5 502.6,310.8" stroke="#7fb1e3" stroke-width="2.1" stroke-dasharray="2.1 2.04" fill="none"/>
<text x="248.7" y="308.0" font-size="14.3" fill="#ff0000" textLength="76.2" lengthAdjust="spacing" class="b i" >Precipitation</text>
<text x="347.2" y="308.0" font-size="14.3" fill="#ff0000" textLength="74.0" lengthAdjust="spacing" class="b i" >Temperature</text>
<text x="453.4" y="308.0" font-size="14.3" fill="#ff0000" textLength="66.6" lengthAdjust="spacing" class="b i" >Wind speed</text>
<text x="139.9" y="363.0" font-size="19.8" fill="#ff0000" textLength="38.4" lengthAdjust="spacing" class="b i" >NPP</text>
<!-- sec_abund -->
<text x="297.0" y="402.6" font-size="17.6" fill="#3b3b3b" textLength="200.0" lengthAdjust="spacing" class="b" >&#8216;Edge Effect&#8217; of the ecotone</text>
<path d="M73,505.2 H683" stroke="#bdbdbd" stroke-width="1" fill="none"/>
<path d="M681.5,502.9 L688,505.3 L681.5,507.7 Z" fill="#7f7f7f"/>
<path d="M73.0,505.2 V417.7" stroke="#c4c4c4" stroke-width="1" fill="none"/>
<path d="M71.0,419.9 L73.0,413.7 L75.0,419.9 Z" fill="#7f7f7f"/>
<path d="M89.3,505.2 V417.7" stroke="#c4c4c4" stroke-width="1" fill="none"/>
<path d="M87.3,419.9 L89.3,413.7 L91.3,419.9 Z" fill="#7f7f7f"/>
<path d="M104.5,505.2 V416.0" stroke="#c4c4c4" stroke-width="1" fill="none"/>
<path d="M102.5,418.2 L104.5,412.0 L106.5,418.2 Z" fill="#7f7f7f"/>
<text transform="translate(69.2,510.2) rotate(-90)" font-size="7.4" fill="#6a9a3a" class="b" textLength="103" lengthAdjust="spacing">Herbal plant relative abundance</text>
<text transform="translate(83.2,515.8) rotate(-90)" font-size="8.6" fill="#0f4a12" class="b" textLength="114" lengthAdjust="spacing">Woody plat relative abundance</text>
<text transform="translate(101,496.8) rotate(-90)" font-size="11" fill="#ff0000" class="b" textLength="79" lengthAdjust="spacing">Total abundance</text>
<path d="M114.20,446.50 C123.50,446.38 150.82,446.13 170.00,445.80 C189.18,445.47 210.97,444.95 229.30,444.50 C247.63,444.05 266.55,443.75 280.00,443.10 C293.45,442.45 300.65,441.60 310.00,440.60 C319.35,439.60 329.10,438.10 336.10,437.10 C343.10,436.10 347.00,435.50 352.00,434.60 C357.00,433.70 362.10,432.87 366.10,431.70 C370.10,430.53 372.68,429.18 376.00,427.60 C379.32,426.02 383.17,423.50 386.00,422.20 C388.83,420.90 390.73,420.32 393.00,419.80 C395.27,419.28 397.43,419.10 399.60,419.10 C401.77,419.10 403.77,419.28 406.00,419.80 C408.23,420.32 410.33,420.97 413.00,422.20 C415.67,423.43 418.80,425.62 422.00,427.20 C425.20,428.78 428.58,430.48 432.20,431.70 C435.82,432.92 439.07,433.42 443.70,434.50 C448.33,435.58 453.90,437.17 460.00,438.20 C466.10,439.23 472.80,440.02 480.30,440.70 C487.80,441.38 496.72,441.90 505.00,442.30 C513.28,442.70 520.58,442.92 530.00,443.10 C539.42,443.28 546.50,443.28 561.50,443.40 C576.50,443.52 599.38,443.68 620.00,443.80 C640.62,443.92 674.33,444.05 685.20,444.10" fill="none" stroke="#ff0000" stroke-width="4.4" stroke-linecap="round" stroke-linejoin="round"/>
<path d="M110.10,457.70 C120.08,457.75 150.13,457.77 170.00,458.00 C189.87,458.23 213.97,458.67 229.30,459.10 C244.63,459.53 253.55,460.10 262.00,460.60 C270.45,461.10 273.67,461.52 280.00,462.10 C286.33,462.68 293.67,463.18 300.00,464.10 C306.33,465.02 311.98,466.00 318.00,467.60 C324.02,469.20 331.10,471.72 336.10,473.70 C341.10,475.68 344.00,477.65 348.00,479.50 C352.00,481.35 356.10,483.32 360.10,484.80 C364.10,486.28 367.98,487.43 372.00,488.40 C376.02,489.37 379.53,489.92 384.20,490.60 C388.87,491.28 394.00,492.00 400.00,492.50 C406.00,493.00 413.53,493.33 420.20,493.60 C426.87,493.87 433.32,494.00 440.00,494.10 C446.68,494.20 450.30,494.20 460.30,494.20 C470.30,494.20 488.38,494.20 500.00,494.10 C511.62,494.00 519.75,493.75 530.00,493.60 C540.25,493.45 546.50,493.40 561.50,493.20 C576.50,493.00 599.30,492.70 620.00,492.40 C640.70,492.10 674.75,491.57 685.70,491.40" fill="none" stroke="#92d050" stroke-width="1.5" stroke-linecap="round"/>
<path d="M107.50,498.60 C117.92,498.73 149.70,499.13 170.00,499.40 C190.30,499.67 210.97,499.97 229.30,500.20 C247.63,500.43 262.20,500.70 280.00,500.80 C297.80,500.90 322.77,500.93 336.10,500.80 C349.43,500.67 352.65,500.37 360.00,500.00 C367.35,499.63 374.37,499.05 380.20,498.60 C386.03,498.15 390.33,497.80 395.00,497.30 C399.67,496.80 404.03,496.27 408.20,495.60 C412.37,494.93 416.00,494.27 420.00,493.30 C424.00,492.33 428.25,491.22 432.20,489.80 C436.15,488.38 440.40,486.60 443.70,484.80 C447.00,483.00 449.78,480.60 452.00,479.00 C454.22,477.40 455.25,476.40 457.00,475.20 C458.75,474.00 460.57,472.78 462.50,471.80 C464.43,470.82 466.68,469.93 468.60,469.30 C470.52,468.67 472.05,468.35 474.00,468.00 C475.95,467.65 477.30,467.47 480.30,467.20 C483.30,466.93 487.88,466.62 492.00,466.40 C496.12,466.18 498.67,466.08 505.00,465.90 C511.33,465.72 520.58,465.53 530.00,465.30 C539.42,465.07 546.50,464.75 561.50,464.50 C576.50,464.25 599.30,464.00 620.00,463.80 C640.70,463.60 674.75,463.38 685.70,463.30" fill="none" stroke="#0f4a12" stroke-width="1.5" stroke-linecap="round"/>
<text x="321.7" y="521.7" font-size="12.4" fill="#808080" textLength="134.7" lengthAdjust="spacing" class="b" >From grassland to forest</text>
<!-- sec_row4 -->
<path d="M194.5,570.4 L428.3,559.7 L630,570.0 L428.3,581.4 Z" fill="#e4e4e4"/>
<path d="M196,623.8 L428.3,613.0 L630,623.9 L428.3,635.4 Z" fill="#e4e4e4"/>
<text x="195.3" y="561.2" font-size="25.3" fill="#0f4a12" text-anchor="end" class="b" >Landscape</text>
<text x="195.3" y="592.0" font-size="25.3" fill="#0f4a12" text-anchor="end" class="b" >diversity</text>
<text x="195.7" y="630.4" font-size="25.3" fill="#ff0000" text-anchor="end" class="b" >Ecosystem</text>
<text x="195.3" y="660.9" font-size="25.3" fill="#ff0000" text-anchor="end" class="b" >stability</text>
<text x="214.0" y="576.5" font-size="19.6" fill="#000" textLength="35.0" lengthAdjust="spacing" >Low</text>
<text x="410.3" y="575.9" font-size="19.6" fill="#000" textLength="37.9" lengthAdjust="spacing" >High</text>
<text x="629.2" y="577.1" font-size="19.6" fill="#000" textLength="34.7" lengthAdjust="spacing" >Low</text>
<text x="214.0" y="630.3" font-size="19.6" fill="#000" textLength="35.0" lengthAdjust="spacing" >Low</text>
<text x="410.3" y="629.7" font-size="19.6" fill="#000" textLength="37.9" lengthAdjust="spacing" >High</text>
<text x="629.2" y="630.6" font-size="19.6" fill="#000" textLength="34.7" lengthAdjust="spacing" >Low</text>
<path d="M695.1,549.6 C702.5,550.2 706.3,553.5 706.3,560 L706.3,588 C706.3,594.5 710,598 716.9,598.9 C710,599.8 706.3,603.3 706.3,609.8 L706.3,637.8 C706.3,644.3 702.5,647.6 695.1,648.2" fill="none" stroke="#7f7f7f" stroke-width="1.3"/>
<circle cx="728.3" cy="598.8" r="3.6" fill="#7f7f7f"/>
<circle cx="742.6" cy="598.8" r="3.6" fill="#7f7f7f"/>
<circle cx="757.1" cy="598.8" r="3.6" fill="#7f7f7f"/>
<circle cx="771.5" cy="598.8" r="3.6" fill="#7f7f7f"/>
<circle cx="785.9" cy="598.8" r="3.6" fill="#7f7f7f"/>
<circle cx="800.3" cy="598.8" r="3.6" fill="#7f7f7f"/>
<circle cx="814.7" cy="598.8" r="3.6" fill="#7f7f7f"/>
<circle cx="829.1" cy="598.8" r="3.6" fill="#7f7f7f"/>
<path d="M838.4,588.1 L859.4,598.7 L838.4,609.5 Z" fill="#7f7f7f"/>
<!-- sec_right -->
<g shape-rendering="crispEdges"><rect x="1050.50" y="86.80" width="132.70" height="132.20" fill="#8fd908"/>
<path fill="#0a9c06" d="M1050.50,86.80h14.12v2.05h-14.12zM1134.95,86.80h2.06v2.05h-2.06zM1138.97,86.80h10.10v2.05h-10.10zM1155.05,86.80h2.06v2.05h-2.06zM1159.07,86.80h12.11v2.05h-12.11zM1175.16,86.80h8.09v2.05h-8.09zM1050.50,88.80h14.12v2.05h-14.12zM1134.95,88.80h14.12v2.05h-14.12zM1153.04,88.80h20.16v2.05h-20.16zM1175.16,88.80h8.09v2.05h-8.09zM1050.50,90.81h14.12v2.05h-14.12zM1134.95,90.81h48.30v2.05h-48.30zM1050.50,92.81h16.13v2.05h-16.13zM1136.96,92.81h24.18v2.05h-24.18zM1163.09,92.81h14.12v2.05h-14.12zM1179.18,92.81h4.07v2.05h-4.07zM1050.50,94.81h14.12v2.05h-14.12zM1136.96,94.81h28.20v2.05h-28.20zM1171.14,94.81h12.11v2.05h-12.11zM1050.50,96.82h14.12v2.05h-14.12zM1136.96,96.82h28.20v2.05h-28.20zM1171.14,96.82h12.11v2.05h-12.11zM1050.50,98.82h16.13v2.05h-16.13zM1140.98,98.82h24.18v2.05h-24.18zM1175.16,98.82h4.07v2.05h-4.07zM1050.50,100.82h16.13v2.05h-16.13zM1142.99,100.82h6.08v2.05h-6.08zM1153.04,100.82h4.07v2.05h-4.07zM1179.18,100.82h4.07v2.05h-4.07zM1050.50,102.82h18.15v2.05h-18.15zM1142.99,102.82h2.06v2.05h-2.06zM1173.15,102.82h4.07v2.05h-4.07zM1179.18,102.82h4.07v2.05h-4.07zM1050.50,104.83h18.15v2.05h-18.15zM1175.16,104.83h8.09v2.05h-8.09zM1050.50,106.83h16.13v2.05h-16.13zM1169.13,106.83h6.08v2.05h-6.08zM1177.17,106.83h6.08v2.05h-6.08zM1050.50,108.83h14.12v2.05h-14.12zM1165.10,108.83h18.15v2.05h-18.15zM1050.50,110.84h14.12v2.05h-14.12zM1163.09,110.84h14.12v2.05h-14.12zM1052.51,112.84h12.11v2.05h-12.11zM1159.07,112.84h14.12v2.05h-14.12zM1060.55,114.84h2.06v2.05h-2.06zM1157.06,114.84h12.11v2.05h-12.11zM1157.06,116.85h10.10v2.05h-10.10zM1050.50,118.85h2.06v2.05h-2.06zM1159.07,118.85h6.08v2.05h-6.08zM1050.50,120.85h4.07v2.05h-4.07zM1163.09,120.85h2.06v2.05h-2.06zM1050.50,122.85h4.07v2.05h-4.07zM1050.50,124.86h4.07v2.05h-4.07zM1052.51,126.86h2.06v2.05h-2.06zM1056.53,126.86h2.06v2.05h-2.06zM1058.54,134.87h2.06v2.05h-2.06zM1056.53,136.88h2.06v2.05h-2.06zM1050.50,138.88h6.08v2.05h-6.08zM1118.86,138.88h2.06v2.05h-2.06zM1124.89,138.88h10.10v2.05h-10.10zM1050.50,140.88h8.09v2.05h-8.09zM1116.85,140.88h18.15v2.05h-18.15zM1050.50,142.88h8.09v2.05h-8.09zM1116.85,142.88h18.15v2.05h-18.15zM1050.50,144.89h10.10v2.05h-10.10zM1116.85,144.89h14.12v2.05h-14.12zM1132.93,144.89h2.06v2.05h-2.06zM1136.96,144.89h4.07v2.05h-4.07zM1050.50,146.89h12.11v2.05h-12.11zM1116.85,146.89h22.17v2.05h-22.17zM1050.50,148.89h14.12v2.05h-14.12zM1116.85,148.89h22.17v2.05h-22.17zM1050.50,150.90h8.09v2.05h-8.09zM1116.85,150.90h20.16v2.05h-20.16zM1050.50,152.90h10.10v2.05h-10.10zM1118.86,152.90h18.15v2.05h-18.15zM1050.50,154.90h6.08v2.05h-6.08zM1116.85,154.90h20.16v2.05h-20.16zM1050.50,156.91h8.09v2.05h-8.09zM1118.86,156.91h18.15v2.05h-18.15zM1050.50,158.91h8.09v2.05h-8.09zM1116.85,158.91h4.07v2.05h-4.07zM1122.88,158.91h12.11v2.05h-12.11zM1050.50,160.91h6.08v2.05h-6.08zM1120.87,160.91h4.07v2.05h-4.07zM1126.90,160.91h2.06v2.05h-2.06zM1132.93,160.91h4.07v2.05h-4.07zM1054.52,162.92h2.06v2.05h-2.06zM1126.90,162.92h2.06v2.05h-2.06zM1132.93,162.92h2.06v2.05h-2.06zM1116.85,164.92h24.18v2.05h-24.18zM1108.81,166.92h6.08v2.05h-6.08zM1116.85,166.92h2.06v2.05h-2.06zM1120.87,166.92h6.08v2.05h-6.08zM1128.91,166.92h16.13v2.05h-16.13zM1106.80,168.92h38.25v2.05h-38.25zM1098.75,170.93h2.06v2.05h-2.06zM1102.78,170.93h36.24v2.05h-36.24zM1090.71,172.93h48.30v2.05h-48.30zM1056.53,174.93h8.09v2.05h-8.09zM1066.58,174.93h22.17v2.05h-22.17zM1090.71,174.93h48.30v2.05h-48.30zM1050.50,176.94h10.10v2.05h-10.10zM1070.61,176.94h66.40v2.05h-66.40zM1050.50,178.94h2.06v2.05h-2.06zM1058.54,178.94h26.19v2.05h-26.19zM1088.70,178.94h48.30v2.05h-48.30zM1050.50,180.94h32.22v2.05h-32.22zM1088.70,180.94h46.29v2.05h-46.29zM1050.50,182.95h32.22v2.05h-32.22zM1086.69,182.95h46.29v2.05h-46.29zM1050.50,184.95h28.20v2.05h-28.20zM1082.67,184.95h32.22v2.05h-32.22zM1116.85,184.95h4.07v2.05h-4.07zM1126.90,184.95h2.06v2.05h-2.06zM1050.50,186.95h64.39v2.05h-64.39zM1050.50,188.95h66.40v2.05h-66.40zM1050.50,190.96h70.42v2.05h-70.42zM1050.50,192.96h70.42v2.05h-70.42zM1050.50,194.96h66.40v2.05h-66.40zM1175.16,194.96h2.06v2.05h-2.06zM1050.50,196.97h48.30v2.05h-48.30zM1102.78,196.97h2.06v2.05h-2.06zM1106.80,196.97h8.09v2.05h-8.09zM1167.12,196.97h10.10v2.05h-10.10zM1179.18,196.97h4.07v2.05h-4.07zM1050.50,198.97h48.30v2.05h-48.30zM1110.82,198.97h2.06v2.05h-2.06zM1161.08,198.97h22.17v2.05h-22.17zM1050.50,200.97h48.30v2.05h-48.30zM1112.83,200.97h6.08v2.05h-6.08zM1138.97,200.97h8.09v2.05h-8.09zM1151.03,200.97h2.06v2.05h-2.06zM1161.08,200.97h22.17v2.05h-22.17zM1050.50,202.98h48.30v2.05h-48.30zM1110.82,202.98h8.09v2.05h-8.09zM1134.95,202.98h4.07v2.05h-4.07zM1140.98,202.98h8.09v2.05h-8.09zM1151.03,202.98h2.06v2.05h-2.06zM1157.06,202.98h16.13v2.05h-16.13zM1050.50,204.98h46.29v2.05h-46.29zM1106.80,204.98h10.10v2.05h-10.10zM1130.92,204.98h32.22v2.05h-32.22zM1167.12,204.98h2.06v2.05h-2.06zM1179.18,204.98h4.07v2.05h-4.07zM1050.50,206.98h46.29v2.05h-46.29zM1100.77,206.98h10.10v2.05h-10.10zM1128.91,206.98h36.24v2.05h-36.24zM1171.14,206.98h2.06v2.05h-2.06zM1175.16,206.98h4.07v2.05h-4.07zM1181.19,206.98h2.06v2.05h-2.06zM1050.50,208.98h48.30v2.05h-48.30zM1100.77,208.98h10.10v2.05h-10.10zM1128.91,208.98h34.23v2.05h-34.23zM1167.12,208.98h16.13v2.05h-16.13zM1050.50,210.99h58.36v2.05h-58.36zM1130.92,210.99h52.33v2.05h-52.33zM1050.50,212.99h52.33v2.05h-52.33zM1130.92,212.99h52.33v2.05h-52.33zM1050.50,214.99h8.09v2.05h-8.09zM1060.55,214.99h42.27v2.05h-42.27zM1134.95,214.99h24.18v2.05h-24.18zM1171.14,214.99h12.11v2.05h-12.11zM1050.50,217.00h8.09v2.05h-8.09zM1062.56,217.00h2.06v2.05h-2.06zM1074.63,217.00h2.06v2.05h-2.06zM1080.66,217.00h10.10v2.05h-10.10zM1132.93,217.00h22.17v2.05h-22.17zM1157.06,217.00h4.07v2.05h-4.07zM1165.10,217.00h18.15v2.05h-18.15z"/>
<path fill="#c8be66" d="M1064.57,86.80h6.08v2.05h-6.08zM1076.64,86.80h2.06v2.05h-2.06zM1064.57,88.80h10.10v2.05h-10.10zM1078.65,88.80h2.06v2.05h-2.06zM1122.88,88.80h2.06v2.05h-2.06zM1066.58,90.81h4.07v2.05h-4.07zM1072.62,90.81h12.11v2.05h-12.11zM1122.88,90.81h6.08v2.05h-6.08zM1066.58,92.81h18.15v2.05h-18.15zM1124.89,92.81h2.06v2.05h-2.06zM1177.17,92.81h2.06v2.05h-2.06zM1064.57,94.81h2.06v2.05h-2.06zM1068.60,94.81h18.15v2.05h-18.15zM1120.87,94.81h8.09v2.05h-8.09zM1134.95,94.81h2.06v2.05h-2.06zM1064.57,96.82h16.13v2.05h-16.13zM1082.67,96.82h6.08v2.05h-6.08zM1120.87,96.82h6.08v2.05h-6.08zM1132.93,96.82h2.06v2.05h-2.06zM1066.58,98.82h10.10v2.05h-10.10zM1088.70,98.82h2.06v2.05h-2.06zM1120.87,98.82h8.09v2.05h-8.09zM1068.60,100.82h8.09v2.05h-8.09zM1118.86,100.82h8.09v2.05h-8.09zM1130.92,100.82h4.07v2.05h-4.07zM1165.10,100.82h2.06v2.05h-2.06zM1068.60,102.82h6.08v2.05h-6.08zM1116.85,102.82h2.06v2.05h-2.06zM1122.88,102.82h6.08v2.05h-6.08zM1130.92,102.82h2.06v2.05h-2.06zM1070.61,104.83h10.10v2.05h-10.10zM1082.67,104.83h4.07v2.05h-4.07zM1114.84,104.83h20.16v2.05h-20.16zM1140.98,104.83h2.06v2.05h-2.06zM1068.60,106.83h8.09v2.05h-8.09zM1084.68,106.83h10.10v2.05h-10.10zM1116.85,106.83h2.06v2.05h-2.06zM1120.87,106.83h8.09v2.05h-8.09zM1130.92,106.83h2.06v2.05h-2.06zM1068.60,108.83h8.09v2.05h-8.09zM1080.66,108.83h4.07v2.05h-4.07zM1088.70,108.83h2.06v2.05h-2.06zM1116.85,108.83h2.06v2.05h-2.06zM1120.87,108.83h8.09v2.05h-8.09zM1130.92,108.83h4.07v2.05h-4.07zM1068.60,110.84h18.15v2.05h-18.15zM1116.85,110.84h12.11v2.05h-12.11zM1132.93,110.84h2.06v2.05h-2.06zM1074.63,112.84h12.11v2.05h-12.11zM1118.86,112.84h4.07v2.05h-4.07zM1126.90,112.84h2.06v2.05h-2.06zM1132.93,112.84h2.06v2.05h-2.06zM1155.05,112.84h2.06v2.05h-2.06zM1175.16,112.84h2.06v2.05h-2.06zM1181.19,112.84h2.06v2.05h-2.06zM1058.54,114.84h2.06v2.05h-2.06zM1062.56,114.84h8.09v2.05h-8.09zM1072.62,114.84h8.09v2.05h-8.09zM1120.87,114.84h4.07v2.05h-4.07zM1128.91,114.84h2.06v2.05h-2.06zM1132.93,114.84h2.06v2.05h-2.06zM1052.51,116.85h6.08v2.05h-6.08zM1064.57,116.85h6.08v2.05h-6.08zM1072.62,116.85h8.09v2.05h-8.09zM1094.73,116.85h2.06v2.05h-2.06zM1120.87,116.85h14.12v2.05h-14.12zM1054.52,118.85h6.08v2.05h-6.08zM1068.60,118.85h8.09v2.05h-8.09zM1082.67,118.85h2.06v2.05h-2.06zM1088.70,118.85h2.06v2.05h-2.06zM1120.87,118.85h4.07v2.05h-4.07zM1128.91,118.85h2.06v2.05h-2.06zM1145.00,118.85h2.06v2.05h-2.06zM1054.52,120.85h4.07v2.05h-4.07zM1064.57,120.85h10.10v2.05h-10.10zM1090.71,120.85h8.09v2.05h-8.09zM1122.88,120.85h2.06v2.05h-2.06zM1169.13,120.85h10.10v2.05h-10.10zM1054.52,122.85h6.08v2.05h-6.08zM1064.57,122.85h2.06v2.05h-2.06zM1090.71,122.85h4.07v2.05h-4.07zM1108.81,122.85h4.07v2.05h-4.07zM1122.88,122.85h6.08v2.05h-6.08zM1165.10,122.85h2.06v2.05h-2.06zM1169.13,122.85h2.06v2.05h-2.06zM1173.15,122.85h4.07v2.05h-4.07zM1179.18,122.85h4.07v2.05h-4.07zM1054.52,124.86h4.07v2.05h-4.07zM1066.58,124.86h2.06v2.05h-2.06zM1070.61,124.86h2.06v2.05h-2.06zM1092.72,124.86h2.06v2.05h-2.06zM1098.75,124.86h2.06v2.05h-2.06zM1102.78,124.86h2.06v2.05h-2.06zM1108.81,124.86h6.08v2.05h-6.08zM1116.85,124.86h2.06v2.05h-2.06zM1122.88,124.86h10.10v2.05h-10.10zM1163.09,124.86h18.15v2.05h-18.15zM1054.52,126.86h2.06v2.05h-2.06zM1070.61,126.86h2.06v2.05h-2.06zM1086.69,126.86h2.06v2.05h-2.06zM1092.72,126.86h14.12v2.05h-14.12zM1110.82,126.86h2.06v2.05h-2.06zM1114.84,126.86h2.06v2.05h-2.06zM1118.86,126.86h8.09v2.05h-8.09zM1128.91,126.86h4.07v2.05h-4.07zM1165.10,126.86h10.10v2.05h-10.10zM1177.17,126.86h6.08v2.05h-6.08zM1054.52,128.86h2.06v2.05h-2.06zM1094.73,128.86h12.11v2.05h-12.11zM1110.82,128.86h12.11v2.05h-12.11zM1126.90,128.86h8.09v2.05h-8.09zM1165.10,128.86h12.11v2.05h-12.11zM1179.18,128.86h4.07v2.05h-4.07zM1054.52,130.87h2.06v2.05h-2.06zM1062.56,130.87h2.06v2.05h-2.06zM1092.72,130.87h6.08v2.05h-6.08zM1100.77,130.87h8.09v2.05h-8.09zM1110.82,130.87h12.11v2.05h-12.11zM1126.90,130.87h4.07v2.05h-4.07zM1165.10,130.87h16.13v2.05h-16.13zM1092.72,132.87h10.10v2.05h-10.10zM1104.79,132.87h18.15v2.05h-18.15zM1128.91,132.87h4.07v2.05h-4.07zM1165.10,132.87h16.13v2.05h-16.13zM1080.66,134.87h2.06v2.05h-2.06zM1094.73,134.87h2.06v2.05h-2.06zM1100.77,134.87h2.06v2.05h-2.06zM1106.80,134.87h2.06v2.05h-2.06zM1112.83,134.87h12.11v2.05h-12.11zM1165.10,134.87h18.15v2.05h-18.15zM1088.70,136.88h2.06v2.05h-2.06zM1094.73,136.88h6.08v2.05h-6.08zM1104.79,136.88h2.06v2.05h-2.06zM1108.81,136.88h2.06v2.05h-2.06zM1112.83,136.88h12.11v2.05h-12.11zM1138.97,136.88h2.06v2.05h-2.06zM1142.99,136.88h4.07v2.05h-4.07zM1167.12,136.88h16.13v2.05h-16.13zM1104.79,138.88h2.06v2.05h-2.06zM1108.81,138.88h2.06v2.05h-2.06zM1120.87,138.88h4.07v2.05h-4.07zM1167.12,138.88h16.13v2.05h-16.13zM1090.71,140.88h2.06v2.05h-2.06zM1096.74,140.88h4.07v2.05h-4.07zM1106.80,140.88h4.07v2.05h-4.07zM1142.99,140.88h2.06v2.05h-2.06zM1147.01,140.88h2.06v2.05h-2.06zM1167.12,140.88h8.09v2.05h-8.09zM1177.17,140.88h4.07v2.05h-4.07zM1167.12,142.88h10.10v2.05h-10.10zM1179.18,142.88h4.07v2.05h-4.07zM1074.63,144.89h4.07v2.05h-4.07zM1092.72,144.89h4.07v2.05h-4.07zM1098.75,144.89h2.06v2.05h-2.06zM1165.10,144.89h14.12v2.05h-14.12zM1181.19,144.89h2.06v2.05h-2.06zM1062.56,146.89h2.06v2.05h-2.06zM1090.71,146.89h18.15v2.05h-18.15zM1110.82,146.89h6.08v2.05h-6.08zM1169.13,146.89h2.06v2.05h-2.06zM1173.15,146.89h10.10v2.05h-10.10zM1066.58,148.89h4.07v2.05h-4.07zM1088.70,148.89h2.06v2.05h-2.06zM1094.73,148.89h22.17v2.05h-22.17zM1169.13,148.89h2.06v2.05h-2.06zM1173.15,148.89h4.07v2.05h-4.07zM1068.60,150.90h2.06v2.05h-2.06zM1086.69,150.90h4.07v2.05h-4.07zM1096.74,150.90h20.16v2.05h-20.16zM1136.96,150.90h2.06v2.05h-2.06zM1149.02,150.90h2.06v2.05h-2.06zM1171.14,150.90h4.07v2.05h-4.07zM1177.17,150.90h2.06v2.05h-2.06zM1070.61,152.90h4.07v2.05h-4.07zM1084.68,152.90h6.08v2.05h-6.08zM1092.72,152.90h10.10v2.05h-10.10zM1104.79,152.90h4.07v2.05h-4.07zM1110.82,152.90h8.09v2.05h-8.09zM1136.96,152.90h2.06v2.05h-2.06zM1145.00,152.90h2.06v2.05h-2.06zM1169.13,152.90h4.07v2.05h-4.07zM1177.17,152.90h6.08v2.05h-6.08zM1060.55,154.90h2.06v2.05h-2.06zM1074.63,154.90h2.06v2.05h-2.06zM1094.73,154.90h14.12v2.05h-14.12zM1114.84,154.90h2.06v2.05h-2.06zM1140.98,154.90h2.06v2.05h-2.06zM1145.00,154.90h6.08v2.05h-6.08zM1169.13,154.90h4.07v2.05h-4.07zM1175.16,154.90h8.09v2.05h-8.09zM1084.68,156.91h2.06v2.05h-2.06zM1094.73,156.91h14.12v2.05h-14.12zM1138.97,156.91h10.10v2.05h-10.10zM1171.14,156.91h12.11v2.05h-12.11zM1076.64,158.91h4.07v2.05h-4.07zM1082.67,158.91h14.12v2.05h-14.12zM1098.75,158.91h8.09v2.05h-8.09zM1142.99,158.91h6.08v2.05h-6.08zM1173.15,158.91h10.10v2.05h-10.10zM1066.58,160.91h6.08v2.05h-6.08zM1074.63,160.91h4.07v2.05h-4.07zM1080.66,160.91h4.07v2.05h-4.07zM1088.70,160.91h14.12v2.05h-14.12zM1173.15,160.91h2.06v2.05h-2.06zM1181.19,160.91h2.06v2.05h-2.06zM1062.56,162.92h22.17v2.05h-22.17zM1090.71,162.92h4.07v2.05h-4.07zM1096.74,162.92h6.08v2.05h-6.08zM1173.15,162.92h4.07v2.05h-4.07zM1181.19,162.92h2.06v2.05h-2.06zM1054.52,164.92h6.08v2.05h-6.08zM1062.56,164.92h8.09v2.05h-8.09zM1076.64,164.92h4.07v2.05h-4.07zM1090.71,164.92h14.12v2.05h-14.12zM1106.80,164.92h6.08v2.05h-6.08zM1147.01,164.92h4.07v2.05h-4.07zM1163.09,164.92h2.06v2.05h-2.06zM1173.15,164.92h10.10v2.05h-10.10zM1054.52,166.92h6.08v2.05h-6.08zM1062.56,166.92h8.09v2.05h-8.09zM1074.63,166.92h6.08v2.05h-6.08zM1088.70,166.92h2.06v2.05h-2.06zM1094.73,166.92h12.11v2.05h-12.11zM1147.01,166.92h8.09v2.05h-8.09zM1163.09,166.92h8.09v2.05h-8.09zM1175.16,166.92h8.09v2.05h-8.09zM1054.52,168.92h6.08v2.05h-6.08zM1064.57,168.92h6.08v2.05h-6.08zM1078.65,168.92h2.06v2.05h-2.06zM1086.69,168.92h20.16v2.05h-20.16zM1145.00,168.92h2.06v2.05h-2.06zM1149.02,168.92h2.06v2.05h-2.06zM1153.04,168.92h22.17v2.05h-22.17zM1177.17,168.92h6.08v2.05h-6.08zM1054.52,170.93h6.08v2.05h-6.08zM1062.56,170.93h12.11v2.05h-12.11zM1084.68,170.93h14.12v2.05h-14.12zM1138.97,170.93h34.23v2.05h-34.23zM1179.18,170.93h2.06v2.05h-2.06zM1052.51,172.93h8.09v2.05h-8.09zM1064.57,172.93h6.08v2.05h-6.08zM1072.62,172.93h2.06v2.05h-2.06zM1086.69,172.93h4.07v2.05h-4.07zM1138.97,172.93h34.23v2.05h-34.23zM1050.50,174.93h6.08v2.05h-6.08zM1088.70,174.93h2.06v2.05h-2.06zM1138.97,174.93h34.23v2.05h-34.23zM1136.96,176.94h36.24v2.05h-36.24zM1175.16,176.94h2.06v2.05h-2.06zM1181.19,176.94h2.06v2.05h-2.06zM1136.96,178.94h14.12v2.05h-14.12zM1153.04,178.94h20.16v2.05h-20.16zM1136.96,180.94h30.21v2.05h-30.21zM1169.13,180.94h2.06v2.05h-2.06zM1134.95,182.95h28.20v2.05h-28.20zM1165.10,182.95h8.09v2.05h-8.09zM1177.17,182.95h2.06v2.05h-2.06zM1134.95,184.95h38.25v2.05h-38.25zM1181.19,184.95h2.06v2.05h-2.06zM1124.89,186.95h2.06v2.05h-2.06zM1132.93,186.95h40.26v2.05h-40.26zM1128.91,188.95h40.26v2.05h-40.26zM1120.87,190.96h2.06v2.05h-2.06zM1130.92,190.96h2.06v2.05h-2.06zM1134.95,190.96h4.07v2.05h-4.07zM1140.98,190.96h28.20v2.05h-28.20zM1128.91,192.96h14.12v2.05h-14.12zM1145.00,192.96h16.13v2.05h-16.13zM1163.09,192.96h6.08v2.05h-6.08zM1130.92,194.96h26.19v2.05h-26.19zM1159.07,194.96h2.06v2.05h-2.06zM1165.10,194.96h2.06v2.05h-2.06zM1169.13,194.96h2.06v2.05h-2.06zM1116.85,196.97h2.06v2.05h-2.06zM1126.90,196.97h24.18v2.05h-24.18zM1098.75,198.97h2.06v2.05h-2.06zM1126.90,198.97h2.06v2.05h-2.06zM1130.92,198.97h10.10v2.05h-10.10zM1142.99,198.97h4.07v2.05h-4.07zM1122.88,200.97h16.13v2.05h-16.13zM1120.87,202.98h10.10v2.05h-10.10zM1132.93,202.98h2.06v2.05h-2.06zM1118.86,204.98h12.11v2.05h-12.11zM1116.85,206.98h12.11v2.05h-12.11zM1112.83,208.98h4.07v2.05h-4.07zM1118.86,208.98h8.09v2.05h-8.09zM1108.81,210.99h12.11v2.05h-12.11zM1106.80,212.99h10.10v2.05h-10.10zM1104.79,214.99h4.07v2.05h-4.07zM1112.83,214.99h4.07v2.05h-4.07zM1058.54,217.00h2.06v2.05h-2.06zM1090.71,217.00h2.06v2.05h-2.06zM1128.91,217.00h2.06v2.05h-2.06z"/>
<path fill="#f4f24a" d="M1114.84,90.81h8.09v2.05h-8.09zM1114.84,92.81h6.08v2.05h-6.08zM1080.66,96.82h2.06v2.05h-2.06zM1126.90,96.82h2.06v2.05h-2.06zM1076.64,98.82h12.11v2.05h-12.11zM1076.64,100.82h12.11v2.05h-12.11zM1074.63,102.82h14.12v2.05h-14.12zM1080.66,104.83h2.06v2.05h-2.06zM1086.69,104.83h4.07v2.05h-4.07zM1114.84,106.83h2.06v2.05h-2.06zM1118.86,106.83h2.06v2.05h-2.06zM1128.91,106.83h2.06v2.05h-2.06zM1145.00,106.83h2.06v2.05h-2.06zM1086.69,108.83h2.06v2.05h-2.06zM1118.86,108.83h2.06v2.05h-2.06zM1128.91,108.83h2.06v2.05h-2.06zM1145.00,108.83h2.06v2.05h-2.06zM1128.91,110.84h4.07v2.05h-4.07zM1100.77,112.84h2.06v2.05h-2.06zM1128.91,112.84h4.07v2.05h-4.07zM1134.95,112.84h8.09v2.05h-8.09zM1098.75,114.84h2.06v2.05h-2.06zM1130.92,114.84h2.06v2.05h-2.06zM1136.96,114.84h6.08v2.05h-6.08zM1060.55,116.85h4.07v2.05h-4.07zM1098.75,116.85h4.07v2.05h-4.07zM1138.97,116.85h2.06v2.05h-2.06zM1060.55,118.85h8.09v2.05h-8.09zM1076.64,118.85h4.07v2.05h-4.07zM1096.74,118.85h4.07v2.05h-4.07zM1124.89,118.85h2.06v2.05h-2.06zM1147.01,118.85h10.10v2.05h-10.10zM1060.55,120.85h4.07v2.05h-4.07zM1112.83,120.85h4.07v2.05h-4.07zM1140.98,120.85h2.06v2.05h-2.06zM1147.01,120.85h8.09v2.05h-8.09zM1082.67,122.85h2.06v2.05h-2.06zM1112.83,122.85h4.07v2.05h-4.07zM1140.98,122.85h2.06v2.05h-2.06zM1147.01,122.85h8.09v2.05h-8.09zM1114.84,124.86h2.06v2.05h-2.06zM1140.98,124.86h2.06v2.05h-2.06zM1147.01,124.86h10.10v2.05h-10.10zM1112.83,126.86h2.06v2.05h-2.06zM1145.00,126.86h12.11v2.05h-12.11zM1161.08,126.86h2.06v2.05h-2.06zM1122.88,128.86h4.07v2.05h-4.07zM1147.01,128.86h4.07v2.05h-4.07zM1153.04,128.86h12.11v2.05h-12.11zM1060.55,130.87h2.06v2.05h-2.06zM1122.88,130.87h4.07v2.05h-4.07zM1147.01,130.87h4.07v2.05h-4.07zM1153.04,130.87h4.07v2.05h-4.07zM1058.54,132.87h2.06v2.05h-2.06zM1122.88,132.87h6.08v2.05h-6.08zM1149.02,132.87h2.06v2.05h-2.06zM1153.04,132.87h4.07v2.05h-4.07zM1054.52,134.87h4.07v2.05h-4.07zM1082.67,134.87h2.06v2.05h-2.06zM1092.72,134.87h2.06v2.05h-2.06zM1096.74,134.87h4.07v2.05h-4.07zM1108.81,134.87h4.07v2.05h-4.07zM1124.89,134.87h2.06v2.05h-2.06zM1140.98,134.87h2.06v2.05h-2.06zM1149.02,134.87h10.10v2.05h-10.10zM1082.67,136.88h2.06v2.05h-2.06zM1090.71,136.88h4.07v2.05h-4.07zM1124.89,136.88h4.07v2.05h-4.07zM1149.02,136.88h12.11v2.05h-12.11zM1066.58,138.88h2.06v2.05h-2.06zM1082.67,138.88h6.08v2.05h-6.08zM1090.71,138.88h4.07v2.05h-4.07zM1138.97,138.88h10.10v2.05h-10.10zM1151.03,138.88h10.10v2.05h-10.10zM1066.58,140.88h2.06v2.05h-2.06zM1084.68,140.88h6.08v2.05h-6.08zM1138.97,140.88h4.07v2.05h-4.07zM1145.00,140.88h2.06v2.05h-2.06zM1151.03,140.88h8.09v2.05h-8.09zM1106.80,142.88h4.07v2.05h-4.07zM1151.03,142.88h12.11v2.05h-12.11zM1106.80,144.89h4.07v2.05h-4.07zM1155.05,144.89h8.09v2.05h-8.09zM1157.06,146.89h6.08v2.05h-6.08zM1147.01,148.89h2.06v2.05h-2.06zM1157.06,148.89h2.06v2.05h-2.06zM1161.08,148.89h2.06v2.05h-2.06zM1145.00,150.90h4.07v2.05h-4.07zM1157.06,150.90h2.06v2.05h-2.06zM1082.67,152.90h2.06v2.05h-2.06zM1108.81,152.90h2.06v2.05h-2.06zM1108.81,154.90h2.06v2.05h-2.06zM1102.78,160.91h2.06v2.05h-2.06zM1145.00,160.91h2.06v2.05h-2.06zM1104.79,162.92h2.06v2.05h-2.06zM1145.00,162.92h2.06v2.05h-2.06zM1072.62,164.92h4.07v2.05h-4.07zM1104.79,164.92h2.06v2.05h-2.06zM1090.71,166.92h4.07v2.05h-4.07zM1153.04,196.97h4.07v2.05h-4.07zM1155.05,198.97h2.06v2.05h-2.06zM1153.04,200.97h6.08v2.05h-6.08zM1153.04,202.98h4.07v2.05h-4.07z"/>
<path fill="#c98a1e" d="M1122.88,92.81h2.06v2.05h-2.06zM1118.86,102.82h4.07v2.05h-4.07zM1090.71,104.83h4.07v2.05h-4.07zM1104.79,108.83h2.06v2.05h-2.06zM1104.79,110.84h2.06v2.05h-2.06zM1112.83,110.84h4.07v2.05h-4.07zM1173.15,112.84h2.06v2.05h-2.06zM1173.15,114.84h2.06v2.05h-2.06zM1132.93,120.85h4.07v2.05h-4.07zM1132.93,122.85h4.07v2.05h-4.07zM1167.12,122.85h2.06v2.05h-2.06zM1116.85,126.86h2.06v2.05h-2.06zM1175.16,126.86h2.06v2.05h-2.06zM1064.57,128.86h4.07v2.05h-4.07zM1064.57,130.87h4.07v2.05h-4.07zM1060.55,132.87h6.08v2.05h-6.08zM1060.55,134.87h6.08v2.05h-6.08zM1072.62,134.87h4.07v2.05h-4.07zM1060.55,136.88h6.08v2.05h-6.08zM1072.62,136.88h4.07v2.05h-4.07zM1060.55,138.88h6.08v2.05h-6.08zM1134.95,138.88h4.07v2.05h-4.07zM1060.55,140.88h6.08v2.05h-6.08zM1134.95,140.88h4.07v2.05h-4.07zM1060.55,142.88h6.08v2.05h-6.08zM1177.17,142.88h2.06v2.05h-2.06zM1060.55,144.89h6.08v2.05h-6.08zM1179.18,148.89h2.06v2.05h-2.06zM1140.98,150.90h4.07v2.05h-4.07zM1102.78,152.90h2.06v2.05h-2.06zM1140.98,152.90h4.07v2.05h-4.07zM1096.74,158.91h2.06v2.05h-2.06zM1169.13,158.91h4.07v2.05h-4.07zM1169.13,160.91h4.07v2.05h-4.07zM1169.13,162.92h4.07v2.05h-4.07zM1151.03,164.92h2.06v2.05h-2.06zM1147.01,168.92h2.06v2.05h-2.06zM1151.03,168.92h2.06v2.05h-2.06zM1167.12,180.94h2.06v2.05h-2.06zM1132.93,190.96h2.06v2.05h-2.06zM1142.99,192.96h2.06v2.05h-2.06zM1128.91,194.96h2.06v2.05h-2.06zM1157.06,194.96h2.06v2.05h-2.06zM1149.02,202.98h2.06v2.05h-2.06z"/>
<path fill="#a9e4ee" d="M1106.80,100.82h2.06v2.05h-2.06zM1128.91,100.82h2.06v2.05h-2.06zM1106.80,102.82h2.06v2.05h-2.06zM1128.91,102.82h2.06v2.05h-2.06zM1151.03,128.86h2.06v2.05h-2.06zM1151.03,130.87h2.06v2.05h-2.06zM1151.03,132.87h2.06v2.05h-2.06zM1159.07,140.88h2.06v2.05h-2.06zM1159.07,148.89h2.06v2.05h-2.06zM1159.07,150.90h2.06v2.05h-2.06zM1159.07,152.90h2.06v2.05h-2.06zM1159.07,154.90h2.06v2.05h-2.06z"/>
<path fill="#c6ee4a" d="M1058.54,124.86h2.06v2.05h-2.06zM1058.54,126.86h4.07v2.05h-4.07zM1056.53,128.86h6.08v2.05h-6.08zM1102.78,134.87h4.07v2.05h-4.07zM1100.77,136.88h4.07v2.05h-4.07zM1094.73,138.88h10.10v2.05h-10.10zM1092.72,140.88h4.07v2.05h-4.07zM1092.72,142.88h6.08v2.05h-6.08zM1090.71,152.90h2.06v2.05h-2.06zM1086.69,154.90h8.09v2.05h-8.09zM1086.69,156.91h4.07v2.05h-4.07z"/>
</g>
<path d="M1050.50,86.80 h96.80 v100.48 h-96.80 z M1050.50,86.80 v89.22 h86.00 v-89.22 z" fill="#d4741c" fill-opacity="0.08" fill-rule="evenodd"/>
<path d="M1050.50,86.80 h86.00 v89.22 h-86.00 z M1050.50,86.80 v77.96 h75.20 v-77.96 z" fill="#d8701c" fill-opacity="0.19" fill-rule="evenodd"/>
<path d="M1050.50,86.80 h75.20 v77.96 h-75.20 z M1050.50,86.80 v66.70 h64.40 v-66.70 z" fill="#de6a1c" fill-opacity="0.32" fill-rule="evenodd"/>
<path d="M1050.50,86.80 h64.40 v66.70 h-64.40 z M1050.50,86.80 v55.44 h53.60 v-55.44 z" fill="#e4621c" fill-opacity="0.45" fill-rule="evenodd"/>
<path d="M1050.50,86.80 h53.60 v55.44 h-53.60 z M1050.50,86.80 v44.18 h42.80 v-44.18 z" fill="#ea5a1c" fill-opacity="0.57" fill-rule="evenodd"/>
<path d="M1050.50,86.80 h42.80 v44.18 h-42.80 z M1050.50,86.80 v32.92 h32.00 v-32.92 z" fill="#ee4c18" fill-opacity="0.68" fill-rule="evenodd"/>
<path d="M1050.50,86.80 h32.00 v32.92 h-32.00 z M1050.50,86.80 v21.66 h21.20 v-21.66 z" fill="#f03c12" fill-opacity="0.78" fill-rule="evenodd"/>
<path d="M1050.50,86.80 h21.20 v21.66 h-21.20 z M1050.50,86.80 v10.40 h10.40 v-10.40 z" fill="#f02c0c" fill-opacity="0.88" fill-rule="evenodd"/>
<rect x="1050.50" y="86.80" width="10.40" height="10.40" fill="#ff0000"/>
<path d="M1060.90,86.80 V97.20 H1050.50" fill="none" stroke="#ffffff" stroke-opacity="0.92" stroke-width="0.9"/>
<path d="M1071.70,86.80 V108.46 H1050.50" fill="none" stroke="#ffffff" stroke-opacity="0.92" stroke-width="0.9"/>
<path d="M1082.50,86.80 V119.72 H1050.50" fill="none" stroke="#ffffff" stroke-opacity="0.92" stroke-width="0.9"/>
<path d="M1093.30,86.80 V130.98 H1050.50" fill="none" stroke="#ffffff" stroke-opacity="0.92" stroke-width="0.9"/>
<path d="M1104.10,86.80 V142.24 H1050.50" fill="none" stroke="#ffffff" stroke-opacity="0.92" stroke-width="0.9"/>
<path d="M1114.90,86.80 V153.50 H1050.50" fill="none" stroke="#ffffff" stroke-opacity="0.92" stroke-width="0.9"/>
<path d="M1125.70,86.80 V164.76 H1050.50" fill="none" stroke="#ffffff" stroke-opacity="0.92" stroke-width="0.9"/>
<path d="M1136.50,86.80 V176.02 H1050.50" fill="none" stroke="#ffffff" stroke-opacity="0.92" stroke-width="0.9"/>
<path d="M1147.30,86.80 V187.28 H1050.50" fill="none" stroke="#ffffff" stroke-opacity="0.92" stroke-width="0.9"/>
<path d="M1158.10,86.80 V198.54 H1050.50" fill="none" stroke="#ffffff" stroke-opacity="0.92" stroke-width="0.9"/>
<path d="M1050.6,49.7 V42.5 H1158.6 V49.7" fill="none" stroke="#808080" stroke-width="0.9"/>
<path d="M1050.6,68.7 V61.5 H1115.7 V68.7" fill="none" stroke="#808080" stroke-width="0.9"/>
<path d="M1050.6,84.8 V77.6 H1060.7 V84.8" fill="none" stroke="#808080" stroke-width="0.9"/>
<text x="1028.5" y="48.8" font-size="9.3" fill="#222" textLength="20.7" lengthAdjust="spacing" >50km</text>
<text x="1028.5" y="65.7" font-size="9.3" fill="#222" textLength="20.7" lengthAdjust="spacing" >30km</text>
<text x="1032.7" y="83.6" font-size="9.3" fill="#222" textLength="15.6" lengthAdjust="spacing" >5km</text>
<text x="1041.0" y="54.8" font-size="6" fill="#888" >&#8230;</text>
<text x="1041.0" y="72.2" font-size="6" fill="#888" >&#8230;</text>
<text x="894.7" y="255.1" font-size="14.2" fill="#000" textLength="153.3" lengthAdjust="spacing" >Sampling area (grain size):</text>
<text x="941.6" y="271.9" font-size="14.2" fill="#000" textLength="60.1" lengthAdjust="spacing" >5km&#215;5km</text>
<text x="1175.7" y="253.9" font-size="14.2" fill="#000" textLength="153.5" lengthAdjust="spacing" >Sampling area (grain size):</text>
<text x="1215.9" y="270.6" font-size="14.2" fill="#000" textLength="74.7" lengthAdjust="spacing" >50km&#215;50km</text>
<rect x="929.0" y="280.9" width="91.9" height="97.4" fill="#d9d9d9" stroke="#000" stroke-width="1.3"/>
<path d="M938.19,280.9 V378.3M929.0,290.64 H1020.9M947.38,280.9 V378.3M929.0,300.38 H1020.9M956.57,280.9 V378.3M929.0,310.12 H1020.9M965.76,280.9 V378.3M929.0,319.86 H1020.9M974.95,280.9 V378.3M929.0,329.60 H1020.9M984.14,280.9 V378.3M929.0,339.34 H1020.9M993.33,280.9 V378.3M929.0,349.08 H1020.9M1002.52,280.9 V378.3M929.0,358.82 H1020.9M1011.71,280.9 V378.3M929.0,368.56 H1020.9" stroke="#000" stroke-width="1.1" fill="none"/>
<path d="M969.6,384.1 h1.6 M1187.6,333.2 h3" stroke="#9a9a9a" stroke-width="0.7"/>
<rect x="1211.4" y="283.8" width="90" height="95.9" fill="#d9d9d9" stroke="#000" stroke-width="1.3"/>
<defs><linearGradient id="ga" x1="0" y1="0" x2="1" y2="0"><stop offset="0" stop-color="#f2f2f2"/><stop offset="0.6" stop-color="#d6d5d5"/><stop offset="1" stop-color="#c4c2c2"/></linearGradient></defs>
<path d="M1036.4,334.1 H1149.2 V326.2 L1197.9,342.6 L1149.2,359.3 V351.4 H1036.4 Z" fill="url(#ga)"/>
<text x="1064.2" y="320.9" font-size="20" fill="#595959" textLength="88.2" lengthAdjust="spacing" class="b" >Scaling up</text>
<text transform="translate(899.6,640.4) rotate(-90)" font-size="25.8" fill="#0f4a12" class="b" textLength="217.5" lengthAdjust="spacing">landscape diversity-</text>
<text transform="translate(921.5,633.8) rotate(-90)" font-size="25.8" fill="#ff0000" class="b" textLength="204" lengthAdjust="spacing">ecosystem stability</text>
<text transform="translate(943.9,595.9) rotate(-90)" font-size="25.8" fill="#000" class="b" textLength="127.5" lengthAdjust="spacing">relationship</text>
<path d="M960.5,431 V617.3 H1303" fill="none" stroke="#000" stroke-width="1.5"/>
<path d="M956.4,432.5 L960.5,425 L964.6,432.5 Z" fill="#000"/>
<path d="M1302,613.4 L1310.4,617.3 L1302,621.2 Z" fill="#000"/>
<path d="M977,453.8 L1235.4,587.7" fill="none" stroke="#767676" stroke-width="1.7" stroke-dasharray="6 2.4"/>
<path d="M998.4,608.5 L1241.3,429.7" fill="none" stroke="#767676" stroke-width="1.7" stroke-dasharray="6 2.4"/>
<path d="M986.2,527.8 L1243.6,525.9" fill="none" stroke="#767676" stroke-width="1.7" stroke-dasharray="6 2.4"/>
<path d="M993.80,598.30 C995.25,594.75 999.38,584.25 1002.50,577.00 C1005.62,569.75 1008.63,563.15 1012.50,554.80 C1016.37,546.45 1021.95,534.70 1025.70,526.90 C1029.45,519.10 1031.73,514.28 1035.00,508.00 C1038.27,501.72 1041.47,495.57 1045.30,489.20 C1049.13,482.83 1054.22,475.23 1058.00,469.80 C1061.78,464.37 1064.67,460.60 1068.00,456.60 C1071.33,452.60 1074.50,448.70 1078.00,445.80 C1081.50,442.90 1085.17,440.75 1089.00,439.20 C1092.83,437.65 1097.00,436.63 1101.00,436.50 C1105.00,436.37 1109.00,437.12 1113.00,438.40 C1117.00,439.68 1120.35,441.25 1125.00,444.20 C1129.65,447.15 1134.40,449.18 1140.90,456.10 C1147.40,463.02 1157.42,476.38 1164.00,485.70 C1170.58,495.02 1174.37,502.12 1180.40,512.00 C1186.43,521.88 1193.88,535.00 1200.20,545.00 C1206.52,555.00 1215.28,567.50 1218.30,572.00" fill="none" stroke="#767676" stroke-width="1.7" stroke-dasharray="6 2.4"/>
<text x="1247.2" y="540.4" font-size="51" fill="#595959" class="b" >?</text>
<text x="1134.3" y="608.5" font-size="20" fill="#000" textLength="209.0" lengthAdjust="spacing" >Sampling area (grain size)</text>
<text x="974.5" y="641.0" font-size="21.8" fill="#000" textLength="38.5" lengthAdjust="spacing" >5km</text>
<text x="1050.7" y="641.0" font-size="21.8" fill="#000" >&#8230;</text>
<text x="1104.0" y="641.5" font-size="21.8" fill="#000" textLength="51.0" lengthAdjust="spacing" >30km</text>
<text x="1203.6" y="641.5" font-size="21.8" fill="#000" >&#8230;</text>
<text x="1240.4" y="642.0" font-size="21.8" fill="#000" textLength="48.5" lengthAdjust="spacing" >50km</text>
<defs><linearGradient id="ga2" x1="0" y1="0" x2="1" y2="0"><stop offset="0" stop-color="#f4f4f4"/><stop offset="0.6" stop-color="#e0dfdf"/><stop offset="1" stop-color="#d2d0d0"/></linearGradient></defs>
<path d="M982,657.4 H1237 V651 L1309,662.6 L1237,672.5 V668.6 H982 Z" fill="url(#ga2)"/>
<text x="1084.0" y="661.6" font-size="20" fill="#595959" textLength="88.2" lengthAdjust="spacing" class="b" >Scaling up</text>
<!-- vlines -->
<line x1="229.2" y1="42.1" x2="229.2" y2="43.2" stroke="#7a7a7a" stroke-width="1.1"/>
<line x1="229.2" y1="48.6" x2="229.2" y2="505.7" stroke="#787878" stroke-width="1.05" stroke-dasharray="5.2 4.45"/>
<line x1="336.4" y1="42.1" x2="336.4" y2="507.7" stroke="#787878" stroke-width="1.05" stroke-dasharray="5.2 4.45"/>
<line x1="443.6" y1="45.4" x2="443.6" y2="512.4" stroke="#787878" stroke-width="1.05" stroke-dasharray="5.2 4.45"/>
<line x1="561.5" y1="48.3" x2="561.5" y2="505.7" stroke="#787878" stroke-width="1.05" stroke-dasharray="5.2 4.45"/>
<!-- sec_water -->
<rect x="913.1" y="613.4" width="452.9" height="85.6" fill="#00733e" fill-opacity="0.45"/>
<circle cx="966.1" cy="658.1" r="37.2" fill="none" stroke="#fff" stroke-width="0.7"/>
<circle cx="966.1" cy="658.1" r="27.4" fill="none" stroke="#fff" stroke-width="0.7"/>
<path d="M966.06,634.78L955.11,644.62L955.11,649.10L966.06,640.01L977.51,649.10L977.51,644.62ZM966.06,644.62L951.12,656.19L951.12,660.80L966.06,649.97L981.00,660.80L981.00,656.19ZM966.06,654.08L951.12,665.53L944.90,667.40L944.27,670.51L954.86,669.51L961.08,670.51L966.06,671.50L971.04,670.51L977.26,669.51L987.85,670.51L987.22,667.40L981.00,665.53ZM966.06,660.80L971.04,664.91L966.06,666.77L961.08,664.91Z" fill="#fff" fill-rule="evenodd"/>
<text x="966.1" y="678.2" font-size="5.4" fill="#fff" class="ss b" text-anchor="middle">1952</text>
<defs><path id="ring" d="M931.73,652.66 A34.80,34.80 0 1 0 1000.01,650.27"/></defs>
<text font-size="6.7" fill="#fff" class="ss b" textLength="122.7" lengthAdjust="spacing"><textPath href="#ring" startOffset="0" textLength="122.7" lengthAdjust="spacing">BEIJING FORESTRY UNIVERSITY</textPath></text>
<path d="M944.70,633.96L947.85,631.49M947.63,634.46L944.92,630.99M944.28,632.77L946.80,630.80M952.69,628.76L956.43,627.32M955.35,630.09L953.77,625.98M952.64,627.49L955.62,626.35M962.42,626.05L966.41,625.84M964.53,628.14L964.30,623.75M962.75,624.83L965.95,624.66M972.50,626.48L976.37,627.51M973.86,629.12L975.00,624.87M973.20,625.42L976.29,626.25M981.47,629.73L984.86,631.85M982.00,632.66L984.33,628.93M982.44,628.93L985.16,630.62" stroke="#fff" stroke-width="0.8" fill="none"/>
<path d="M1018.28,632.06L1018.44,632.80L1018.62,633.71L1018.82,634.77L1019.03,635.96L1019.26,637.26L1019.49,638.64L1019.74,640.09L1019.99,641.59L1020.24,643.12L1020.49,644.65L1020.75,646.17L1021.00,647.66L1021.24,649.09L1021.48,650.45L1021.66,651.82L1021.86,653.26L1022.06,654.75L1022.27,656.28L1022.48,657.82L1022.68,659.35L1022.89,660.86L1023.09,662.31L1023.28,663.70L1023.46,665.01L1023.63,666.20L1023.78,667.27L1023.92,668.18L1024.03,668.93L1024.46,670.23L1025.35,671.26L1026.57,671.87L1027.93,671.97L1029.23,671.54L1030.26,670.65L1030.87,669.43L1030.97,668.07L1030.90,667.31L1030.80,666.39L1030.68,665.32L1030.55,664.12L1030.41,662.81L1030.25,661.42L1030.08,659.96L1029.91,658.45L1029.74,656.91L1029.57,655.37L1029.40,653.84L1029.23,652.35L1029.07,650.91L1028.92,649.55L1028.83,648.18L1028.73,646.73L1028.62,645.23L1028.51,643.70L1028.40,642.15L1028.28,640.61L1028.18,639.09L1028.08,637.63L1027.98,636.23L1027.90,634.91L1027.83,633.71L1027.77,632.63L1027.74,631.70L1027.72,630.94L1027.14,629.18L1025.94,627.77L1024.29,626.93L1022.44,626.78L1020.68,627.36L1019.27,628.56L1018.43,630.21Z M1017.55,655.08L1017.74,654.99L1017.98,654.89L1018.25,654.77L1018.54,654.65L1018.85,654.52L1019.19,654.38L1019.53,654.24L1019.88,654.10L1020.23,653.97L1020.57,653.83L1020.91,653.71L1021.22,653.59L1021.50,653.49L1021.75,653.40L1021.99,653.31L1022.24,653.22L1022.52,653.12L1022.81,653.03L1023.11,652.94L1023.41,652.86L1023.70,652.77L1023.99,652.69L1024.27,652.62L1024.54,652.54L1024.79,652.47L1025.02,652.40L1025.23,652.33L1025.41,652.27L1026.32,651.92L1027.03,651.26L1027.43,650.37L1027.47,649.39L1027.12,648.48L1026.46,647.77L1025.57,647.37L1024.59,647.33L1024.44,647.32L1024.27,647.31L1024.04,647.31L1023.79,647.31L1023.50,647.32L1023.19,647.32L1022.86,647.34L1022.51,647.36L1022.15,647.38L1021.78,647.41L1021.40,647.45L1021.02,647.49L1020.63,647.54L1020.25,647.60L1019.86,647.68L1019.47,647.78L1019.07,647.88L1018.67,647.99L1018.26,648.11L1017.86,648.23L1017.47,648.34L1017.09,648.46L1016.74,648.56L1016.40,648.66L1016.10,648.75L1015.84,648.83L1015.62,648.88L1015.45,648.92L1014.35,649.56L1013.58,650.57L1013.26,651.79L1013.42,653.05L1014.06,654.15L1015.07,654.92L1016.29,655.24Z M1015.61,667.16L1015.78,667.27L1015.97,667.39L1016.22,667.55L1016.51,667.74L1016.85,667.95L1017.21,668.17L1017.61,668.41L1018.03,668.65L1018.47,668.90L1018.93,669.15L1019.41,669.39L1019.90,669.63L1020.41,669.86L1020.93,670.07L1021.47,670.25L1022.03,670.41L1022.60,670.56L1023.18,670.71L1023.76,670.84L1024.33,670.97L1024.90,671.09L1025.44,671.20L1025.96,671.30L1026.44,671.40L1026.88,671.48L1027.26,671.56L1027.56,671.62L1027.81,671.67L1029.07,671.70L1030.25,671.24L1031.17,670.36L1031.67,669.19L1031.70,667.93L1031.24,666.75L1030.36,665.83L1029.19,665.33L1028.90,665.26L1028.54,665.19L1028.14,665.11L1027.70,665.02L1027.23,664.93L1026.74,664.83L1026.23,664.72L1025.71,664.62L1025.20,664.50L1024.70,664.39L1024.22,664.27L1023.78,664.15L1023.39,664.04L1023.07,663.93L1022.76,663.84L1022.43,663.72L1022.07,663.58L1021.70,663.42L1021.33,663.26L1020.95,663.08L1020.58,662.91L1020.21,662.73L1019.86,662.55L1019.53,662.38L1019.21,662.23L1018.91,662.08L1018.62,661.94L1018.39,661.84L1017.26,661.51L1016.10,661.64L1015.07,662.20L1014.34,663.11L1014.01,664.24L1014.14,665.40L1014.70,666.43Z M1038.84,631.74L1038.75,632.26L1038.63,632.90L1038.49,633.64L1038.33,634.48L1038.15,635.39L1037.95,636.35L1037.75,637.36L1037.53,638.40L1037.32,639.45L1037.10,640.50L1036.89,641.53L1036.69,642.53L1036.50,643.48L1036.32,644.36L1036.14,645.23L1035.94,646.12L1035.75,647.03L1035.55,647.96L1035.35,648.88L1035.15,649.79L1034.96,650.68L1034.77,651.54L1034.60,652.35L1034.44,653.11L1034.29,653.81L1034.16,654.44L1034.05,654.98L1033.97,655.43L1033.93,656.40L1034.27,657.31L1034.94,658.03L1035.83,658.43L1036.80,658.47L1037.71,658.13L1038.43,657.46L1038.83,656.57L1038.96,656.13L1039.10,655.60L1039.26,654.98L1039.44,654.29L1039.64,653.54L1039.85,652.73L1040.07,651.88L1040.29,651.00L1040.52,650.10L1040.76,649.19L1040.99,648.28L1041.23,647.37L1041.45,646.49L1041.68,645.64L1041.92,644.77L1042.18,643.84L1042.45,642.86L1042.73,641.85L1043.01,640.82L1043.30,639.78L1043.58,638.76L1043.85,637.77L1044.12,636.82L1044.37,635.93L1044.60,635.11L1044.82,634.39L1045.00,633.76L1045.16,633.26L1045.21,631.99L1044.77,630.80L1043.91,629.87L1042.76,629.34L1041.49,629.29L1040.30,629.73L1039.37,630.59Z M1034.14,655.90L1034.18,656.13L1034.23,656.43L1034.32,656.86L1034.43,657.37L1034.57,657.96L1034.73,658.59L1034.92,659.27L1035.14,659.96L1035.40,660.67L1035.72,661.39L1036.11,662.12L1036.61,662.85L1037.29,663.56L1038.20,664.20L1039.24,664.55L1040.21,664.68L1041.10,664.68L1041.93,664.59L1042.73,664.46L1043.51,664.29L1044.25,664.10L1044.96,663.89L1045.63,663.68L1046.24,663.48L1046.77,663.31L1047.21,663.16L1047.52,663.06L1047.76,662.99L1048.75,662.57L1049.50,661.81L1049.90,660.81L1049.89,659.74L1049.47,658.75L1048.71,658.00L1047.71,657.60L1046.64,657.61L1046.23,657.68L1045.72,657.79L1045.19,657.93L1044.63,658.08L1044.05,658.23L1043.45,658.38L1042.86,658.52L1042.29,658.63L1041.75,658.72L1041.28,658.77L1040.90,658.79L1040.66,658.77L1040.62,658.75L1040.80,658.80L1040.95,658.95L1040.92,658.99L1040.77,658.88L1040.56,658.63L1040.32,658.29L1040.07,657.86L1039.82,657.38L1039.58,656.88L1039.34,656.36L1039.12,655.84L1038.90,655.35L1038.69,654.88L1038.46,654.43L1038.26,654.10L1037.76,653.38L1037.02,652.90L1036.15,652.75L1035.30,652.94L1034.58,653.44L1034.10,654.18L1033.95,655.05Z M1035.92,648.15L1036.20,648.13L1036.53,648.10L1036.92,648.05L1037.35,647.99L1037.82,647.92L1038.32,647.85L1038.84,647.77L1039.38,647.69L1039.92,647.61L1040.47,647.53L1041.01,647.45L1041.53,647.38L1042.03,647.31L1042.50,647.25L1042.96,647.17L1043.45,647.09L1043.95,647.01L1044.47,646.93L1044.98,646.85L1045.50,646.77L1046.00,646.69L1046.49,646.62L1046.95,646.55L1047.39,646.48L1047.79,646.42L1048.15,646.37L1048.46,646.33L1048.72,646.30L1049.71,645.90L1050.48,645.14L1050.89,644.15L1050.90,643.08L1050.50,642.09L1049.74,641.32L1048.75,640.91L1047.68,640.90L1047.44,640.96L1047.14,641.04L1046.78,641.12L1046.39,641.22L1045.96,641.32L1045.50,641.42L1045.01,641.53L1044.51,641.65L1044.00,641.77L1043.48,641.88L1042.97,642.00L1042.46,642.12L1041.97,642.24L1041.50,642.35L1041.03,642.48L1040.53,642.63L1040.01,642.77L1039.48,642.92L1038.94,643.07L1038.41,643.23L1037.88,643.38L1037.37,643.52L1036.89,643.67L1036.43,643.80L1036.02,643.93L1035.65,644.05L1035.33,644.15L1035.08,644.25L1034.36,644.56L1033.82,645.12L1033.53,645.84L1033.55,646.62L1033.86,647.34L1034.42,647.88L1035.14,648.17Z M1075.61,629.03L1075.66,629.14L1075.73,629.27L1075.82,629.43L1075.92,629.60L1076.03,629.79L1076.14,630.00L1076.26,630.20L1076.38,630.41L1076.50,630.61L1076.60,630.80L1076.70,630.98L1076.79,631.13L1076.86,631.27L1076.91,631.37L1077.88,632.33L1079.15,632.84L1080.51,632.83L1081.77,632.29L1082.73,631.32L1083.24,630.05L1083.23,628.69L1082.69,627.43L1082.61,627.34L1082.51,627.23L1082.40,627.09L1082.27,626.94L1082.13,626.77L1081.99,626.58L1081.84,626.40L1081.69,626.21L1081.55,626.03L1081.41,625.86L1081.28,625.70L1081.16,625.57L1081.06,625.45L1080.99,625.37L1080.08,624.48L1078.90,624.01L1077.64,624.02L1076.47,624.51L1075.58,625.42L1075.11,626.60L1075.12,627.86Z M1060.40,655.44L1060.68,655.32L1061.01,655.19L1061.45,655.04L1061.97,654.88L1062.55,654.71L1063.19,654.52L1063.87,654.32L1064.59,654.09L1065.34,653.85L1066.10,653.58L1066.88,653.29L1067.67,652.97L1068.45,652.62L1069.22,652.24L1069.97,651.81L1070.70,651.35L1071.43,650.87L1072.15,650.37L1072.86,649.85L1073.58,649.32L1074.28,648.79L1074.99,648.25L1075.68,647.72L1076.37,647.19L1077.05,646.67L1077.71,646.17L1078.36,645.69L1079.00,645.23L1079.68,644.80L1080.41,644.35L1081.16,643.89L1081.92,643.43L1082.69,642.97L1083.46,642.51L1084.21,642.06L1084.93,641.63L1085.62,641.22L1086.27,640.83L1086.86,640.47L1087.39,640.15L1087.85,639.86L1088.22,639.62L1088.67,639.24L1088.94,638.72L1088.99,638.14L1088.82,637.58L1088.44,637.13L1087.92,636.86L1087.34,636.81L1086.78,636.98L1086.38,637.16L1085.90,637.38L1085.34,637.64L1084.71,637.94L1084.03,638.26L1083.31,638.61L1082.54,638.99L1081.75,639.37L1080.95,639.77L1080.13,640.18L1079.32,640.58L1078.52,640.99L1077.75,641.38L1077.00,641.77L1076.23,642.14L1075.46,642.52L1074.68,642.93L1073.90,643.34L1073.13,643.76L1072.35,644.17L1071.59,644.58L1070.84,644.97L1070.10,645.34L1069.38,645.70L1068.68,646.02L1068.01,646.31L1067.37,646.56L1066.78,646.76L1066.20,646.95L1065.60,647.11L1064.97,647.27L1064.32,647.41L1063.67,647.53L1063.02,647.64L1062.38,647.73L1061.75,647.82L1061.14,647.89L1060.56,647.95L1060.01,648.01L1059.50,648.06L1059.00,648.11L1058.60,648.16L1057.27,648.78L1056.29,649.86L1055.79,651.24L1055.86,652.70L1056.48,654.03L1057.56,655.01L1058.94,655.51Z M1074.88,651.64L1075.06,651.56L1075.27,651.46L1075.48,651.34L1075.70,651.23L1075.92,651.11L1076.15,650.99L1076.38,650.87L1076.61,650.77L1076.83,650.67L1077.04,650.59L1077.22,650.54L1077.38,650.50L1077.50,650.49L1077.57,650.50L1077.65,650.50L1077.81,650.52L1078.02,650.56L1078.26,650.62L1078.54,650.70L1078.82,650.80L1079.12,650.90L1079.42,651.01L1079.71,651.13L1079.99,651.24L1080.26,651.35L1080.52,651.45L1080.76,651.54L1080.96,651.61L1081.62,651.70L1082.26,651.52L1082.78,651.12L1083.11,650.54L1083.20,649.88L1083.02,649.24L1082.62,648.72L1082.04,648.39L1081.91,648.34L1081.75,648.28L1081.53,648.20L1081.26,648.09L1080.97,647.97L1080.64,647.84L1080.29,647.71L1079.93,647.58L1079.55,647.46L1079.15,647.34L1078.75,647.24L1078.33,647.16L1077.89,647.11L1077.43,647.10L1076.97,647.16L1076.54,647.27L1076.15,647.40L1075.78,647.56L1075.44,647.72L1075.12,647.90L1074.82,648.08L1074.54,648.25L1074.29,648.42L1074.07,648.58L1073.87,648.71L1073.71,648.83L1073.61,648.90L1073.52,648.96L1073.06,649.32L1072.77,649.84L1072.70,650.42L1072.86,650.98L1073.22,651.44L1073.74,651.73L1074.32,651.80Z M1073.54,651.33L1073.58,651.52L1073.63,651.77L1073.70,652.07L1073.78,652.41L1073.86,652.78L1073.95,653.18L1074.04,653.58L1074.12,653.98L1074.21,654.37L1074.29,654.74L1074.37,655.08L1074.44,655.38L1074.49,655.63L1074.54,655.83L1074.77,656.36L1075.19,656.77L1075.74,656.98L1076.33,656.96L1076.86,656.73L1077.27,656.31L1077.48,655.76L1077.46,655.17L1077.42,654.98L1077.37,654.73L1077.30,654.43L1077.22,654.09L1077.14,653.72L1077.05,653.32L1076.96,652.92L1076.88,652.52L1076.79,652.13L1076.71,651.76L1076.63,651.42L1076.56,651.12L1076.51,650.87L1076.46,650.67L1076.23,650.14L1075.81,649.73L1075.26,649.52L1074.67,649.54L1074.14,649.77L1073.73,650.19L1073.52,650.74Z M1076.01,656.71L1076.25,656.63L1076.56,656.52L1076.93,656.40L1077.35,656.25L1077.81,656.09L1078.29,655.93L1078.78,655.76L1079.27,655.59L1079.75,655.42L1080.21,655.26L1080.63,655.12L1081.00,654.99L1081.31,654.88L1081.55,654.80L1082.08,654.48L1082.45,653.98L1082.60,653.37L1082.50,652.75L1082.18,652.22L1081.68,651.85L1081.07,651.70L1080.45,651.80L1080.22,651.89L1079.91,652.01L1079.55,652.15L1079.13,652.31L1078.68,652.48L1078.21,652.66L1077.72,652.84L1077.23,653.03L1076.76,653.21L1076.31,653.38L1075.89,653.54L1075.53,653.68L1075.22,653.80L1074.99,653.89L1074.49,654.19L1074.14,654.67L1074.00,655.23L1074.09,655.81L1074.39,656.31L1074.87,656.66L1075.43,656.80Z M1077.52,653.18L1077.47,653.53L1077.42,653.96L1077.35,654.45L1077.28,654.99L1077.20,655.59L1077.11,656.22L1077.02,656.89L1076.93,657.58L1076.83,658.27L1076.73,658.98L1076.63,659.67L1076.53,660.35L1076.43,661.01L1076.33,661.63L1076.25,662.26L1076.17,662.94L1076.07,663.64L1075.97,664.36L1075.87,665.09L1075.77,665.83L1075.66,666.55L1075.56,667.25L1075.46,667.92L1075.37,668.55L1075.29,669.12L1075.22,669.64L1075.17,670.09L1075.13,670.46L1075.14,671.20L1075.44,671.88L1075.97,672.39L1076.66,672.67L1077.40,672.66L1078.08,672.36L1078.59,671.83L1078.87,671.14L1078.96,670.79L1079.07,670.36L1079.20,669.86L1079.33,669.29L1079.48,668.67L1079.63,668.01L1079.79,667.32L1079.95,666.60L1080.11,665.87L1080.28,665.14L1080.44,664.41L1080.59,663.70L1080.73,663.02L1080.87,662.37L1080.97,661.72L1081.08,661.04L1081.18,660.34L1081.28,659.63L1081.38,658.91L1081.48,658.21L1081.58,657.51L1081.67,656.84L1081.76,656.20L1081.84,655.61L1081.91,655.06L1081.97,654.57L1082.03,654.16L1082.08,653.82L1082.03,652.92L1081.63,652.11L1080.96,651.52L1080.12,651.22L1079.22,651.27L1078.41,651.67L1077.82,652.34Z M1068.20,668.02L1068.28,668.11L1068.38,668.22L1068.50,668.35L1068.64,668.49L1068.80,668.64L1068.96,668.80L1069.12,668.97L1069.29,669.13L1069.45,669.29L1069.61,669.45L1069.75,669.59L1069.87,669.72L1069.97,669.83L1070.04,669.91L1070.81,670.34L1071.68,670.44L1072.53,670.20L1073.21,669.66L1073.64,668.89L1073.74,668.02L1073.50,667.17L1072.96,666.49L1072.86,666.43L1072.74,666.34L1072.59,666.24L1072.43,666.13L1072.25,666.00L1072.07,665.87L1071.88,665.73L1071.69,665.59L1071.50,665.46L1071.33,665.33L1071.16,665.22L1071.02,665.12L1070.89,665.04L1070.80,664.98L1070.11,664.60L1069.34,664.51L1068.59,664.72L1067.98,665.20L1067.60,665.89L1067.51,666.66L1067.72,667.41Z M1081.01,665.49L1081.10,665.61L1081.21,665.76L1081.36,665.94L1081.52,666.13L1081.71,666.34L1081.90,666.55L1082.10,666.78L1082.30,667.00L1082.49,667.22L1082.67,667.42L1082.84,667.62L1082.98,667.79L1083.10,667.94L1083.18,668.06L1084.11,668.60L1085.18,668.74L1086.21,668.47L1087.06,667.82L1087.60,666.89L1087.74,665.82L1087.47,664.79L1086.82,663.94L1086.69,663.87L1086.52,663.77L1086.33,663.65L1086.12,663.51L1085.89,663.36L1085.65,663.19L1085.40,663.02L1085.16,662.85L1084.92,662.69L1084.69,662.54L1084.47,662.40L1084.28,662.28L1084.12,662.18L1083.99,662.11L1083.23,661.67L1082.36,661.55L1081.51,661.78L1080.81,662.31L1080.37,663.07L1080.25,663.94L1080.48,664.79Z M1101.61,650.71L1101.99,650.60L1102.45,650.47L1102.97,650.32L1103.56,650.14L1104.19,649.95L1104.86,649.74L1105.56,649.53L1106.29,649.32L1107.03,649.10L1107.77,648.89L1108.50,648.69L1109.21,648.50L1109.90,648.33L1110.54,648.18L1111.19,648.05L1111.90,647.91L1112.63,647.77L1113.40,647.64L1114.18,647.51L1114.96,647.38L1115.73,647.26L1116.48,647.15L1117.19,647.05L1117.87,646.95L1118.49,646.86L1119.06,646.78L1119.55,646.71L1119.95,646.66L1120.86,646.30L1121.56,645.62L1121.94,644.73L1121.96,643.75L1121.60,642.84L1120.92,642.14L1120.03,641.76L1119.05,641.74L1118.68,641.83L1118.22,641.93L1117.67,642.04L1117.06,642.16L1116.38,642.29L1115.66,642.44L1114.90,642.59L1114.11,642.74L1113.31,642.91L1112.51,643.08L1111.71,643.26L1110.93,643.44L1110.18,643.63L1109.46,643.82L1108.74,644.02L1108.01,644.24L1107.25,644.48L1106.49,644.73L1105.73,644.98L1104.98,645.24L1104.25,645.49L1103.54,645.74L1102.87,645.98L1102.25,646.21L1101.68,646.42L1101.17,646.61L1100.74,646.76L1100.39,646.89L1099.71,647.27L1099.22,647.88L1099.01,648.63L1099.09,649.41L1099.47,650.09L1100.08,650.58L1100.83,650.79Z M1109.35,630.59L1109.37,631.39L1109.39,632.38L1109.42,633.52L1109.46,634.81L1109.50,636.21L1109.54,637.70L1109.59,639.26L1109.64,640.86L1109.69,642.48L1109.74,644.10L1109.78,645.70L1109.83,647.25L1109.87,648.72L1109.90,650.09L1109.97,651.44L1110.04,652.85L1110.11,654.28L1110.18,655.74L1110.24,657.20L1110.31,658.64L1110.38,660.05L1110.44,661.41L1110.50,662.70L1110.56,663.91L1110.61,665.02L1110.66,666.01L1110.71,666.87L1110.75,667.58L1110.95,668.43L1111.46,669.14L1112.21,669.61L1113.08,669.75L1113.93,669.55L1114.64,669.04L1115.11,668.29L1115.25,667.42L1115.24,666.72L1115.23,665.86L1115.22,664.87L1115.20,663.76L1115.18,662.55L1115.15,661.25L1115.12,659.89L1115.09,658.48L1115.06,657.03L1115.03,655.57L1115.00,654.11L1114.96,652.67L1114.93,651.26L1114.90,649.91L1114.83,648.53L1114.75,647.05L1114.67,645.50L1114.59,643.91L1114.50,642.28L1114.42,640.66L1114.34,639.06L1114.25,637.50L1114.17,636.01L1114.10,634.61L1114.02,633.33L1113.96,632.18L1113.90,631.20L1113.85,630.41L1113.64,629.55L1113.12,628.84L1112.37,628.39L1111.51,628.25L1110.65,628.46L1109.94,628.98L1109.49,629.73Z M1109.66,648.51L1109.50,648.84L1109.29,649.25L1109.06,649.71L1108.80,650.22L1108.52,650.77L1108.22,651.35L1107.91,651.96L1107.58,652.58L1107.24,653.20L1106.90,653.81L1106.56,654.41L1106.23,654.97L1105.90,655.49L1105.59,655.97L1105.27,656.42L1104.90,656.89L1104.51,657.38L1104.10,657.88L1103.67,658.37L1103.24,658.86L1102.80,659.34L1102.38,659.80L1101.97,660.25L1101.59,660.66L1101.23,661.05L1100.91,661.40L1100.63,661.71L1100.41,661.97L1100.10,662.47L1100.00,663.05L1100.13,663.62L1100.47,664.09L1100.97,664.40L1101.55,664.50L1102.12,664.37L1102.59,664.03L1102.82,663.81L1103.10,663.55L1103.44,663.23L1103.82,662.87L1104.24,662.48L1104.68,662.05L1105.15,661.60L1105.62,661.12L1106.11,660.63L1106.60,660.12L1107.08,659.60L1107.54,659.08L1107.99,658.56L1108.41,658.03L1108.82,657.49L1109.22,656.91L1109.63,656.31L1110.03,655.68L1110.42,655.05L1110.81,654.42L1111.18,653.79L1111.54,653.18L1111.88,652.60L1112.19,652.06L1112.48,651.57L1112.73,651.14L1112.95,650.78L1113.14,650.49L1113.38,649.75L1113.33,648.97L1112.98,648.28L1112.39,647.76L1111.65,647.52L1110.87,647.57L1110.18,647.92Z M1113.80,651.55L1113.97,651.84L1114.20,652.20L1114.48,652.63L1114.80,653.12L1115.15,653.64L1115.52,654.19L1115.90,654.75L1116.28,655.32L1116.65,655.87L1117.00,656.39L1117.32,656.88L1117.60,657.31L1117.83,657.67L1118.00,657.95L1118.66,658.54L1119.49,658.83L1120.36,658.78L1121.15,658.40L1121.74,657.74L1122.03,656.91L1121.98,656.04L1121.60,655.25L1121.37,655.00L1121.08,654.68L1120.75,654.30L1120.37,653.86L1119.96,653.37L1119.53,652.87L1119.10,652.35L1118.66,651.82L1118.23,651.32L1117.82,650.84L1117.45,650.40L1117.11,650.01L1116.82,649.69L1116.60,649.45L1116.09,648.99L1115.44,648.77L1114.76,648.81L1114.15,649.10L1113.69,649.61L1113.47,650.26L1113.51,650.94Z M1120.34,645.32L1120.60,645.30L1120.91,645.28L1121.27,645.24L1121.67,645.19L1122.11,645.14L1122.58,645.08L1123.07,645.02L1123.57,644.96L1124.08,644.89L1124.58,644.83L1125.08,644.77L1125.56,644.71L1126.01,644.65L1126.43,644.61L1126.84,644.53L1127.26,644.45L1127.69,644.36L1128.12,644.28L1128.55,644.20L1128.98,644.11L1129.40,644.03L1129.80,643.96L1130.18,643.89L1130.54,643.82L1130.87,643.75L1131.16,643.70L1131.41,643.65L1131.62,643.61L1132.44,643.28L1133.06,642.66L1133.40,641.85L1133.41,640.98L1133.08,640.16L1132.46,639.54L1131.65,639.20L1130.78,639.19L1130.57,639.23L1130.31,639.28L1130.02,639.33L1129.70,639.40L1129.34,639.47L1128.96,639.54L1128.55,639.62L1128.13,639.70L1127.70,639.78L1127.27,639.86L1126.83,639.95L1126.40,640.03L1125.98,640.11L1125.57,640.19L1125.15,640.31L1124.71,640.43L1124.24,640.56L1123.76,640.70L1123.26,640.83L1122.77,640.97L1122.28,641.10L1121.81,641.23L1121.35,641.36L1120.93,641.48L1120.54,641.60L1120.19,641.70L1119.89,641.80L1119.66,641.88L1119.03,642.15L1118.54,642.63L1118.28,643.26L1118.28,643.94L1118.55,644.57L1119.03,645.06L1119.66,645.32Z M1124.10,632.92L1124.08,633.70L1124.05,634.66L1124.02,635.77L1123.98,637.02L1123.95,638.38L1123.91,639.82L1123.86,641.33L1123.82,642.89L1123.77,644.47L1123.72,646.05L1123.67,647.60L1123.61,649.11L1123.56,650.54L1123.50,651.89L1123.47,653.22L1123.43,654.61L1123.38,656.04L1123.33,657.49L1123.28,658.94L1123.22,660.39L1123.17,661.80L1123.11,663.16L1123.06,664.46L1123.01,665.68L1122.97,666.80L1122.94,667.80L1122.92,668.67L1122.90,669.38L1123.02,670.19L1123.43,670.90L1124.08,671.39L1124.88,671.60L1125.69,671.48L1126.40,671.07L1126.89,670.42L1127.10,669.62L1127.17,668.92L1127.25,668.06L1127.34,667.07L1127.43,665.96L1127.54,664.74L1127.65,663.44L1127.76,662.08L1127.87,660.66L1127.98,659.21L1128.10,657.75L1128.20,656.29L1128.31,654.86L1128.41,653.46L1128.50,652.11L1128.55,650.74L1128.61,649.29L1128.66,647.77L1128.72,646.21L1128.77,644.62L1128.82,643.04L1128.86,641.48L1128.90,639.96L1128.95,638.51L1128.98,637.16L1129.02,635.91L1129.05,634.80L1129.08,633.85L1129.10,633.08L1128.94,632.11L1128.42,631.29L1127.63,630.72L1126.68,630.50L1125.71,630.66L1124.89,631.18L1124.32,631.97Z M1123.41,645.76L1123.24,646.16L1123.02,646.66L1122.77,647.24L1122.49,647.88L1122.18,648.58L1121.85,649.33L1121.51,650.10L1121.16,650.89L1120.80,651.68L1120.44,652.47L1120.08,653.23L1119.73,653.95L1119.40,654.63L1119.09,655.24L1118.79,655.83L1118.47,656.43L1118.14,657.03L1117.79,657.64L1117.44,658.24L1117.10,658.83L1116.75,659.41L1116.42,659.96L1116.10,660.48L1115.80,660.97L1115.53,661.42L1115.28,661.83L1115.07,662.20L1114.90,662.50L1114.72,662.97L1114.73,663.48L1114.94,663.95L1115.30,664.30L1115.77,664.48L1116.28,664.47L1116.75,664.26L1117.10,663.90L1117.29,663.63L1117.53,663.31L1117.81,662.93L1118.11,662.50L1118.45,662.03L1118.81,661.52L1119.19,660.98L1119.58,660.42L1119.97,659.83L1120.37,659.23L1120.77,658.62L1121.16,658.00L1121.54,657.38L1121.91,656.76L1122.26,656.11L1122.63,655.41L1123.01,654.66L1123.40,653.89L1123.79,653.09L1124.17,652.29L1124.55,651.50L1124.92,650.73L1125.27,649.99L1125.60,649.30L1125.90,648.66L1126.17,648.10L1126.40,647.62L1126.59,647.24L1126.75,646.58L1126.64,645.90L1126.29,645.32L1125.74,644.91L1125.08,644.75L1124.40,644.86L1123.82,645.21Z M1125.89,649.36L1126.05,649.60L1126.25,649.88L1126.50,650.22L1126.77,650.60L1127.08,651.01L1127.42,651.45L1127.77,651.91L1128.14,652.38L1128.52,652.86L1128.91,653.34L1129.30,653.82L1129.69,654.28L1130.08,654.72L1130.46,655.14L1130.86,655.53L1131.28,655.92L1131.72,656.31L1132.16,656.69L1132.60,657.06L1133.04,657.43L1133.47,657.77L1133.88,658.11L1134.27,658.42L1134.64,658.71L1134.97,658.98L1135.25,659.21L1135.49,659.41L1135.67,659.58L1136.55,660.01L1137.52,660.08L1138.44,659.77L1139.18,659.13L1139.61,658.25L1139.68,657.28L1139.37,656.36L1138.73,655.62L1138.49,655.46L1138.20,655.27L1137.88,655.05L1137.53,654.81L1137.15,654.55L1136.75,654.28L1136.33,653.99L1135.91,653.69L1135.48,653.38L1135.06,653.07L1134.65,652.76L1134.25,652.45L1133.88,652.15L1133.54,651.86L1133.19,651.57L1132.81,651.24L1132.42,650.88L1132.01,650.49L1131.60,650.09L1131.19,649.68L1130.78,649.28L1130.38,648.88L1130.00,648.49L1129.65,648.13L1129.31,647.80L1129.01,647.50L1128.74,647.24L1128.51,647.04L1127.96,646.63L1127.30,646.45L1126.63,646.55L1126.04,646.89L1125.63,647.44L1125.45,648.10L1125.55,648.77Z M1153.90,631.12L1154.02,631.54L1154.15,632.05L1154.30,632.65L1154.47,633.32L1154.65,634.05L1154.83,634.83L1155.03,635.65L1155.23,636.49L1155.43,637.35L1155.63,638.21L1155.83,639.05L1156.02,639.88L1156.21,640.67L1156.39,641.42L1156.55,642.17L1156.72,642.95L1156.89,643.76L1157.07,644.58L1157.24,645.41L1157.42,646.24L1157.59,647.05L1157.75,647.83L1157.91,648.57L1158.06,649.27L1158.20,649.91L1158.33,650.48L1158.44,650.97L1158.54,651.37L1158.83,652.10L1159.37,652.65L1160.09,652.96L1160.87,652.96L1161.60,652.67L1162.15,652.13L1162.46,651.41L1162.46,650.63L1162.41,650.22L1162.33,649.72L1162.24,649.14L1162.13,648.50L1162.02,647.79L1161.89,647.04L1161.76,646.25L1161.63,645.44L1161.49,644.61L1161.35,643.77L1161.21,642.94L1161.07,642.12L1160.94,641.33L1160.81,640.58L1160.70,639.81L1160.58,639.01L1160.46,638.17L1160.33,637.30L1160.20,636.43L1160.06,635.56L1159.94,634.70L1159.81,633.87L1159.70,633.08L1159.59,632.33L1159.49,631.65L1159.41,631.04L1159.35,630.51L1159.30,630.08L1158.90,629.09L1158.14,628.32L1157.15,627.91L1156.08,627.90L1155.09,628.30L1154.32,629.06L1153.91,630.05Z M1166.53,627.74L1166.44,628.21L1166.32,628.79L1166.17,629.47L1165.99,630.22L1165.80,631.05L1165.59,631.93L1165.36,632.85L1165.13,633.80L1164.90,634.77L1164.66,635.74L1164.44,636.70L1164.22,637.64L1164.02,638.54L1163.83,639.40L1163.62,640.24L1163.40,641.12L1163.18,642.03L1162.96,642.95L1162.75,643.88L1162.53,644.80L1162.33,645.70L1162.13,646.57L1161.94,647.40L1161.77,648.17L1161.61,648.89L1161.47,649.52L1161.35,650.06L1161.26,650.51L1161.22,651.29L1161.48,652.03L1162.01,652.60L1162.71,652.94L1163.49,652.98L1164.23,652.72L1164.80,652.19L1165.14,651.49L1165.27,651.04L1165.42,650.50L1165.60,649.87L1165.79,649.17L1166.00,648.40L1166.22,647.58L1166.45,646.73L1166.69,645.84L1166.94,644.94L1167.18,644.03L1167.44,643.14L1167.68,642.25L1167.93,641.41L1168.17,640.60L1168.45,639.80L1168.75,638.95L1169.06,638.06L1169.39,637.14L1169.72,636.21L1170.06,635.29L1170.39,634.37L1170.71,633.49L1171.03,632.64L1171.32,631.85L1171.60,631.12L1171.85,630.48L1172.08,629.92L1172.27,629.46L1172.38,628.30L1172.04,627.18L1171.30,626.28L1170.26,625.73L1169.10,625.62L1167.98,625.96L1167.08,626.70Z M1148.48,654.88L1148.92,654.82L1149.46,654.75L1150.08,654.66L1150.78,654.57L1151.54,654.46L1152.35,654.36L1153.19,654.25L1154.07,654.13L1154.96,654.02L1155.86,653.91L1156.74,653.79L1157.61,653.69L1158.44,653.58L1159.23,653.49L1160.02,653.41L1160.86,653.33L1161.73,653.24L1162.61,653.16L1163.51,653.08L1164.40,653.00L1165.28,652.92L1166.13,652.84L1166.95,652.77L1167.71,652.70L1168.41,652.64L1169.03,652.58L1169.57,652.53L1170.01,652.49L1170.87,652.24L1171.57,651.67L1172.00,650.88L1172.09,649.99L1171.84,649.13L1171.27,648.43L1170.48,648.00L1169.59,647.91L1169.15,647.95L1168.62,648.00L1168.00,648.05L1167.30,648.12L1166.53,648.18L1165.72,648.26L1164.87,648.33L1163.99,648.41L1163.09,648.50L1162.19,648.58L1161.29,648.66L1160.42,648.75L1159.57,648.83L1158.77,648.91L1157.96,648.98L1157.11,649.06L1156.24,649.14L1155.34,649.22L1154.44,649.31L1153.54,649.39L1152.66,649.48L1151.80,649.56L1150.98,649.64L1150.22,649.71L1149.52,649.78L1148.90,649.83L1148.36,649.88L1147.92,649.92L1146.99,650.21L1146.25,650.84L1145.80,651.71L1145.72,652.68L1146.01,653.61L1146.64,654.35L1147.51,654.80Z M1155.25,653.09L1155.15,653.50L1155.03,654.04L1154.88,654.67L1154.71,655.39L1154.53,656.18L1154.34,657.00L1154.15,657.84L1153.95,658.69L1153.76,659.51L1153.58,660.30L1153.41,661.02L1153.26,661.65L1153.14,662.19L1153.05,662.59L1153.02,663.30L1153.27,663.95L1153.75,664.46L1154.39,664.75L1155.10,664.78L1155.75,664.53L1156.26,664.05L1156.55,663.41L1156.65,663.00L1156.77,662.46L1156.92,661.83L1157.09,661.11L1157.27,660.32L1157.46,659.50L1157.65,658.66L1157.85,657.81L1158.04,656.99L1158.22,656.20L1158.39,655.48L1158.54,654.85L1158.66,654.31L1158.75,653.91L1158.78,653.20L1158.53,652.55L1158.05,652.04L1157.41,651.75L1156.70,651.72L1156.05,651.97L1155.54,652.45Z M1163.91,652.38L1163.86,652.82L1163.79,653.41L1163.70,654.11L1163.60,654.89L1163.49,655.75L1163.38,656.65L1163.26,657.58L1163.15,658.50L1163.04,659.40L1162.93,660.26L1162.83,661.05L1162.74,661.75L1162.67,662.33L1162.61,662.78L1162.66,663.48L1162.98,664.11L1163.51,664.56L1164.18,664.79L1164.88,664.74L1165.51,664.42L1165.96,663.89L1166.19,663.22L1166.24,662.78L1166.31,662.19L1166.40,661.49L1166.50,660.71L1166.61,659.85L1166.72,658.95L1166.84,658.02L1166.95,657.10L1167.06,656.20L1167.17,655.34L1167.27,654.55L1167.36,653.85L1167.43,653.27L1167.49,652.82L1167.44,652.12L1167.12,651.49L1166.59,651.04L1165.92,650.81L1165.22,650.86L1164.59,651.18L1164.14,651.71Z M1147.86,668.69L1148.27,668.63L1148.78,668.57L1149.38,668.50L1150.04,668.42L1150.76,668.34L1151.53,668.25L1152.35,668.16L1153.19,668.07L1154.05,667.97L1154.91,667.87L1155.78,667.78L1156.63,667.68L1157.46,667.58L1158.25,667.49L1159.06,667.40L1159.92,667.31L1160.81,667.22L1161.73,667.12L1162.67,667.02L1163.60,666.92L1164.52,666.82L1165.41,666.73L1166.26,666.63L1167.06,666.55L1167.80,666.47L1168.45,666.40L1169.01,666.33L1169.47,666.29L1170.40,665.99L1171.15,665.37L1171.60,664.50L1171.69,663.53L1171.39,662.60L1170.77,661.85L1169.90,661.40L1168.93,661.31L1168.47,661.36L1167.91,661.42L1167.26,661.50L1166.52,661.58L1165.72,661.66L1164.87,661.76L1163.98,661.85L1163.06,661.95L1162.13,662.05L1161.20,662.15L1160.29,662.25L1159.40,662.34L1158.54,662.43L1157.75,662.51L1156.96,662.58L1156.13,662.65L1155.28,662.71L1154.42,662.78L1153.55,662.85L1152.70,662.92L1151.85,662.99L1151.04,663.05L1150.27,663.11L1149.54,663.16L1148.88,663.21L1148.28,663.25L1147.77,663.29L1147.34,663.31L1146.33,663.62L1145.52,664.28L1145.02,665.21L1144.91,666.26L1145.22,667.27L1145.88,668.08L1146.81,668.58Z M1187.28,651.00L1187.66,650.93L1188.13,650.85L1188.67,650.74L1189.28,650.63L1189.93,650.50L1190.63,650.36L1191.36,650.22L1192.12,650.07L1192.88,649.92L1193.64,649.77L1194.40,649.63L1195.13,649.49L1195.83,649.37L1196.49,649.25L1197.14,649.14L1197.83,649.03L1198.54,648.91L1199.26,648.80L1199.99,648.68L1200.72,648.57L1201.43,648.46L1202.12,648.36L1202.78,648.26L1203.40,648.17L1203.97,648.09L1204.48,648.01L1204.92,647.95L1205.29,647.91L1206.29,647.51L1207.06,646.77L1207.49,645.79L1207.51,644.71L1207.11,643.71L1206.37,642.94L1205.39,642.51L1204.31,642.49L1203.96,642.57L1203.54,642.67L1203.04,642.77L1202.48,642.89L1201.86,643.02L1201.21,643.15L1200.52,643.29L1199.80,643.44L1199.07,643.59L1198.34,643.74L1197.60,643.89L1196.88,644.05L1196.18,644.20L1195.51,644.35L1194.83,644.50L1194.12,644.67L1193.38,644.85L1192.62,645.03L1191.85,645.21L1191.09,645.40L1190.34,645.58L1189.61,645.76L1188.91,645.93L1188.26,646.10L1187.67,646.25L1187.14,646.38L1186.69,646.50L1186.32,646.60L1185.51,646.95L1184.91,647.59L1184.59,648.40L1184.60,649.28L1184.95,650.09L1185.59,650.69L1186.40,651.01Z M1194.35,628.35L1194.36,629.06L1194.37,629.94L1194.38,630.93L1194.40,632.03L1194.41,633.22L1194.42,634.47L1194.42,635.78L1194.41,637.11L1194.38,638.45L1194.33,639.78L1194.26,641.07L1194.17,642.29L1194.05,643.43L1193.90,644.49L1193.72,645.52L1193.53,646.58L1193.32,647.62L1193.09,648.65L1192.85,649.66L1192.59,650.65L1192.31,651.63L1192.01,652.58L1191.68,653.51L1191.33,654.41L1190.95,655.28L1190.54,656.13L1190.11,656.94L1189.66,657.71L1189.15,658.45L1188.54,659.20L1187.83,659.97L1187.05,660.76L1186.22,661.53L1185.34,662.30L1184.46,663.04L1183.58,663.76L1182.72,664.44L1181.90,665.08L1181.14,665.67L1180.46,666.22L1179.86,666.72L1179.39,667.14L1178.96,667.67L1178.76,668.32L1178.82,669.00L1179.14,669.61L1179.67,670.04L1180.32,670.24L1181.00,670.18L1181.61,669.86L1182.06,669.53L1182.63,669.14L1183.33,668.67L1184.13,668.14L1185.00,667.55L1185.93,666.90L1186.91,666.21L1187.90,665.47L1188.90,664.69L1189.88,663.88L1190.83,663.03L1191.74,662.15L1192.59,661.23L1193.34,660.29L1194.00,659.34L1194.60,658.39L1195.16,657.40L1195.68,656.39L1196.17,655.36L1196.62,654.31L1197.04,653.25L1197.43,652.17L1197.79,651.08L1198.13,649.98L1198.45,648.87L1198.75,647.76L1199.03,646.65L1199.30,645.51L1199.55,644.29L1199.77,642.97L1199.95,641.60L1200.10,640.20L1200.22,638.78L1200.33,637.37L1200.42,635.97L1200.49,634.63L1200.56,633.34L1200.61,632.14L1200.67,631.05L1200.72,630.09L1200.78,629.29L1200.85,628.65L1200.66,627.39L1200.00,626.31L1198.98,625.56L1197.75,625.25L1196.49,625.44L1195.41,626.10L1194.66,627.12Z M1194.40,653.20L1194.64,653.60L1194.92,654.11L1195.28,654.72L1195.69,655.42L1196.15,656.19L1196.65,657.02L1197.19,657.88L1197.77,658.76L1198.37,659.64L1199.00,660.51L1199.65,661.37L1200.34,662.18L1201.05,662.96L1201.81,663.67L1202.65,664.29L1203.52,664.83L1204.42,665.32L1205.33,665.77L1206.25,666.17L1207.15,666.53L1208.04,666.86L1208.89,667.17L1209.70,667.44L1210.44,667.69L1211.11,667.91L1211.67,668.10L1212.10,668.26L1212.45,668.41L1213.61,668.60L1214.75,668.33L1215.70,667.64L1216.31,666.65L1216.50,665.49L1216.23,664.35L1215.54,663.40L1214.55,662.79L1214.07,662.63L1213.48,662.45L1212.84,662.27L1212.15,662.08L1211.43,661.88L1210.67,661.66L1209.90,661.42L1209.12,661.17L1208.35,660.89L1207.60,660.60L1206.90,660.30L1206.25,659.98L1205.68,659.65L1205.19,659.33L1204.69,658.97L1204.13,658.50L1203.53,657.93L1202.91,657.29L1202.29,656.59L1201.67,655.86L1201.06,655.11L1200.46,654.36L1199.89,653.63L1199.36,652.94L1198.85,652.29L1198.39,651.70L1197.96,651.19L1197.60,650.80L1197.02,650.28L1196.28,650.02L1195.50,650.06L1194.80,650.40L1194.28,650.98L1194.02,651.72L1194.06,652.50Z M1224.21,634.26L1224.29,634.73L1224.39,635.34L1224.50,636.08L1224.62,636.91L1224.75,637.81L1224.88,638.76L1225.01,639.74L1225.15,640.71L1225.28,641.66L1225.41,642.57L1225.53,643.40L1225.64,644.13L1225.73,644.75L1225.81,645.22L1226.05,645.96L1226.55,646.56L1227.24,646.92L1228.02,646.99L1228.76,646.75L1229.36,646.25L1229.72,645.56L1229.79,644.78L1229.77,644.31L1229.73,643.69L1229.67,642.95L1229.61,642.11L1229.54,641.20L1229.47,640.24L1229.39,639.26L1229.31,638.28L1229.23,637.32L1229.16,636.41L1229.10,635.58L1229.05,634.84L1229.01,634.22L1228.99,633.74L1228.70,632.85L1228.10,632.13L1227.27,631.70L1226.34,631.61L1225.45,631.90L1224.73,632.50L1224.30,633.33Z M1230.41,630.16L1230.39,630.69L1230.35,631.37L1230.30,632.18L1230.24,633.10L1230.16,634.10L1230.09,635.15L1230.01,636.23L1229.93,637.31L1229.86,638.36L1229.79,639.36L1229.72,640.28L1229.67,641.10L1229.63,641.78L1229.61,642.30L1229.69,643.08L1230.05,643.77L1230.66,644.26L1231.40,644.49L1232.18,644.41L1232.87,644.05L1233.36,643.44L1233.59,642.70L1233.67,642.18L1233.77,641.50L1233.87,640.70L1233.99,639.78L1234.12,638.79L1234.25,637.74L1234.39,636.67L1234.52,635.59L1234.66,634.55L1234.78,633.55L1234.90,632.64L1235.01,631.83L1235.11,631.15L1235.19,630.64L1235.10,629.70L1234.66,628.88L1233.93,628.28L1233.04,628.01L1232.10,628.10L1231.28,628.54L1230.68,629.27Z M1238.37,626.01L1238.28,626.55L1238.14,627.26L1237.98,628.10L1237.78,629.05L1237.57,630.08L1237.35,631.16L1237.11,632.27L1236.88,633.38L1236.66,634.47L1236.44,635.50L1236.25,636.44L1236.08,637.28L1235.95,637.99L1235.86,638.53L1235.82,639.31L1236.09,640.04L1236.62,640.62L1237.33,640.94L1238.11,640.98L1238.84,640.71L1239.42,640.18L1239.74,639.47L1239.91,638.95L1240.11,638.26L1240.35,637.43L1240.61,636.50L1240.89,635.49L1241.19,634.42L1241.49,633.33L1241.79,632.23L1242.08,631.17L1242.37,630.15L1242.63,629.22L1242.86,628.40L1243.07,627.71L1243.23,627.19L1243.27,626.21L1242.93,625.30L1242.27,624.58L1241.39,624.17L1240.41,624.13L1239.50,624.47L1238.78,625.13Z M1222.26,658.80L1222.67,658.54L1223.17,658.26L1223.74,657.94L1224.37,657.59L1225.07,657.22L1225.81,656.82L1226.60,656.41L1227.43,655.98L1228.30,655.54L1229.18,655.09L1230.09,654.64L1231.00,654.19L1231.92,653.73L1232.84,653.29L1233.81,652.83L1234.88,652.33L1236.04,651.80L1237.26,651.24L1238.52,650.68L1239.80,650.11L1241.07,649.55L1242.31,648.99L1243.50,648.46L1244.62,647.95L1245.65,647.48L1246.56,647.05L1247.33,646.68L1247.95,646.37L1248.36,646.11L1248.64,645.71L1248.75,645.23L1248.67,644.75L1248.41,644.34L1248.01,644.06L1247.53,643.95L1247.05,644.03L1246.38,644.21L1245.56,644.45L1244.60,644.75L1243.52,645.08L1242.35,645.46L1241.10,645.86L1239.81,646.28L1238.49,646.71L1237.16,647.15L1235.84,647.58L1234.56,648.00L1233.34,648.40L1232.20,648.77L1231.16,649.11L1230.18,649.43L1229.19,649.76L1228.21,650.08L1227.23,650.41L1226.28,650.73L1225.35,651.04L1224.46,651.34L1223.61,651.63L1222.80,651.89L1222.05,652.13L1221.36,652.35L1220.74,652.54L1220.20,652.69L1219.74,652.80L1218.69,653.51L1217.99,654.57L1217.75,655.82L1218.00,657.06L1218.71,658.11L1219.77,658.81L1221.02,659.05Z M1236.35,656.26L1236.65,656.07L1237.04,655.81L1237.50,655.50L1238.03,655.15L1238.60,654.76L1239.19,654.36L1239.81,653.94L1240.42,653.53L1241.02,653.12L1241.59,652.74L1242.11,652.39L1242.57,652.08L1242.96,651.82L1243.27,651.63L1243.67,651.20L1243.88,650.65L1243.86,650.07L1243.63,649.53L1243.20,649.13L1242.65,648.92L1242.07,648.94L1241.53,649.17L1241.25,649.39L1240.88,649.67L1240.43,650.01L1239.92,650.38L1239.37,650.79L1238.79,651.22L1238.19,651.66L1237.60,652.09L1237.01,652.52L1236.46,652.93L1235.96,653.31L1235.51,653.64L1235.13,653.92L1234.85,654.14L1234.50,654.51L1234.32,654.98L1234.33,655.49L1234.54,655.95L1234.91,656.30L1235.38,656.48L1235.89,656.47Z M1238.47,653.74L1238.41,654.16L1238.33,654.68L1238.25,655.28L1238.16,655.95L1238.05,656.67L1237.95,657.44L1237.83,658.25L1237.71,659.07L1237.58,659.89L1237.45,660.71L1237.31,661.50L1237.18,662.26L1237.04,662.97L1236.90,663.60L1236.76,664.22L1236.61,664.85L1236.44,665.50L1236.25,666.16L1236.06,666.81L1235.86,667.46L1235.67,668.09L1235.47,668.70L1235.28,669.28L1235.10,669.82L1234.94,670.32L1234.80,670.78L1234.67,671.18L1234.58,671.52L1234.50,672.10L1234.66,672.67L1235.01,673.13L1235.52,673.42L1236.10,673.50L1236.67,673.34L1237.13,672.99L1237.42,672.48L1237.54,672.18L1237.69,671.81L1237.86,671.38L1238.06,670.89L1238.27,670.35L1238.50,669.77L1238.73,669.16L1238.97,668.52L1239.22,667.85L1239.45,667.17L1239.69,666.48L1239.91,665.78L1240.12,665.09L1240.30,664.40L1240.46,663.68L1240.61,662.92L1240.76,662.11L1240.90,661.28L1241.04,660.44L1241.17,659.59L1241.29,658.75L1241.41,657.94L1241.52,657.16L1241.62,656.43L1241.71,655.76L1241.80,655.17L1241.87,654.67L1241.93,654.26L1241.90,653.58L1241.61,652.96L1241.11,652.50L1240.46,652.27L1239.78,652.30L1239.16,652.59L1238.70,653.09Z M1231.84,669.76L1232.11,669.65L1232.42,669.52L1232.80,669.36L1233.21,669.19L1233.66,669.00L1234.14,668.79L1234.65,668.57L1235.17,668.34L1235.71,668.11L1236.24,667.87L1236.77,667.64L1237.29,667.41L1237.79,667.18L1238.27,666.97L1238.74,666.74L1239.24,666.49L1239.75,666.23L1240.27,665.97L1240.80,665.70L1241.33,665.43L1241.84,665.17L1242.34,664.92L1242.81,664.67L1243.26,664.44L1243.67,664.23L1244.03,664.05L1244.34,663.89L1244.59,663.76L1245.13,663.34L1245.46,662.74L1245.54,662.06L1245.36,661.41L1244.94,660.87L1244.34,660.54L1243.66,660.46L1243.01,660.64L1242.75,660.77L1242.43,660.93L1242.07,661.12L1241.66,661.33L1241.22,661.56L1240.74,661.80L1240.25,662.05L1239.74,662.32L1239.22,662.58L1238.69,662.85L1238.18,663.11L1237.67,663.36L1237.19,663.60L1236.73,663.83L1236.28,664.07L1235.80,664.32L1235.30,664.58L1234.79,664.84L1234.28,665.11L1233.77,665.37L1233.26,665.63L1232.77,665.88L1232.31,666.12L1231.87,666.35L1231.47,666.55L1231.11,666.74L1230.81,666.91L1230.56,667.04L1230.09,667.39L1229.79,667.90L1229.70,668.48L1229.84,669.04L1230.19,669.51L1230.70,669.81L1231.28,669.90Z" fill="#ffffff" fill-opacity="0.97"/>
<text transform="translate(1022.6,689.6) scale(1.16,1)" font-size="10.6" fill="#fff" stroke="#fff" stroke-width="0.25" class="ss" textLength="186.5" lengthAdjust="spacing">BEIJING FORESTRY UNIVERSITY</text>
<path d="M1260.2,620.1 V692.5" stroke="#fff" stroke-width="1.3"/>
<path d="M1286.0,622.9L1286.0,627.5M1278.0,628.0L1294.4,628.0M1280.9,629.4L1282.8,634.2M1291.7,629.4L1289.6,634.2M1276.8,635.1L1295.6,635.1M1277.5,641.2L1294.8,641.2M1286.1,635.1L1286.1,656.4M1285.4,642.4L1277.0,652.5M1287.1,642.9L1294.6,650.1M1309.7,624.1L1297.9,627.5M1298.2,627.0L1298.2,641.4L1297.0,649.8L1293.8,656.1M1298.2,637.5L1310.9,637.5M1305.4,637.5L1305.4,656.8M1317.6,623.6L1321.2,628.5M1316.3,630.4L1316.3,656.4M1323.9,625.5L1344.3,625.5L1344.3,655.1L1339.2,655.1M1321.2,632.1L1340.4,632.1M1325.3,632.1L1325.3,649.6M1335.9,632.1L1335.9,654.9M1325.3,637.8L1335.9,637.8M1325.3,643.5L1335.9,643.5M1320.5,650.3L1340.9,647.9" fill="none" stroke="#fff" stroke-width="2.6" stroke-linecap="butt" stroke-linejoin="miter"/>
<text x="1277.3" y="687.7" font-size="31.3" fill="#fff" stroke="#fff" stroke-width="0.45" class="ss" textLength="75.6" lengthAdjust="spacingAndGlyphs">NEWS</text>
</svg>
</body></html>
